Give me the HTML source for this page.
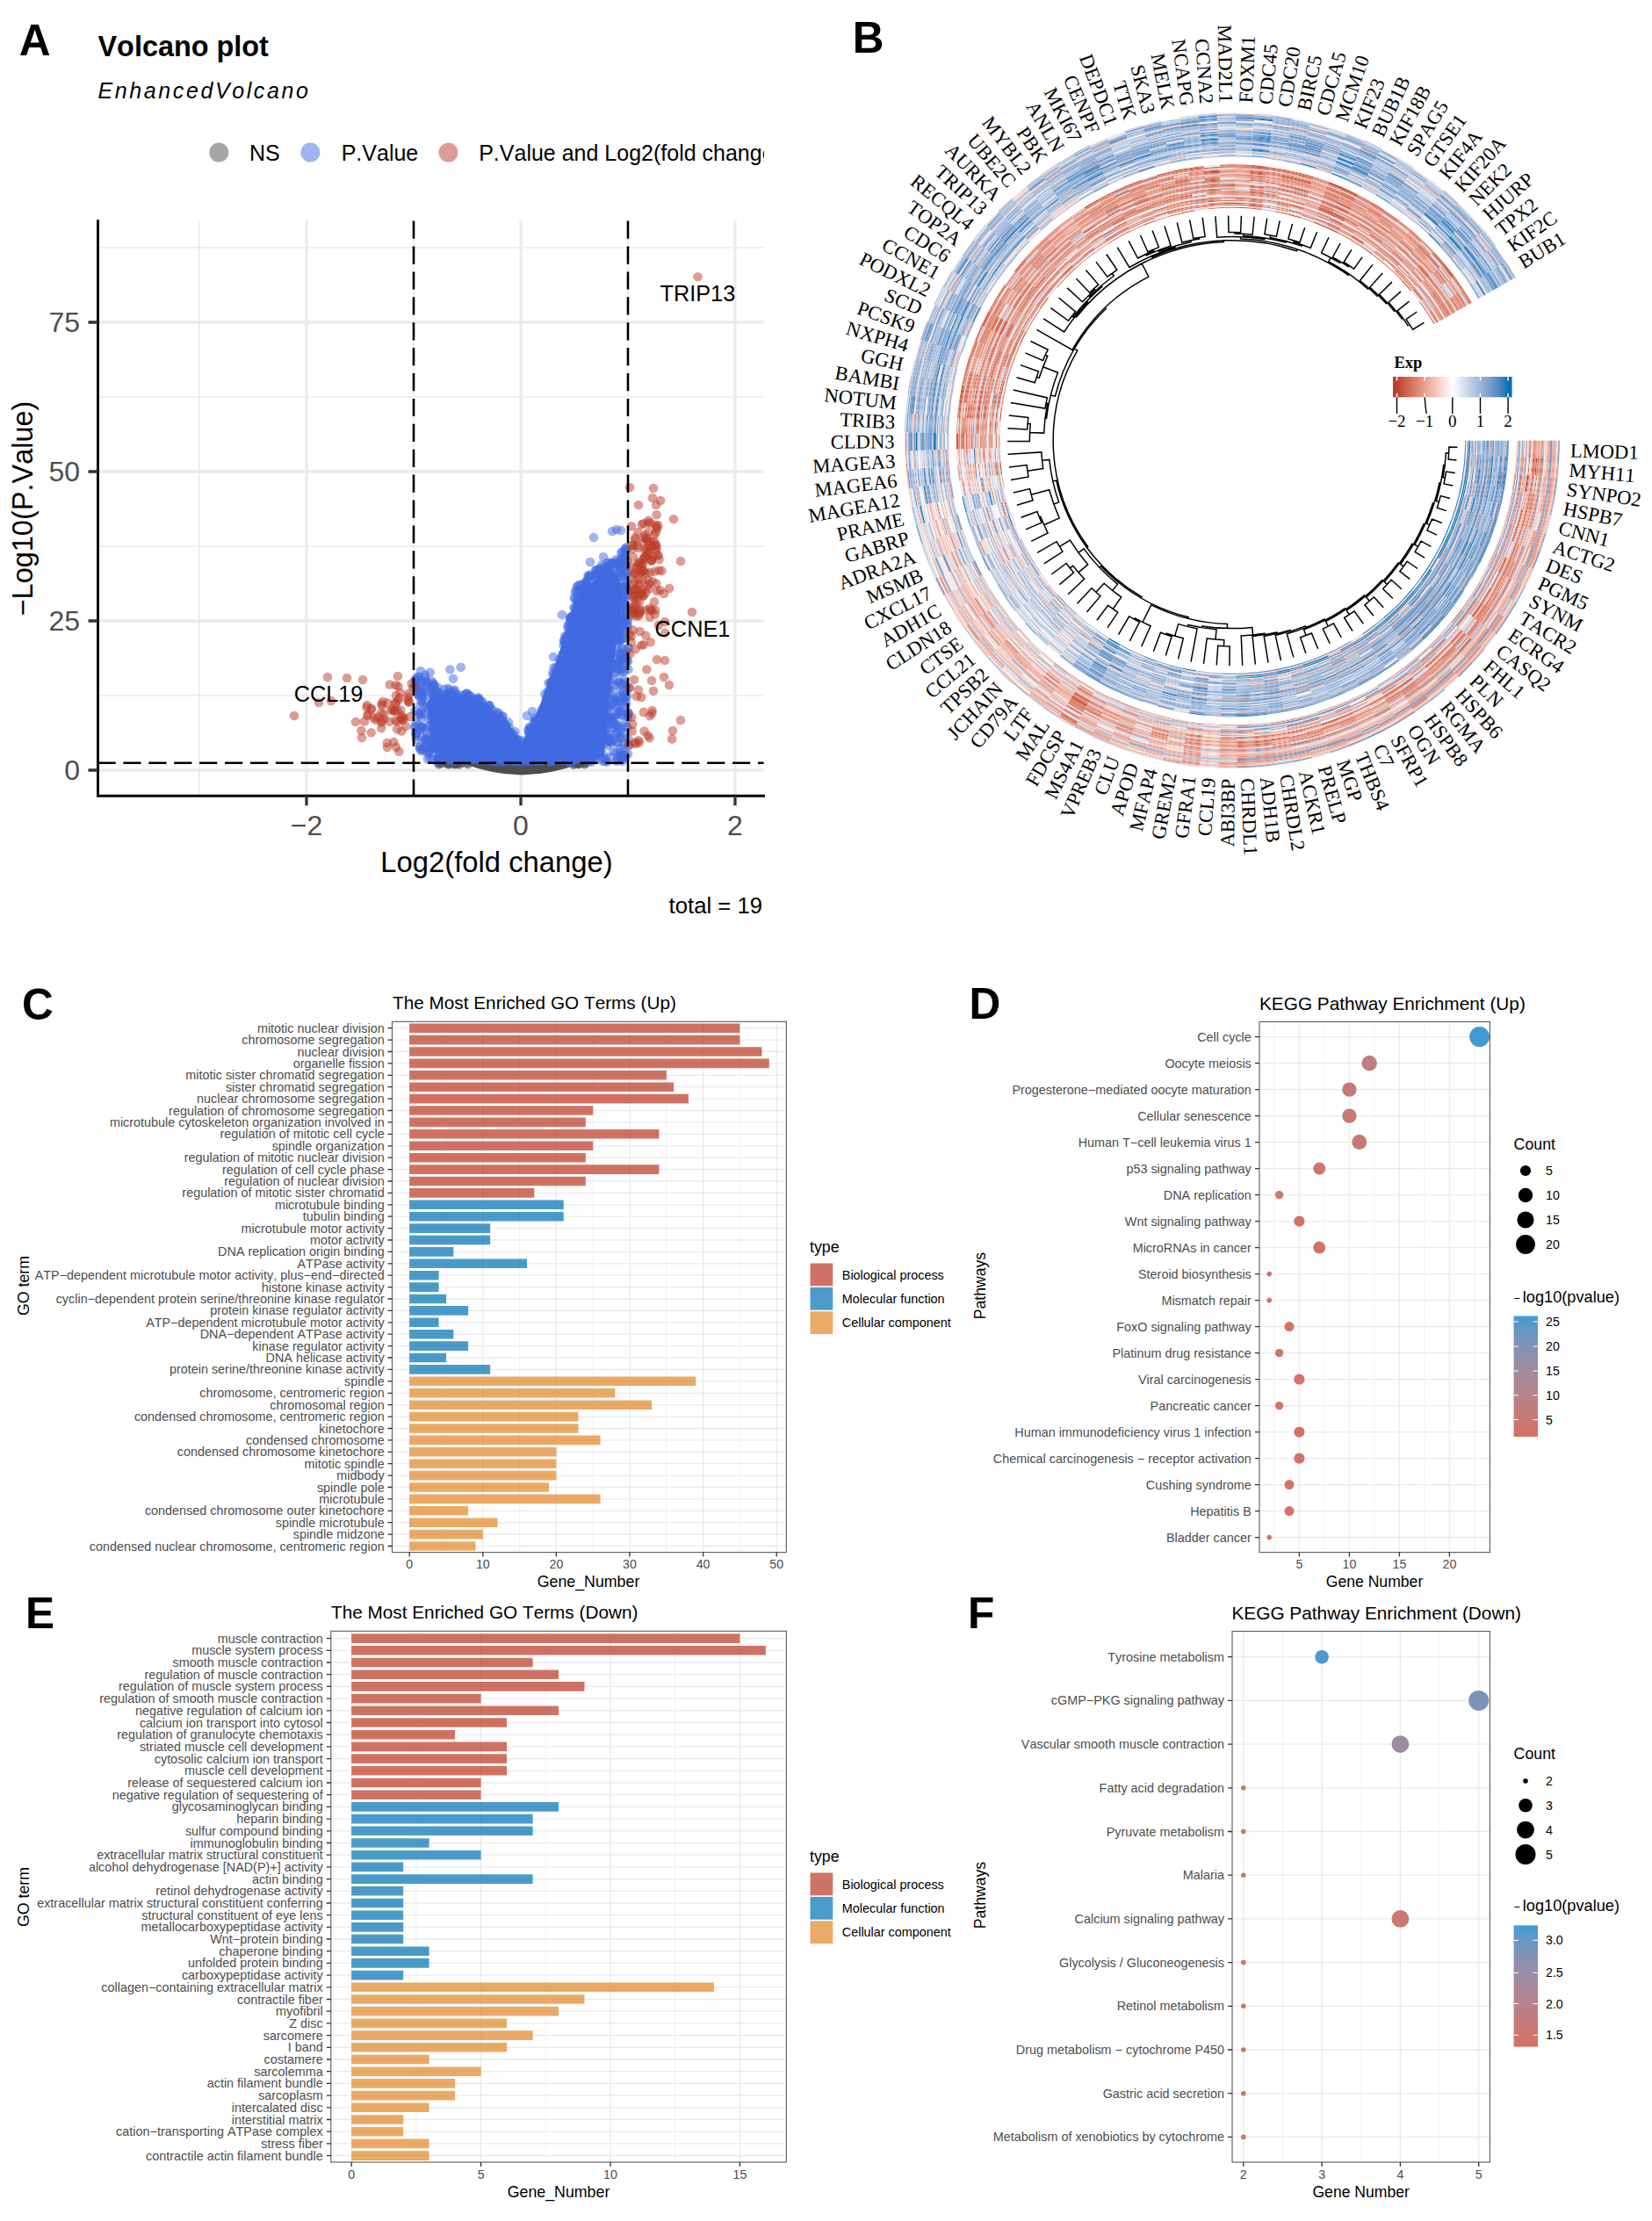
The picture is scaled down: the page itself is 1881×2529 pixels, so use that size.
<!DOCTYPE html>
<html><head><meta charset="utf-8"><title>Figure</title>
<style>html,body{margin:0;padding:0;background:#fff}svg{display:block;font-family:"Liberation Sans",Arial,Helvetica,sans-serif;font-kerning:none}</style>
</head><body>
<svg width="1881" height="2529" viewBox="0 0 1881 2529">
<rect width="1881" height="2529" fill="#fff"/>
<g id="panelA">
<text x="21.8" y="63" font-size="49.6" font-weight="bold">A</text>
<text x="111.5" y="63.5" font-size="32.4" font-weight="bold">Volcano plot</text>
<text x="111.5" y="112" font-size="25" font-style="italic" letter-spacing="2.6">EnhancedVolcano</text>
<clipPath id="clipA"><rect x="0" y="0" width="870" height="1100"/></clipPath>
<circle cx="249.3" cy="173.6" r="11" fill="#4D4D4D" fill-opacity=".5"/>
<circle cx="353.4" cy="173.6" r="11" fill="#4169E1" fill-opacity=".5"/>
<circle cx="510.5" cy="173.6" r="11" fill="#BC3C29" fill-opacity=".5"/>
<text x="284" y="183" font-size="25">NS</text>
<text x="388.7" y="183" font-size="25">P.Value</text>
<g clip-path="url(#clipA)">
<text x="545.2" y="183" font-size="25">P.Value and Log2(fold change)</text>
</g>
<path d="M227 251.6V906.3M471 251.6V906.3M715 251.6V906.3M111.5 792H869.5M111.5 622H869.5M111.5 452H869.5M111.5 282H869.5" stroke="#EBEBEB" stroke-width="1.7" fill="none"/>
<path d="M349 251.6V906.3M593 251.6V906.3M837 251.6V906.3M111.5 877H869.5M111.5 707H869.5M111.5 537H869.5M111.5 367H869.5" stroke="#EBEBEB" stroke-width="3.3" fill="none"/>
<path d="M531 866L657 866L657 869Q628 880 594 881Q560 880 531 869Z" fill="#4D4D4D" stroke="#4D4D4D" stroke-width="3" stroke-linejoin="round"/>
<g fill="#4D4D4D" fill-opacity=".5"><circle cx="508.6" cy="868.2" r="5"/><circle cx="516.9" cy="870.7" r="5"/><circle cx="651.5" cy="868.2" r="5"/><circle cx="499.5" cy="870.8" r="5"/><circle cx="520.6" cy="869.7" r="5"/><circle cx="511.5" cy="869.7" r="5"/><circle cx="501.2" cy="869.7" r="5"/><circle cx="517.9" cy="869.7" r="5"/><circle cx="520.9" cy="869.7" r="5"/><circle cx="658.9" cy="870.3" r="5"/><circle cx="666.6" cy="868.9" r="5"/><circle cx="527" cy="868.2" r="5"/><circle cx="658.9" cy="870.2" r="5"/><circle cx="507.2" cy="869.5" r="5"/><circle cx="656.2" cy="869.3" r="5"/><circle cx="651.4" cy="869" r="5"/><circle cx="658.9" cy="868.2" r="5"/><circle cx="499.7" cy="868.2" r="5"/><circle cx="661.6" cy="868.9" r="5"/><circle cx="511" cy="870.8" r="5"/><circle cx="661" cy="868.2" r="5"/><circle cx="526" cy="869.2" r="5"/><circle cx="531.8" cy="869.3" r="5"/><circle cx="665.9" cy="870.6" r="5"/><circle cx="657.5" cy="870" r="5"/><circle cx="510.8" cy="868.5" r="5"/><circle cx="654.2" cy="870.5" r="5"/><circle cx="503.1" cy="869.3" r="5"/><circle cx="510.4" cy="870.1" r="5"/><circle cx="516.1" cy="869.4" r="5"/><circle cx="667.1" cy="869.2" r="5"/><circle cx="658.7" cy="868.2" r="5"/><circle cx="498.6" cy="868.3" r="5"/><circle cx="519.4" cy="869.6" r="5"/><circle cx="533" cy="870.6" r="5"/><circle cx="652.7" cy="870.9" r="5"/><circle cx="519.5" cy="870.5" r="5"/><circle cx="658.4" cy="868.9" r="5"/><circle cx="663.5" cy="869.4" r="5"/><circle cx="523" cy="870.9" r="5"/></g>
<path d="M490 800L500 792L525 795L553 806L574 823L588 842L594.5 852L602 837L616 808L630 771L641 740L652 705L657 684L667 671L680 663L690 656L700 658L705 675L703 700L699 730L694 770L690 800L688 830L685 858L672 866L520 866L495 850Z" fill="#4169E1" stroke="#4169E1" stroke-width="6" stroke-linejoin="round"/>
<g fill="#4169E1" fill-opacity=".5"><circle cx="601" cy="864.5" r="5.3"/><circle cx="671.3" cy="866.2" r="5.3"/><circle cx="534.3" cy="791.6" r="5.3"/><circle cx="707.2" cy="729" r="5.3"/><circle cx="715" cy="858.5" r="5.3"/><circle cx="491" cy="783.4" r="5.3"/><circle cx="668.6" cy="862.8" r="5.3"/><circle cx="675" cy="865" r="5.3"/><circle cx="701.5" cy="725.6" r="5.3"/><circle cx="674.9" cy="668.8" r="5.3"/><circle cx="696.3" cy="728" r="5.3"/><circle cx="641.8" cy="730.3" r="5.3"/><circle cx="703.5" cy="793.3" r="5.3"/><circle cx="703.7" cy="681.2" r="5.3"/><circle cx="488.1" cy="785.7" r="5.3"/><circle cx="692.5" cy="654.4" r="5.3"/><circle cx="710" cy="671" r="5.3"/><circle cx="706.2" cy="716.6" r="5.3"/><circle cx="549" cy="799.1" r="5.3"/><circle cx="714.3" cy="816" r="5.3"/><circle cx="488" cy="854.3" r="5.3"/><circle cx="658.4" cy="688.9" r="5.3"/><circle cx="701.8" cy="642.1" r="5.3"/><circle cx="640.6" cy="865.5" r="5.3"/><circle cx="708.5" cy="863" r="5.3"/><circle cx="530.6" cy="861.2" r="5.3"/><circle cx="714.2" cy="653.1" r="5.3"/><circle cx="480.9" cy="828" r="5.3"/><circle cx="691.4" cy="789.1" r="5.3"/><circle cx="496" cy="828.1" r="5.3"/><circle cx="625.3" cy="788.6" r="5.3"/><circle cx="653.5" cy="863.8" r="5.3"/><circle cx="654.3" cy="692.6" r="5.3"/><circle cx="706.3" cy="648.8" r="5.3"/><circle cx="689.9" cy="794.4" r="5.3"/><circle cx="699.7" cy="796.8" r="5.3"/><circle cx="702" cy="678.6" r="5.3"/><circle cx="707.1" cy="840.5" r="5.3"/><circle cx="703.3" cy="755.1" r="5.3"/><circle cx="482.3" cy="801.7" r="5.3"/><circle cx="699.8" cy="647.5" r="5.3"/><circle cx="543.8" cy="803.5" r="5.3"/><circle cx="712.1" cy="681.3" r="5.3"/><circle cx="710" cy="647.1" r="5.3"/><circle cx="706.6" cy="831.4" r="5.3"/><circle cx="699.9" cy="825.5" r="5.3"/><circle cx="711.1" cy="678.4" r="5.3"/><circle cx="703.5" cy="799" r="5.3"/><circle cx="664" cy="674.3" r="5.3"/><circle cx="707.8" cy="779.4" r="5.3"/><circle cx="699.4" cy="672.8" r="5.3"/><circle cx="520.9" cy="862.3" r="5.3"/><circle cx="658.6" cy="690.2" r="5.3"/><circle cx="522.8" cy="863.4" r="5.3"/><circle cx="692.7" cy="840.3" r="5.3"/><circle cx="707" cy="646.5" r="5.3"/><circle cx="709.1" cy="667.9" r="5.3"/><circle cx="571.9" cy="822" r="5.3"/><circle cx="700.2" cy="661.6" r="5.3"/><circle cx="550.8" cy="865" r="5.3"/><circle cx="689.1" cy="866.9" r="5.3"/><circle cx="646" cy="729" r="5.3"/><circle cx="623.8" cy="786.9" r="5.3"/><circle cx="711.3" cy="763.7" r="5.3"/><circle cx="706.4" cy="694.7" r="5.3"/><circle cx="575.1" cy="824.2" r="5.3"/><circle cx="599.2" cy="851" r="5.3"/><circle cx="669.6" cy="861.6" r="5.3"/><circle cx="703.9" cy="863.8" r="5.3"/><circle cx="483.2" cy="851.2" r="5.3"/><circle cx="694.2" cy="773.2" r="5.3"/><circle cx="531.3" cy="799.8" r="5.3"/><circle cx="475.8" cy="772.8" r="5.3"/><circle cx="705.8" cy="649.7" r="5.3"/><circle cx="518" cy="865.3" r="5.3"/><circle cx="697.2" cy="657.1" r="5.3"/><circle cx="594.6" cy="849.6" r="5.3"/><circle cx="510" cy="853.8" r="5.3"/><circle cx="715.6" cy="762.2" r="5.3"/><circle cx="628.5" cy="865.9" r="5.3"/><circle cx="597.1" cy="843.4" r="5.3"/><circle cx="503.4" cy="853.8" r="5.3"/><circle cx="493.8" cy="777.7" r="5.3"/><circle cx="686.1" cy="814.4" r="5.3"/><circle cx="472.9" cy="779.5" r="5.3"/><circle cx="690.6" cy="814.7" r="5.3"/><circle cx="553.2" cy="806.2" r="5.3"/><circle cx="709.4" cy="670.3" r="5.3"/><circle cx="655" cy="698.4" r="5.3"/><circle cx="626.4" cy="791.7" r="5.3"/><circle cx="635" cy="864.6" r="5.3"/><circle cx="486.4" cy="836.3" r="5.3"/><circle cx="704.2" cy="642.3" r="5.3"/><circle cx="478.5" cy="831.2" r="5.3"/><circle cx="657.8" cy="667.3" r="5.3"/><circle cx="540.1" cy="797.5" r="5.3"/><circle cx="709.1" cy="743.5" r="5.3"/><circle cx="492.5" cy="824.1" r="5.3"/><circle cx="667.6" cy="662.1" r="5.3"/><circle cx="643.5" cy="742.1" r="5.3"/><circle cx="490.1" cy="815.9" r="5.3"/><circle cx="693.5" cy="742.8" r="5.3"/><circle cx="584.6" cy="840.7" r="5.3"/><circle cx="544.8" cy="794.3" r="5.3"/><circle cx="679.2" cy="654.4" r="5.3"/><circle cx="516.9" cy="863.7" r="5.3"/><circle cx="708.7" cy="640.9" r="5.3"/><circle cx="565.3" cy="865.9" r="5.3"/><circle cx="526.7" cy="799.2" r="5.3"/><circle cx="688.3" cy="812.4" r="5.3"/><circle cx="700.7" cy="661.7" r="5.3"/><circle cx="711.7" cy="624.7" r="5.3"/><circle cx="705.1" cy="668.6" r="5.3"/><circle cx="709" cy="705" r="5.3"/><circle cx="691" cy="770.1" r="5.3"/><circle cx="518.9" cy="791.7" r="5.3"/><circle cx="603.8" cy="835" r="5.3"/><circle cx="708.2" cy="634.2" r="5.3"/><circle cx="628" cy="777.2" r="5.3"/><circle cx="477.1" cy="770.5" r="5.3"/><circle cx="701" cy="699.3" r="5.3"/><circle cx="595.6" cy="863.6" r="5.3"/><circle cx="479.9" cy="799.3" r="5.3"/><circle cx="625.4" cy="792.6" r="5.3"/><circle cx="479.2" cy="812.5" r="5.3"/><circle cx="702.6" cy="865.1" r="5.3"/><circle cx="500.2" cy="861.4" r="5.3"/><circle cx="482.4" cy="812.4" r="5.3"/><circle cx="490.9" cy="775.3" r="5.3"/><circle cx="473.7" cy="780.9" r="5.3"/><circle cx="629.9" cy="775.6" r="5.3"/><circle cx="711.5" cy="794.3" r="5.3"/><circle cx="712.4" cy="827" r="5.3"/><circle cx="480.5" cy="827.5" r="5.3"/><circle cx="667.8" cy="666.1" r="5.3"/><circle cx="692.4" cy="840.7" r="5.3"/><circle cx="514.8" cy="793.8" r="5.3"/><circle cx="704.7" cy="810.6" r="5.3"/><circle cx="708.9" cy="679.8" r="5.3"/><circle cx="499.7" cy="859.6" r="5.3"/><circle cx="630.4" cy="866.3" r="5.3"/><circle cx="616.7" cy="808.3" r="5.3"/><circle cx="701.6" cy="836" r="5.3"/><circle cx="494.1" cy="851.8" r="5.3"/><circle cx="498.3" cy="864.5" r="5.3"/><circle cx="484.1" cy="843.2" r="5.3"/><circle cx="699.4" cy="639.9" r="5.3"/><circle cx="621.9" cy="795.5" r="5.3"/><circle cx="651.7" cy="719.1" r="5.3"/><circle cx="695.7" cy="736.5" r="5.3"/><circle cx="646.4" cy="712.3" r="5.3"/><circle cx="686.5" cy="858.3" r="5.3"/><circle cx="493.9" cy="793.2" r="5.3"/><circle cx="495.5" cy="836.7" r="5.3"/><circle cx="683.6" cy="652.5" r="5.3"/><circle cx="702.5" cy="714.1" r="5.3"/><circle cx="578" cy="865.2" r="5.3"/><circle cx="504.6" cy="862.3" r="5.3"/><circle cx="689.3" cy="840.6" r="5.3"/><circle cx="605.5" cy="829.1" r="5.3"/><circle cx="646.2" cy="732.5" r="5.3"/><circle cx="714.9" cy="690.4" r="5.3"/><circle cx="708.8" cy="760.8" r="5.3"/><circle cx="698.2" cy="697.6" r="5.3"/><circle cx="677.9" cy="859.5" r="5.3"/><circle cx="593.3" cy="849.7" r="5.3"/><circle cx="705.1" cy="787.5" r="5.3"/><circle cx="709.2" cy="739.1" r="5.3"/><circle cx="672.3" cy="658.5" r="5.3"/><circle cx="548.9" cy="864.5" r="5.3"/><circle cx="497.4" cy="843.1" r="5.3"/><circle cx="715.6" cy="841.5" r="5.3"/><circle cx="572" cy="815.8" r="5.3"/><circle cx="494.7" cy="845.5" r="5.3"/><circle cx="483.6" cy="842.1" r="5.3"/><circle cx="708" cy="727.1" r="5.3"/><circle cx="710.9" cy="689.1" r="5.3"/><circle cx="478.7" cy="784.4" r="5.3"/><circle cx="508.7" cy="795" r="5.3"/><circle cx="579.9" cy="828.3" r="5.3"/><circle cx="669.6" cy="655.6" r="5.3"/><circle cx="693.1" cy="764.8" r="5.3"/><circle cx="633.1" cy="759.8" r="5.3"/><circle cx="683.6" cy="648.7" r="5.3"/><circle cx="696.3" cy="802.2" r="5.3"/><circle cx="704.7" cy="723.1" r="5.3"/><circle cx="643.2" cy="724.2" r="5.3"/><circle cx="596.9" cy="851.7" r="5.3"/><circle cx="480.8" cy="794.2" r="5.3"/><circle cx="710.4" cy="777.6" r="5.3"/><circle cx="503.9" cy="795.3" r="5.3"/><circle cx="689.4" cy="651.2" r="5.3"/><circle cx="635.3" cy="767.7" r="5.3"/><circle cx="644" cy="729.2" r="5.3"/><circle cx="647.9" cy="865" r="5.3"/><circle cx="629.8" cy="775.1" r="5.3"/><circle cx="476.9" cy="812.5" r="5.3"/><circle cx="699.8" cy="658" r="5.3"/><circle cx="654.1" cy="698.3" r="5.3"/><circle cx="704.3" cy="741.1" r="5.3"/><circle cx="579.9" cy="862.3" r="5.3"/><circle cx="694.2" cy="656.9" r="5.3"/><circle cx="710.9" cy="846.7" r="5.3"/><circle cx="711.6" cy="860.3" r="5.3"/><circle cx="706.3" cy="737.6" r="5.3"/><circle cx="516.8" cy="788.1" r="5.3"/><circle cx="498.4" cy="867.6" r="5.3"/><circle cx="512.5" cy="859.8" r="5.3"/><circle cx="544.4" cy="795.4" r="5.3"/><circle cx="686" cy="657.8" r="5.3"/><circle cx="654.9" cy="702.1" r="5.3"/><circle cx="498" cy="851" r="5.3"/><circle cx="583.9" cy="866.5" r="5.3"/><circle cx="686.4" cy="812.4" r="5.3"/><circle cx="627" cy="776.8" r="5.3"/><circle cx="715.1" cy="737.8" r="5.3"/><circle cx="702.5" cy="701.8" r="5.3"/><circle cx="714.9" cy="706" r="5.3"/><circle cx="698.9" cy="669.1" r="5.3"/><circle cx="551" cy="806.1" r="5.3"/><circle cx="481.3" cy="774.7" r="5.3"/><circle cx="609.9" cy="866.8" r="5.3"/><circle cx="483.9" cy="771.6" r="5.3"/><circle cx="653.8" cy="680.7" r="5.3"/><circle cx="661.6" cy="864.2" r="5.3"/><circle cx="715.4" cy="673.2" r="5.3"/><circle cx="698.5" cy="656.3" r="5.3"/><circle cx="713.6" cy="742.2" r="5.3"/><circle cx="694.1" cy="642.5" r="5.3"/><circle cx="697.9" cy="856" r="5.3"/><circle cx="590.4" cy="842.2" r="5.3"/><circle cx="510.1" cy="789.1" r="5.3"/><circle cx="559.4" cy="813.9" r="5.3"/><circle cx="684.1" cy="661.5" r="5.3"/><circle cx="497.7" cy="863.5" r="5.3"/><circle cx="713" cy="623.4" r="5.3"/><circle cx="514.4" cy="789.8" r="5.3"/><circle cx="709.9" cy="840.2" r="5.3"/><circle cx="641.2" cy="865.5" r="5.3"/><circle cx="686.8" cy="798" r="5.3"/><circle cx="573.9" cy="863.1" r="5.3"/><circle cx="548.3" cy="862.8" r="5.3"/><circle cx="654.3" cy="711.6" r="5.3"/><circle cx="646.6" cy="715.3" r="5.3"/><circle cx="700" cy="749.8" r="5.3"/><circle cx="642.4" cy="729.6" r="5.3"/><circle cx="699.4" cy="663.9" r="5.3"/><circle cx="710.9" cy="796.5" r="5.3"/><circle cx="487.6" cy="807.8" r="5.3"/><circle cx="480.1" cy="788.4" r="5.3"/><circle cx="491.9" cy="807.1" r="5.3"/><circle cx="483.6" cy="788.7" r="5.3"/><circle cx="685" cy="819.5" r="5.3"/><circle cx="668.8" cy="666.1" r="5.3"/><circle cx="701.8" cy="728.4" r="5.3"/><circle cx="698.8" cy="758.1" r="5.3"/><circle cx="493.6" cy="815" r="5.3"/><circle cx="705.8" cy="720.7" r="5.3"/><circle cx="650.6" cy="724.6" r="5.3"/><circle cx="556.3" cy="806.3" r="5.3"/><circle cx="593.1" cy="852.1" r="5.3"/><circle cx="618.5" cy="861.7" r="5.3"/><circle cx="494.1" cy="779.9" r="5.3"/><circle cx="512.1" cy="855.1" r="5.3"/><circle cx="688" cy="644.9" r="5.3"/><circle cx="617.6" cy="814.9" r="5.3"/><circle cx="713.8" cy="625.5" r="5.3"/><circle cx="623.3" cy="791.4" r="5.3"/><circle cx="703.2" cy="720.1" r="5.3"/><circle cx="695.2" cy="806.6" r="5.3"/><circle cx="492.9" cy="797.9" r="5.3"/><circle cx="709.5" cy="786.5" r="5.3"/><circle cx="702.4" cy="845.7" r="5.3"/><circle cx="708.3" cy="750.6" r="5.3"/><circle cx="498.7" cy="862" r="5.3"/><circle cx="665.3" cy="679.3" r="5.3"/><circle cx="695.2" cy="789.8" r="5.3"/><circle cx="567.2" cy="814.9" r="5.3"/><circle cx="703.5" cy="825.6" r="5.3"/><circle cx="491.6" cy="781.4" r="5.3"/><circle cx="643.9" cy="727.7" r="5.3"/><circle cx="499.9" cy="789.2" r="5.3"/><circle cx="690.7" cy="770.6" r="5.3"/><circle cx="707" cy="744.2" r="5.3"/><circle cx="704.4" cy="730.9" r="5.3"/><circle cx="707.5" cy="707.3" r="5.3"/><circle cx="695" cy="742" r="5.3"/><circle cx="712.1" cy="629.5" r="5.3"/><circle cx="504" cy="858" r="5.3"/><circle cx="691.1" cy="651.9" r="5.3"/><circle cx="574.3" cy="864.4" r="5.3"/><circle cx="708.8" cy="796" r="5.3"/><circle cx="612.6" cy="825.6" r="5.3"/><circle cx="687.6" cy="656.3" r="5.3"/><circle cx="695.4" cy="729.8" r="5.3"/><circle cx="656.7" cy="685.2" r="5.3"/><circle cx="572.4" cy="821" r="5.3"/><circle cx="629.9" cy="861.7" r="5.3"/><circle cx="627.2" cy="791.5" r="5.3"/><circle cx="567.4" cy="820.5" r="5.3"/><circle cx="693.6" cy="649.1" r="5.3"/><circle cx="677.9" cy="653.5" r="5.3"/><circle cx="692.9" cy="804.5" r="5.3"/><circle cx="502.6" cy="794.5" r="5.3"/><circle cx="637.7" cy="863.6" r="5.3"/><circle cx="607.6" cy="820.9" r="5.3"/><circle cx="666.8" cy="668.3" r="5.3"/><circle cx="485.6" cy="775.7" r="5.3"/><circle cx="708.4" cy="699" r="5.3"/><circle cx="643.9" cy="863.1" r="5.3"/><circle cx="698.1" cy="799.2" r="5.3"/><circle cx="473.2" cy="835.2" r="5.3"/><circle cx="626.8" cy="867.8" r="5.3"/><circle cx="692.9" cy="820.1" r="5.3"/><circle cx="586.9" cy="867.6" r="5.3"/><circle cx="696.1" cy="817.7" r="5.3"/><circle cx="695.4" cy="796.1" r="5.3"/><circle cx="713.2" cy="726.4" r="5.3"/><circle cx="565.3" cy="822" r="5.3"/><circle cx="678.7" cy="649.1" r="5.3"/><circle cx="472.3" cy="826.7" r="5.3"/><circle cx="641.6" cy="735.3" r="5.3"/><circle cx="529.2" cy="866.6" r="5.3"/><circle cx="700.8" cy="671" r="5.3"/><circle cx="670.2" cy="656.5" r="5.3"/><circle cx="476" cy="826.6" r="5.3"/><circle cx="712.2" cy="754.3" r="5.3"/><circle cx="493.3" cy="801.2" r="5.3"/><circle cx="696.4" cy="828.5" r="5.3"/><circle cx="477.6" cy="788.6" r="5.3"/><circle cx="713.3" cy="781.8" r="5.3"/><circle cx="698.4" cy="698.8" r="5.3"/><circle cx="496" cy="825.5" r="5.3"/><circle cx="709.5" cy="656.1" r="5.3"/><circle cx="641.1" cy="861.7" r="5.3"/><circle cx="647.5" cy="867.4" r="5.3"/><circle cx="629.5" cy="765.7" r="5.3"/><circle cx="632.7" cy="767.5" r="5.3"/><circle cx="592.4" cy="862.2" r="5.3"/><circle cx="493.5" cy="852.7" r="5.3"/><circle cx="694.4" cy="655.3" r="5.3"/><circle cx="633.5" cy="764.7" r="5.3"/><circle cx="713.7" cy="712.7" r="5.3"/><circle cx="681.4" cy="648.2" r="5.3"/><circle cx="708.8" cy="707.7" r="5.3"/><circle cx="659.7" cy="672.1" r="5.3"/><circle cx="499.7" cy="866" r="5.3"/><circle cx="472.7" cy="781.5" r="5.3"/><circle cx="704.5" cy="803.8" r="5.3"/><circle cx="703" cy="717.5" r="5.3"/><circle cx="592" cy="867.9" r="5.3"/><circle cx="676.8" cy="666.5" r="5.3"/><circle cx="499.9" cy="859.9" r="5.3"/><circle cx="707.3" cy="683.6" r="5.3"/><circle cx="696.9" cy="641.5" r="5.3"/><circle cx="541.7" cy="861.6" r="5.3"/><circle cx="601.3" cy="831.4" r="5.3"/><circle cx="615.4" cy="819.3" r="5.3"/><circle cx="488.9" cy="843.9" r="5.3"/><circle cx="515" cy="791.5" r="5.3"/><circle cx="514.7" cy="859.4" r="5.3"/><circle cx="664.9" cy="674.4" r="5.3"/><circle cx="652.3" cy="706.7" r="5.3"/><circle cx="703.7" cy="762.1" r="5.3"/><circle cx="644.7" cy="726.5" r="5.3"/><circle cx="629.2" cy="776.8" r="5.3"/><circle cx="644.8" cy="861.4" r="5.3"/><circle cx="513" cy="792.5" r="5.3"/><circle cx="535.8" cy="796.3" r="5.3"/><circle cx="498.3" cy="853.3" r="5.3"/><circle cx="710.6" cy="652.9" r="5.3"/><circle cx="624.8" cy="792.6" r="5.3"/><circle cx="650.7" cy="702.1" r="5.3"/><circle cx="508.2" cy="791.6" r="5.3"/><circle cx="666.2" cy="674" r="5.3"/><circle cx="493.1" cy="784.2" r="5.3"/><circle cx="548.2" cy="798.9" r="5.3"/><circle cx="507.5" cy="852.6" r="5.3"/><circle cx="709" cy="628.1" r="5.3"/><circle cx="530.2" cy="862.8" r="5.3"/><circle cx="694.3" cy="735.6" r="5.3"/><circle cx="518" cy="859.4" r="5.3"/><circle cx="496.5" cy="822.4" r="5.3"/><circle cx="573.8" cy="824.5" r="5.3"/><circle cx="472.6" cy="809.7" r="5.3"/><circle cx="698.1" cy="820.1" r="5.3"/><circle cx="678.2" cy="649.1" r="5.3"/><circle cx="688" cy="650.5" r="5.3"/><circle cx="702.7" cy="804.8" r="5.3"/><circle cx="688.4" cy="784.7" r="5.3"/><circle cx="647.9" cy="724.5" r="5.3"/><circle cx="700.6" cy="666.4" r="5.3"/><circle cx="609.2" cy="817.8" r="5.3"/><circle cx="699.1" cy="667.9" r="5.3"/><circle cx="692.9" cy="844.6" r="5.3"/><circle cx="596.7" cy="852.8" r="5.3"/><circle cx="487.3" cy="818.2" r="5.3"/><circle cx="553.3" cy="810.5" r="5.3"/><circle cx="579.1" cy="863.1" r="5.3"/><circle cx="643.9" cy="861.6" r="5.3"/><circle cx="698.2" cy="717.4" r="5.3"/><circle cx="705.4" cy="652.1" r="5.3"/><circle cx="704.3" cy="755.1" r="5.3"/><circle cx="509.7" cy="790.9" r="5.3"/><circle cx="535.4" cy="802" r="5.3"/><circle cx="704.8" cy="755.5" r="5.3"/><circle cx="492.2" cy="850.9" r="5.3"/><circle cx="686.5" cy="807.2" r="5.3"/><circle cx="618.1" cy="864.1" r="5.3"/><circle cx="636.8" cy="862.2" r="5.3"/><circle cx="559.4" cy="864.6" r="5.3"/><circle cx="557.1" cy="803" r="5.3"/><circle cx="704" cy="834.2" r="5.3"/><circle cx="636" cy="760.3" r="5.3"/><circle cx="650.6" cy="719.2" r="5.3"/><circle cx="708.1" cy="858.7" r="5.3"/><circle cx="694.1" cy="817" r="5.3"/><circle cx="673.7" cy="867.6" r="5.3"/><circle cx="657.9" cy="681.9" r="5.3"/><circle cx="490.6" cy="852.2" r="5.3"/><circle cx="701.5" cy="637.3" r="5.3"/><circle cx="583.1" cy="835.2" r="5.3"/><circle cx="715.1" cy="752.9" r="5.3"/><circle cx="650.8" cy="702.5" r="5.3"/><circle cx="701.3" cy="662.3" r="5.3"/><circle cx="622" cy="862.6" r="5.3"/><circle cx="602.2" cy="833" r="5.3"/><circle cx="696.6" cy="820.4" r="5.3"/><circle cx="654.7" cy="674.2" r="5.3"/><circle cx="639.6" cy="756.3" r="5.3"/><circle cx="713.5" cy="650.8" r="5.3"/><circle cx="614.4" cy="861.5" r="5.3"/><circle cx="705.5" cy="776.7" r="5.3"/><circle cx="544.5" cy="862.2" r="5.3"/><circle cx="530.6" cy="863.1" r="5.3"/><circle cx="710.3" cy="694.8" r="5.3"/><circle cx="693.8" cy="765.3" r="5.3"/><circle cx="495.2" cy="852.7" r="5.3"/><circle cx="709.7" cy="718.3" r="5.3"/><circle cx="486.7" cy="826.8" r="5.3"/><circle cx="616" cy="819.2" r="5.3"/><circle cx="657.7" cy="676.7" r="5.3"/><circle cx="659.7" cy="671.7" r="5.3"/><circle cx="702.3" cy="677.3" r="5.3"/><circle cx="645.1" cy="724.4" r="5.3"/><circle cx="495.4" cy="804.3" r="5.3"/><circle cx="511.7" cy="785.7" r="5.3"/><circle cx="492.7" cy="845.2" r="5.3"/><circle cx="491.8" cy="790.3" r="5.3"/><circle cx="518.1" cy="785.8" r="5.3"/><circle cx="501.5" cy="789.9" r="5.3"/><circle cx="712.1" cy="626.5" r="5.3"/><circle cx="649.3" cy="703.7" r="5.3"/><circle cx="492.7" cy="800.2" r="5.3"/><circle cx="695.4" cy="815.4" r="5.3"/><circle cx="615.9" cy="862.2" r="5.3"/><circle cx="699.6" cy="745.3" r="5.3"/><circle cx="559.1" cy="807.5" r="5.3"/><circle cx="708.6" cy="748.8" r="5.3"/><circle cx="547.9" cy="863.4" r="5.3"/><circle cx="562.2" cy="809.1" r="5.3"/><circle cx="475.1" cy="787" r="5.3"/><circle cx="682.1" cy="846.9" r="5.3"/><circle cx="629.8" cy="768.5" r="5.3"/><circle cx="693.8" cy="644.6" r="5.3"/><circle cx="714.6" cy="676.3" r="5.3"/><circle cx="479.4" cy="818.1" r="5.3"/><circle cx="588.8" cy="866.7" r="5.3"/><circle cx="713.5" cy="658.2" r="5.3"/><circle cx="510.2" cy="783.9" r="5.3"/><circle cx="581.2" cy="862.3" r="5.3"/><circle cx="478.2" cy="853.1" r="5.3"/><circle cx="679.8" cy="660.2" r="5.3"/><circle cx="473.9" cy="842" r="5.3"/><circle cx="602.1" cy="834.9" r="5.3"/><circle cx="694.5" cy="836.9" r="5.3"/><circle cx="699.4" cy="755.8" r="5.3"/><circle cx="683.8" cy="651.6" r="5.3"/><circle cx="643.4" cy="733.3" r="5.3"/><circle cx="539.7" cy="804.9" r="5.3"/><circle cx="706.6" cy="708.9" r="5.3"/><circle cx="665.2" cy="665.5" r="5.3"/><circle cx="649.2" cy="705.1" r="5.3"/><circle cx="700.6" cy="665.8" r="5.3"/><circle cx="479.5" cy="810.7" r="5.3"/><circle cx="486.2" cy="779.1" r="5.3"/><circle cx="496.8" cy="792.8" r="5.3"/><circle cx="488" cy="856.7" r="5.3"/><circle cx="608.2" cy="835.5" r="5.3"/><circle cx="688.4" cy="864.5" r="5.3"/><circle cx="473.3" cy="774.9" r="5.3"/><circle cx="649.6" cy="709" r="5.3"/><circle cx="544.4" cy="861.6" r="5.3"/><circle cx="526.6" cy="862" r="5.3"/><circle cx="657.3" cy="686.1" r="5.3"/><circle cx="581.3" cy="837.9" r="5.3"/><circle cx="659.2" cy="685.4" r="5.3"/><circle cx="544.8" cy="797.5" r="5.3"/><circle cx="704.2" cy="719.1" r="5.3"/><circle cx="485.9" cy="791.9" r="5.3"/><circle cx="491.2" cy="819.3" r="5.3"/><circle cx="648.4" cy="710.3" r="5.3"/><circle cx="537.9" cy="865.2" r="5.3"/><circle cx="691.4" cy="867.5" r="5.3"/><circle cx="517.4" cy="859.8" r="5.3"/><circle cx="705.5" cy="861" r="5.3"/><circle cx="702.8" cy="827.5" r="5.3"/><circle cx="561.4" cy="818.7" r="5.3"/><circle cx="541.1" cy="862.4" r="5.3"/><circle cx="562.3" cy="867.3" r="5.3"/><circle cx="689.9" cy="646.8" r="5.3"/><circle cx="671.6" cy="654.4" r="5.3"/><circle cx="701" cy="779.7" r="5.3"/><circle cx="702.5" cy="813.4" r="5.3"/><circle cx="531.6" cy="789.3" r="5.3"/><circle cx="691.4" cy="647.6" r="5.3"/><circle cx="513" cy="862.8" r="5.3"/><circle cx="706.7" cy="720.5" r="5.3"/><circle cx="574.9" cy="828.3" r="5.3"/><circle cx="643" cy="861.4" r="5.3"/><circle cx="495.3" cy="801.5" r="5.3"/><circle cx="686" cy="866.6" r="5.3"/><circle cx="687.9" cy="784.6" r="5.3"/><circle cx="700.2" cy="759.5" r="5.3"/><circle cx="710.2" cy="773.9" r="5.3"/><circle cx="526.2" cy="794.7" r="5.3"/><circle cx="706.7" cy="813.7" r="5.3"/><circle cx="669.2" cy="659.6" r="5.3"/><circle cx="702.2" cy="656.6" r="5.3"/><circle cx="673.6" cy="670.3" r="5.3"/><circle cx="714.2" cy="698.6" r="5.3"/><circle cx="698.4" cy="695" r="5.3"/><circle cx="672.2" cy="655.7" r="5.3"/><circle cx="688.2" cy="656.3" r="5.3"/><circle cx="540" cy="803.5" r="5.3"/><circle cx="703" cy="729.7" r="5.3"/><circle cx="715.7" cy="737.7" r="5.3"/><circle cx="696.2" cy="846" r="5.3"/><circle cx="572.5" cy="867.7" r="5.3"/><circle cx="476.2" cy="831.2" r="5.3"/><circle cx="712.5" cy="671.4" r="5.3"/><circle cx="704.4" cy="776.5" r="5.3"/><circle cx="580.9" cy="865.5" r="5.3"/><circle cx="702.9" cy="765.7" r="5.3"/><circle cx="580.7" cy="864.7" r="5.3"/><circle cx="555.8" cy="814.5" r="5.3"/><circle cx="478.5" cy="802.9" r="5.3"/><circle cx="517.3" cy="863.3" r="5.3"/><circle cx="636.7" cy="750.8" r="5.3"/><circle cx="580.3" cy="836.5" r="5.3"/><circle cx="649.3" cy="704.2" r="5.3"/><circle cx="672.2" cy="866.3" r="5.3"/><circle cx="563.9" cy="866.6" r="5.3"/><circle cx="566.3" cy="811.3" r="5.3"/><circle cx="702.7" cy="687.3" r="5.3"/><circle cx="649.6" cy="702.6" r="5.3"/><circle cx="697.7" cy="816.8" r="5.3"/><circle cx="602.8" cy="827.7" r="5.3"/><circle cx="713.7" cy="662.9" r="5.3"/><circle cx="683.5" cy="647.3" r="5.3"/><circle cx="707.5" cy="702.7" r="5.3"/><circle cx="707.7" cy="641.1" r="5.3"/><circle cx="480.8" cy="853" r="5.3"/><circle cx="575.4" cy="863.4" r="5.3"/><circle cx="699.1" cy="726.8" r="5.3"/><circle cx="692.6" cy="784.5" r="5.3"/><circle cx="706.5" cy="829.5" r="5.3"/><circle cx="480.5" cy="792.3" r="5.3"/><circle cx="630.6" cy="760.3" r="5.3"/><circle cx="597.1" cy="867.2" r="5.3"/><circle cx="478.6" cy="849.8" r="5.3"/><circle cx="687.9" cy="792.9" r="5.3"/><circle cx="544.8" cy="800.9" r="5.3"/><circle cx="617.6" cy="812.8" r="5.3"/><circle cx="712.5" cy="645.2" r="5.3"/><circle cx="698.4" cy="780.3" r="5.3"/><circle cx="562.1" cy="862.8" r="5.3"/><circle cx="648.9" cy="715.8" r="5.3"/><circle cx="473.8" cy="837.8" r="5.3"/><circle cx="533.2" cy="793" r="5.3"/><circle cx="617.2" cy="866.2" r="5.3"/><circle cx="647.4" cy="732.1" r="5.3"/><circle cx="587.4" cy="842.4" r="5.3"/><circle cx="579" cy="822.4" r="5.3"/><circle cx="515.1" cy="798.6" r="5.3"/><circle cx="706" cy="698.5" r="5.3"/><circle cx="624.6" cy="777.7" r="5.3"/><circle cx="695.2" cy="657.2" r="5.3"/><circle cx="568.3" cy="812.4" r="5.3"/><circle cx="712.5" cy="749" r="5.3"/><circle cx="646.3" cy="725.4" r="5.3"/><circle cx="669.8" cy="864.5" r="5.3"/><circle cx="700.8" cy="678.2" r="5.3"/><circle cx="496.9" cy="790" r="5.3"/><circle cx="570.1" cy="819" r="5.3"/><circle cx="701.5" cy="835.4" r="5.3"/><circle cx="494.2" cy="838.2" r="5.3"/><circle cx="492.3" cy="849.6" r="5.3"/><circle cx="693.4" cy="805.6" r="5.3"/><circle cx="708.2" cy="814.6" r="5.3"/><circle cx="545.4" cy="801.6" r="5.3"/><circle cx="609.6" cy="820.2" r="5.3"/><circle cx="680.8" cy="652.9" r="5.3"/><circle cx="695.4" cy="828.7" r="5.3"/><circle cx="711.9" cy="858.8" r="5.3"/><circle cx="714.5" cy="827.8" r="5.3"/><circle cx="544.4" cy="802.4" r="5.3"/><circle cx="688" cy="832.7" r="5.3"/><circle cx="652.9" cy="866.1" r="5.3"/><circle cx="709.5" cy="765.3" r="5.3"/><circle cx="651.8" cy="865.9" r="5.3"/><circle cx="702.3" cy="641.5" r="5.3"/><circle cx="704.7" cy="682.3" r="5.3"/><circle cx="701.6" cy="856.5" r="5.3"/><circle cx="704.1" cy="679.9" r="5.3"/><circle cx="528.7" cy="795.6" r="5.3"/><circle cx="710.5" cy="851.2" r="5.3"/><circle cx="713.4" cy="801.2" r="5.3"/><circle cx="608.6" cy="831.4" r="5.3"/><circle cx="492.9" cy="796.9" r="5.3"/><circle cx="688.6" cy="659.5" r="5.3"/><circle cx="713.2" cy="668.4" r="5.3"/><circle cx="697.7" cy="641.8" r="5.3"/><circle cx="555.7" cy="865.9" r="5.3"/><circle cx="715.6" cy="849.4" r="5.3"/><circle cx="486.8" cy="864.4" r="5.3"/><circle cx="493" cy="829.8" r="5.3"/><circle cx="714.8" cy="812.5" r="5.3"/><circle cx="708.9" cy="635.9" r="5.3"/><circle cx="656.1" cy="672.7" r="5.3"/><circle cx="482.1" cy="797.8" r="5.3"/><circle cx="701.3" cy="658.9" r="5.3"/><circle cx="695.6" cy="762.2" r="5.3"/><circle cx="615.1" cy="815.3" r="5.3"/><circle cx="702.1" cy="681.3" r="5.3"/><circle cx="667.6" cy="662" r="5.3"/><circle cx="628.8" cy="777.5" r="5.3"/><circle cx="656.6" cy="668.5" r="5.3"/><circle cx="689.8" cy="782.3" r="5.3"/><circle cx="604" cy="829.1" r="5.3"/><circle cx="714.9" cy="811.2" r="5.3"/><circle cx="707.9" cy="862.5" r="5.3"/><circle cx="663.8" cy="671.4" r="5.3"/><circle cx="646" cy="739.8" r="5.3"/><circle cx="649.8" cy="867.4" r="5.3"/><circle cx="592.9" cy="854.8" r="5.3"/><circle cx="710.6" cy="686.7" r="5.3"/><circle cx="549.2" cy="804.3" r="5.3"/><circle cx="709.5" cy="727" r="5.3"/><circle cx="708.9" cy="778.7" r="5.3"/><circle cx="486.5" cy="805" r="5.3"/><circle cx="713.2" cy="644.5" r="5.3"/><circle cx="686.2" cy="657" r="5.3"/><circle cx="694.4" cy="650.3" r="5.3"/><circle cx="595.5" cy="861.7" r="5.3"/><circle cx="699.5" cy="672" r="5.3"/><circle cx="711" cy="705.5" r="5.3"/><circle cx="710.2" cy="862" r="5.3"/><circle cx="684.9" cy="643.4" r="5.3"/><circle cx="613.2" cy="866.7" r="5.3"/><circle cx="702.7" cy="678.2" r="5.3"/><circle cx="560.5" cy="815.6" r="5.3"/><circle cx="699.2" cy="756.4" r="5.3"/><circle cx="477.6" cy="793.7" r="5.3"/><circle cx="481.5" cy="782.4" r="5.3"/><circle cx="714" cy="752.5" r="5.3"/><circle cx="711" cy="683.1" r="5.3"/><circle cx="620" cy="804.1" r="5.3"/><circle cx="489.1" cy="838.3" r="5.3"/><circle cx="702.5" cy="845" r="5.3"/><circle cx="707.3" cy="809.4" r="5.3"/><circle cx="483.1" cy="830.5" r="5.3"/><circle cx="487.1" cy="857.5" r="5.3"/><circle cx="685.2" cy="843.3" r="5.3"/><circle cx="488.8" cy="844.1" r="5.3"/><circle cx="587.2" cy="863.2" r="5.3"/><circle cx="658.4" cy="862" r="5.3"/><circle cx="704.9" cy="797.8" r="5.3"/><circle cx="626" cy="785.6" r="5.3"/><circle cx="489.2" cy="857.2" r="5.3"/><circle cx="707.4" cy="685.7" r="5.3"/><circle cx="706.4" cy="663.5" r="5.3"/><circle cx="479.8" cy="787.5" r="5.3"/><circle cx="700" cy="691.5" r="5.3"/><circle cx="491.9" cy="812.4" r="5.3"/><circle cx="640.4" cy="744.9" r="5.3"/><circle cx="707.1" cy="860.4" r="5.3"/><circle cx="502.1" cy="863.9" r="5.3"/><circle cx="645.7" cy="741.7" r="5.3"/><circle cx="703.2" cy="714.7" r="5.3"/><circle cx="480.7" cy="840.1" r="5.3"/><circle cx="632.1" cy="771.3" r="5.3"/><circle cx="715.8" cy="783.3" r="5.3"/><circle cx="480.4" cy="828" r="5.3"/><circle cx="524.3" cy="793.9" r="5.3"/><circle cx="513.1" cy="790.9" r="5.3"/><circle cx="623.1" cy="796.5" r="5.3"/><circle cx="705.7" cy="690.3" r="5.3"/><circle cx="695.2" cy="862" r="5.3"/><circle cx="568" cy="817.9" r="5.3"/><circle cx="494.1" cy="829.8" r="5.3"/><circle cx="705.2" cy="744.4" r="5.3"/><circle cx="688.3" cy="835.9" r="5.3"/><circle cx="682.9" cy="662.6" r="5.3"/><circle cx="707.8" cy="667.7" r="5.3"/><circle cx="546.7" cy="804.9" r="5.3"/><circle cx="516" cy="794.5" r="5.3"/><circle cx="585.9" cy="837.5" r="5.3"/><circle cx="659.7" cy="685.8" r="5.3"/><circle cx="677.9" cy="656.1" r="5.3"/><circle cx="714.3" cy="708.5" r="5.3"/><circle cx="555.8" cy="803.3" r="5.3"/><circle cx="592.2" cy="861.1" r="5.3"/><circle cx="679.2" cy="658.6" r="5.3"/><circle cx="697.5" cy="843.2" r="5.3"/><circle cx="612.2" cy="825.9" r="5.3"/><circle cx="491.7" cy="831" r="5.3"/><circle cx="688.3" cy="802.5" r="5.3"/><circle cx="545.5" cy="796.4" r="5.3"/><circle cx="683.3" cy="839.9" r="5.3"/><circle cx="585.5" cy="845" r="5.3"/><circle cx="707.8" cy="761.2" r="5.3"/><circle cx="580" cy="862.3" r="5.3"/><circle cx="701" cy="709.8" r="5.3"/><circle cx="705.8" cy="753.9" r="5.3"/><circle cx="550.6" cy="803.7" r="5.3"/><circle cx="690.4" cy="647.8" r="5.3"/><circle cx="566" cy="863.9" r="5.3"/><circle cx="688.8" cy="790.7" r="5.3"/><circle cx="515.1" cy="867.5" r="5.3"/><circle cx="497.9" cy="831.6" r="5.3"/><circle cx="698" cy="647.1" r="5.3"/><circle cx="684.3" cy="864.5" r="5.3"/><circle cx="495.6" cy="818.9" r="5.3"/><circle cx="493.4" cy="779.8" r="5.3"/><circle cx="506.2" cy="784.8" r="5.3"/><circle cx="485.1" cy="841" r="5.3"/><circle cx="685.9" cy="798.4" r="5.3"/><circle cx="652.1" cy="709.7" r="5.3"/><circle cx="707.8" cy="710.7" r="5.3"/><circle cx="691.8" cy="848.7" r="5.3"/><circle cx="531.2" cy="789.9" r="5.3"/><circle cx="535.5" cy="792.6" r="5.3"/><circle cx="506.3" cy="861.5" r="5.3"/><circle cx="575" cy="865.1" r="5.3"/><circle cx="489.3" cy="862.7" r="5.3"/><circle cx="710.8" cy="655.7" r="5.3"/><circle cx="659.4" cy="665.7" r="5.3"/><circle cx="472.3" cy="828.8" r="5.3"/><circle cx="547.4" cy="805.5" r="5.3"/><circle cx="511.7" cy="860" r="5.3"/><circle cx="690.7" cy="784.1" r="5.3"/><circle cx="492.1" cy="812.6" r="5.3"/><circle cx="473.3" cy="774.4" r="5.3"/><circle cx="497.4" cy="787.5" r="5.3"/><circle cx="712.4" cy="795.3" r="5.3"/><circle cx="574.3" cy="866.7" r="5.3"/><circle cx="652.6" cy="712.2" r="5.3"/><circle cx="557.3" cy="803.2" r="5.3"/><circle cx="705.7" cy="857" r="5.3"/><circle cx="581.1" cy="833.2" r="5.3"/><circle cx="478.6" cy="814.1" r="5.3"/><circle cx="620.4" cy="790.3" r="5.3"/><circle cx="710.3" cy="679.5" r="5.3"/><circle cx="673.3" cy="860" r="5.3"/><circle cx="692.7" cy="843.6" r="5.3"/><circle cx="707" cy="749.2" r="5.3"/><circle cx="698.6" cy="774" r="5.3"/><circle cx="514.8" cy="865" r="5.3"/><circle cx="700.8" cy="718.5" r="5.3"/><circle cx="495.3" cy="786.8" r="5.3"/><circle cx="689.9" cy="863.4" r="5.3"/><circle cx="486.4" cy="851.2" r="5.3"/><circle cx="712.6" cy="667.7" r="5.3"/><circle cx="577" cy="828.9" r="5.3"/><circle cx="495.7" cy="850" r="5.3"/><circle cx="485.8" cy="850.4" r="5.3"/><circle cx="620.6" cy="805.2" r="5.3"/><circle cx="489.5" cy="804.5" r="5.3"/><circle cx="543.9" cy="796.4" r="5.3"/><circle cx="484.9" cy="775.9" r="5.3"/><circle cx="603.5" cy="829.3" r="5.3"/><circle cx="666.3" cy="861.4" r="5.3"/><circle cx="652.5" cy="712.3" r="5.3"/><circle cx="508.3" cy="864.5" r="5.3"/><circle cx="492.4" cy="864.9" r="5.3"/><circle cx="640.6" cy="747.1" r="5.3"/><circle cx="490.7" cy="782.5" r="5.3"/><circle cx="527" cy="791.5" r="5.3"/><circle cx="709.8" cy="864.3" r="5.3"/><circle cx="689.5" cy="650.7" r="5.3"/><circle cx="649.8" cy="865.5" r="5.3"/><circle cx="586.4" cy="833" r="5.3"/><circle cx="668.9" cy="862.6" r="5.3"/><circle cx="706.4" cy="750.6" r="5.3"/><circle cx="559.2" cy="814.8" r="5.3"/><circle cx="703.2" cy="813.3" r="5.3"/><circle cx="485.9" cy="842.3" r="5.3"/><circle cx="583.5" cy="865" r="5.3"/><circle cx="625.5" cy="864" r="5.3"/><circle cx="695.3" cy="660.2" r="5.3"/><circle cx="653.5" cy="691.7" r="5.3"/><circle cx="692.1" cy="748.8" r="5.3"/><circle cx="565.7" cy="866.8" r="5.3"/><circle cx="715.3" cy="816.6" r="5.3"/><circle cx="653.5" cy="707" r="5.3"/><circle cx="695" cy="843.3" r="5.3"/><circle cx="472.4" cy="774" r="5.3"/><circle cx="612.3" cy="826.7" r="5.3"/><circle cx="703.1" cy="658.8" r="5.3"/><circle cx="687.6" cy="847" r="5.3"/><circle cx="558" cy="816.3" r="5.3"/><circle cx="691.4" cy="837.9" r="5.3"/><circle cx="705.8" cy="638.3" r="5.3"/><circle cx="641.3" cy="746.1" r="5.3"/><circle cx="654.6" cy="682" r="5.3"/><circle cx="482.2" cy="853.9" r="5.3"/><circle cx="494.6" cy="789.8" r="5.3"/><circle cx="572" cy="865.5" r="5.3"/><circle cx="474" cy="822.1" r="5.3"/><circle cx="709.4" cy="636.4" r="5.3"/><circle cx="589.8" cy="842.2" r="5.3"/><circle cx="695" cy="843.8" r="5.3"/><circle cx="700.5" cy="693.8" r="5.3"/><circle cx="711.7" cy="791.2" r="5.3"/><circle cx="574.3" cy="863.1" r="5.3"/><circle cx="576.4" cy="865.8" r="5.3"/><circle cx="700.8" cy="710.9" r="5.3"/><circle cx="475.8" cy="790.5" r="5.3"/><circle cx="496.3" cy="831.2" r="5.3"/><circle cx="475.8" cy="784.5" r="5.3"/><circle cx="594.9" cy="854.7" r="5.3"/><circle cx="704.6" cy="840.3" r="5.3"/><circle cx="602.9" cy="866.3" r="5.3"/><circle cx="499.1" cy="783" r="5.3"/><circle cx="632.9" cy="865.4" r="5.3"/><circle cx="702.1" cy="642.3" r="5.3"/><circle cx="626.6" cy="779.1" r="5.3"/><circle cx="496.4" cy="829.7" r="5.3"/><circle cx="490.2" cy="826.3" r="5.3"/><circle cx="476.3" cy="791.2" r="5.3"/><circle cx="548.6" cy="807.6" r="5.3"/><circle cx="647.2" cy="721" r="5.3"/><circle cx="530.6" cy="790.8" r="5.3"/><circle cx="707.1" cy="763.5" r="5.3"/><circle cx="689.3" cy="814.4" r="5.3"/><circle cx="568.1" cy="818.4" r="5.3"/><circle cx="680.8" cy="649.6" r="5.3"/><circle cx="675.7" cy="861" r="5.3"/><circle cx="709.5" cy="716.6" r="5.3"/><circle cx="659.1" cy="685.9" r="5.3"/><circle cx="691" cy="786" r="5.3"/><circle cx="688.5" cy="806.3" r="5.3"/><circle cx="536.7" cy="799.5" r="5.3"/><circle cx="584" cy="839.8" r="5.3"/><circle cx="694" cy="640.8" r="5.3"/><circle cx="480" cy="780.3" r="5.3"/><circle cx="628.8" cy="780.3" r="5.3"/><circle cx="716" cy="812" r="5.3"/><circle cx="694.6" cy="786.2" r="5.3"/><circle cx="690.5" cy="826.9" r="5.3"/><circle cx="630.1" cy="778" r="5.3"/><circle cx="714.2" cy="638.9" r="5.3"/><circle cx="575.5" cy="824.8" r="5.3"/><circle cx="516.4" cy="786.5" r="5.3"/><circle cx="711.5" cy="805.7" r="5.3"/><circle cx="515.8" cy="798.7" r="5.3"/><circle cx="705" cy="726.7" r="5.3"/><circle cx="690.1" cy="652" r="5.3"/><circle cx="701.2" cy="823.6" r="5.3"/><circle cx="705.9" cy="809.2" r="5.3"/><circle cx="566.1" cy="815.5" r="5.3"/><circle cx="532" cy="862.4" r="5.3"/><circle cx="708.3" cy="866.8" r="5.3"/><circle cx="656.3" cy="695.6" r="5.3"/><circle cx="580" cy="838.8" r="5.3"/><circle cx="713.1" cy="693.2" r="5.3"/><circle cx="709.8" cy="834.1" r="5.3"/><circle cx="648.6" cy="867.7" r="5.3"/><circle cx="702" cy="866.7" r="5.3"/><circle cx="533.2" cy="797" r="5.3"/><circle cx="650.3" cy="708.8" r="5.3"/><circle cx="504.4" cy="862.8" r="5.3"/><circle cx="524.1" cy="861.2" r="5.3"/><circle cx="695.6" cy="725.7" r="5.3"/><circle cx="528.8" cy="801.7" r="5.3"/><circle cx="474.6" cy="771.1" r="5.3"/><circle cx="473.9" cy="835.4" r="5.3"/><circle cx="687.1" cy="825.2" r="5.3"/><circle cx="504.6" cy="792.6" r="5.3"/><circle cx="686.6" cy="654.3" r="5.3"/><circle cx="477.7" cy="850.8" r="5.3"/><circle cx="496" cy="795.9" r="5.3"/><circle cx="531.3" cy="799.6" r="5.3"/><circle cx="697.4" cy="704.7" r="5.3"/><circle cx="498.6" cy="837.6" r="5.3"/><circle cx="700.6" cy="765.8" r="5.3"/><circle cx="661.7" cy="674.5" r="5.3"/><circle cx="661.5" cy="672" r="5.3"/><circle cx="707" cy="629.4" r="5.3"/><circle cx="699" cy="666.3" r="5.3"/><circle cx="575.7" cy="827.4" r="5.3"/><circle cx="492.5" cy="845.9" r="5.3"/><circle cx="484.1" cy="768.5" r="5.3"/><circle cx="697.6" cy="725.5" r="5.3"/><circle cx="692.3" cy="819.7" r="5.3"/><circle cx="702.3" cy="727.3" r="5.3"/><circle cx="695.4" cy="824" r="5.3"/><circle cx="678" cy="863" r="5.3"/><circle cx="711" cy="708.8" r="5.3"/><circle cx="572.6" cy="815.6" r="5.3"/><circle cx="706.2" cy="863" r="5.3"/><circle cx="711.7" cy="749.2" r="5.3"/><circle cx="691.8" cy="640.3" r="5.3"/><circle cx="621.2" cy="802.6" r="5.3"/><circle cx="711.7" cy="822.7" r="5.3"/><circle cx="495.3" cy="783" r="5.3"/><circle cx="699.3" cy="795" r="5.3"/><circle cx="538.7" cy="795.3" r="5.3"/><circle cx="701.3" cy="798.3" r="5.3"/><circle cx="686.4" cy="651.7" r="5.3"/><circle cx="694.4" cy="819.1" r="5.3"/><circle cx="706.5" cy="862.3" r="5.3"/><circle cx="695.2" cy="739.8" r="5.3"/><circle cx="695.2" cy="724.9" r="5.3"/><circle cx="663.2" cy="664.7" r="5.3"/><circle cx="670" cy="673.2" r="5.3"/><circle cx="491.1" cy="804.2" r="5.3"/><circle cx="670.4" cy="861.4" r="5.3"/><circle cx="479.9" cy="855.2" r="5.3"/><circle cx="492.1" cy="801.6" r="5.3"/><circle cx="714.4" cy="792.3" r="5.3"/><circle cx="709.4" cy="790" r="5.3"/><circle cx="592.8" cy="844.1" r="5.3"/><circle cx="538.8" cy="804.6" r="5.3"/><circle cx="637.3" cy="764.1" r="5.3"/><circle cx="709.8" cy="746.4" r="5.3"/><circle cx="522.2" cy="791.1" r="5.3"/><circle cx="715.1" cy="713.3" r="5.3"/><circle cx="711.1" cy="798.9" r="5.3"/><circle cx="504.4" cy="863.9" r="5.3"/><circle cx="713.5" cy="669.6" r="5.3"/><circle cx="601.9" cy="867.6" r="5.3"/><circle cx="496.9" cy="790.3" r="5.3"/><circle cx="513.5" cy="794.8" r="5.3"/><circle cx="581.7" cy="862.9" r="5.3"/><circle cx="664.5" cy="672.5" r="5.3"/><circle cx="609" cy="821.9" r="5.3"/><circle cx="706.3" cy="852.6" r="5.3"/><circle cx="713.1" cy="702.5" r="5.3"/><circle cx="512.4" cy="762.3" r="5.3"/><circle cx="524.7" cy="759.8" r="5.3"/><circle cx="516" cy="772.8" r="5.3"/><circle cx="489.6" cy="765.8" r="5.3"/><circle cx="479" cy="764" r="5.3"/><circle cx="676" cy="612" r="5.3"/><circle cx="697" cy="605" r="5.3"/><circle cx="702" cy="603" r="5.3"/><circle cx="707" cy="604" r="5.3"/><circle cx="687" cy="634" r="5.3"/><circle cx="672" cy="640" r="5.3"/><circle cx="630" cy="748" r="5.3"/><circle cx="640" cy="700" r="5.3"/><circle cx="600" cy="815" r="5.3"/><circle cx="606" cy="810" r="5.3"/></g>
<g fill="#BC3C29" fill-opacity=".5"><circle cx="745.2" cy="650.8" r="5.3"/><circle cx="733.7" cy="650.1" r="5.3"/><circle cx="735.8" cy="612.7" r="5.3"/><circle cx="720" cy="698" r="5.3"/><circle cx="735.3" cy="652.8" r="5.3"/><circle cx="720.9" cy="672.8" r="5.3"/><circle cx="740.3" cy="616.6" r="5.3"/><circle cx="718.3" cy="644.3" r="5.3"/><circle cx="732.6" cy="678.6" r="5.3"/><circle cx="747.3" cy="664.6" r="5.3"/><circle cx="722.9" cy="654" r="5.3"/><circle cx="724.6" cy="685.9" r="5.3"/><circle cx="722.3" cy="682.8" r="5.3"/><circle cx="726.5" cy="643.5" r="5.3"/><circle cx="753.5" cy="650.1" r="5.3"/><circle cx="728.4" cy="643.9" r="5.3"/><circle cx="722.8" cy="689.9" r="5.3"/><circle cx="731.9" cy="642" r="5.3"/><circle cx="719.8" cy="625.3" r="5.3"/><circle cx="721.5" cy="694.4" r="5.3"/><circle cx="722.5" cy="678.4" r="5.3"/><circle cx="745" cy="685.3" r="5.3"/><circle cx="735.3" cy="675" r="5.3"/><circle cx="731.7" cy="642" r="5.3"/><circle cx="739.1" cy="665.1" r="5.3"/><circle cx="736.6" cy="667.6" r="5.3"/><circle cx="726.5" cy="605.8" r="5.3"/><circle cx="730.4" cy="670.7" r="5.3"/><circle cx="743" cy="662" r="5.3"/><circle cx="728.6" cy="641.3" r="5.3"/><circle cx="741.7" cy="638.6" r="5.3"/><circle cx="737.4" cy="627.6" r="5.3"/><circle cx="731.7" cy="660.6" r="5.3"/><circle cx="734.7" cy="634" r="5.3"/><circle cx="722.8" cy="672" r="5.3"/><circle cx="721.3" cy="620.8" r="5.3"/><circle cx="721.2" cy="634.2" r="5.3"/><circle cx="720.7" cy="700.2" r="5.3"/><circle cx="743.5" cy="621.4" r="5.3"/><circle cx="740" cy="702.4" r="5.3"/><circle cx="727" cy="698.6" r="5.3"/><circle cx="719" cy="692.7" r="5.3"/><circle cx="739.9" cy="692.5" r="5.3"/><circle cx="720.8" cy="679.5" r="5.3"/><circle cx="727.7" cy="665.6" r="5.3"/><circle cx="724.3" cy="646.2" r="5.3"/><circle cx="739.7" cy="652.1" r="5.3"/><circle cx="721.3" cy="664.6" r="5.3"/><circle cx="736.1" cy="624.5" r="5.3"/><circle cx="732.3" cy="636.9" r="5.3"/><circle cx="742.2" cy="694.4" r="5.3"/><circle cx="729.1" cy="648.3" r="5.3"/><circle cx="723.1" cy="614.4" r="5.3"/><circle cx="750.6" cy="637" r="5.3"/><circle cx="723.1" cy="612.2" r="5.3"/><circle cx="730.1" cy="676.8" r="5.3"/><circle cx="721.6" cy="677" r="5.3"/><circle cx="727.1" cy="623.9" r="5.3"/><circle cx="718.9" cy="621.1" r="5.3"/><circle cx="727.6" cy="660" r="5.3"/><circle cx="730.9" cy="674.9" r="5.3"/><circle cx="731.5" cy="650.2" r="5.3"/><circle cx="725.8" cy="669.7" r="5.3"/><circle cx="747.9" cy="673.1" r="5.3"/><circle cx="722.6" cy="661.5" r="5.3"/><circle cx="727.7" cy="676.8" r="5.3"/><circle cx="728.2" cy="676.2" r="5.3"/><circle cx="750.2" cy="649.5" r="5.3"/><circle cx="732.1" cy="678.7" r="5.3"/><circle cx="720.6" cy="653" r="5.3"/><circle cx="722.4" cy="670.3" r="5.3"/><circle cx="727.1" cy="640.4" r="5.3"/><circle cx="725.5" cy="621.3" r="5.3"/><circle cx="734.9" cy="694.8" r="5.3"/><circle cx="738.9" cy="670.5" r="5.3"/><circle cx="729" cy="652.1" r="5.3"/><circle cx="732.6" cy="612.3" r="5.3"/><circle cx="738" cy="660.3" r="5.3"/><circle cx="741.7" cy="637.5" r="5.3"/><circle cx="747" cy="597.9" r="5.3"/><circle cx="718.9" cy="599.3" r="5.3"/><circle cx="721.8" cy="693.9" r="5.3"/><circle cx="735.9" cy="613.2" r="5.3"/><circle cx="727.8" cy="686.1" r="5.3"/><circle cx="731.3" cy="650.7" r="5.3"/><circle cx="732.6" cy="617.3" r="5.3"/><circle cx="751.7" cy="672" r="5.3"/><circle cx="738.3" cy="628.7" r="5.3"/><circle cx="740" cy="620.1" r="5.3"/><circle cx="723.7" cy="651.5" r="5.3"/><circle cx="746.9" cy="606.3" r="5.3"/><circle cx="734.2" cy="609.3" r="5.3"/><circle cx="746.8" cy="626.6" r="5.3"/><circle cx="732.6" cy="596.1" r="5.3"/><circle cx="734.2" cy="626" r="5.3"/><circle cx="735" cy="633.9" r="5.3"/><circle cx="738.2" cy="595.6" r="5.3"/><circle cx="738.3" cy="592.7" r="5.3"/><circle cx="747.6" cy="586.3" r="5.3"/><circle cx="738.3" cy="605.8" r="5.3"/><circle cx="730.8" cy="597.2" r="5.3"/><circle cx="749.8" cy="632.2" r="5.3"/><circle cx="738.4" cy="633" r="5.3"/><circle cx="748.2" cy="632.2" r="5.3"/><circle cx="744.5" cy="616.2" r="5.3"/><circle cx="740.2" cy="624.4" r="5.3"/><circle cx="742" cy="638.5" r="5.3"/><circle cx="733.6" cy="634.4" r="5.3"/><circle cx="745.1" cy="609.3" r="5.3"/><circle cx="747" cy="600.7" r="5.3"/><circle cx="737.8" cy="616.7" r="5.3"/><circle cx="749.4" cy="598.3" r="5.3"/><circle cx="746.9" cy="621.2" r="5.3"/><circle cx="748.4" cy="601.5" r="5.3"/><circle cx="743.3" cy="633.9" r="5.3"/><circle cx="747.7" cy="623.4" r="5.3"/><circle cx="746.8" cy="619.9" r="5.3"/><circle cx="741.1" cy="595.6" r="5.3"/><circle cx="765.1" cy="841.4" r="5.3"/><circle cx="721.7" cy="696.7" r="5.3"/><circle cx="720.4" cy="824.7" r="5.3"/><circle cx="728.6" cy="719.1" r="5.3"/><circle cx="717.2" cy="744.4" r="5.3"/><circle cx="727.8" cy="845.6" r="5.3"/><circle cx="732.8" cy="734" r="5.3"/><circle cx="732.8" cy="810.9" r="5.3"/><circle cx="740.7" cy="731.2" r="5.3"/><circle cx="727.1" cy="843.2" r="5.3"/><circle cx="728.7" cy="694.6" r="5.3"/><circle cx="739.6" cy="840.3" r="5.3"/><circle cx="742.6" cy="809" r="5.3"/><circle cx="745.7" cy="699.6" r="5.3"/><circle cx="716.7" cy="722.1" r="5.3"/><circle cx="733.6" cy="832.5" r="5.3"/><circle cx="724.6" cy="701.5" r="5.3"/><circle cx="730.3" cy="793.9" r="5.3"/><circle cx="728.4" cy="697.7" r="5.3"/><circle cx="720.9" cy="717.6" r="5.3"/><circle cx="716.2" cy="847.8" r="5.3"/><circle cx="730.2" cy="734.7" r="5.3"/><circle cx="724.9" cy="793" r="5.3"/><circle cx="744" cy="786.8" r="5.3"/><circle cx="737.6" cy="837.6" r="5.3"/><circle cx="742" cy="775" r="5.3"/><circle cx="718.9" cy="731" r="5.3"/><circle cx="723" cy="845.5" r="5.3"/><circle cx="722" cy="774.1" r="5.3"/><circle cx="729.3" cy="695.5" r="5.3"/><circle cx="723.7" cy="739.2" r="5.3"/><circle cx="746.3" cy="694.8" r="5.3"/><circle cx="742.5" cy="812.2" r="5.3"/><circle cx="735.3" cy="723.7" r="5.3"/><circle cx="740.7" cy="695.1" r="5.3"/><circle cx="723.3" cy="847" r="5.3"/><circle cx="719.7" cy="832.5" r="5.3"/><circle cx="726.9" cy="785.5" r="5.3"/><circle cx="718.8" cy="724.2" r="5.3"/><circle cx="719.2" cy="816.8" r="5.3"/><circle cx="727.8" cy="701.1" r="5.3"/><circle cx="717" cy="783.2" r="5.3"/><circle cx="736.4" cy="762.3" r="5.3"/><circle cx="740" cy="815.2" r="5.3"/><circle cx="757.1" cy="720.7" r="5.3"/><circle cx="717" cy="555" r="5.3"/><circle cx="744" cy="556" r="5.3"/><circle cx="743" cy="567" r="5.3"/><circle cx="727" cy="575" r="5.3"/><circle cx="752" cy="570" r="5.3"/><circle cx="747" cy="575" r="5.3"/><circle cx="767" cy="591" r="5.3"/><circle cx="775" cy="639" r="5.3"/><circle cx="788" cy="697" r="5.3"/><circle cx="794.5" cy="315.3" r="5.3"/><circle cx="775" cy="820" r="5.3"/><circle cx="766" cy="832" r="5.3"/><circle cx="762" cy="780" r="5.3"/><circle cx="756" cy="771" r="5.3"/><circle cx="757" cy="752" r="5.3"/><circle cx="748" cy="751" r="5.3"/><circle cx="757" cy="708" r="5.3"/><circle cx="750" cy="712" r="5.3"/><circle cx="762" cy="670" r="5.3"/><circle cx="756" cy="676" r="5.3"/><circle cx="428" cy="819.9" r="5.3"/><circle cx="441.3" cy="800.5" r="5.3"/><circle cx="433.9" cy="812.2" r="5.3"/><circle cx="445.2" cy="808.7" r="5.3"/><circle cx="414.9" cy="821.4" r="5.3"/><circle cx="449.6" cy="800.4" r="5.3"/><circle cx="425.4" cy="817.4" r="5.3"/><circle cx="436" cy="798.8" r="5.3"/><circle cx="437.4" cy="818.8" r="5.3"/><circle cx="449.3" cy="809.3" r="5.3"/><circle cx="448.9" cy="809.9" r="5.3"/><circle cx="465" cy="793.6" r="5.3"/><circle cx="422.7" cy="834.3" r="5.3"/><circle cx="434.2" cy="829.1" r="5.3"/><circle cx="434.5" cy="822.8" r="5.3"/><circle cx="452" cy="830.3" r="5.3"/><circle cx="450.6" cy="780.3" r="5.3"/><circle cx="448.3" cy="844.9" r="5.3"/><circle cx="435.2" cy="803.8" r="5.3"/><circle cx="460.1" cy="817.5" r="5.3"/><circle cx="451" cy="850.8" r="5.3"/><circle cx="458.8" cy="820.1" r="5.3"/><circle cx="462" cy="827.1" r="5.3"/><circle cx="446.9" cy="807.5" r="5.3"/><circle cx="434.5" cy="820.8" r="5.3"/><circle cx="456.2" cy="819.6" r="5.3"/><circle cx="465.4" cy="799.4" r="5.3"/><circle cx="465.4" cy="799.3" r="5.3"/><circle cx="470.3" cy="783.1" r="5.3"/><circle cx="443.8" cy="779.5" r="5.3"/><circle cx="455.8" cy="788.7" r="5.3"/><circle cx="411.4" cy="831.9" r="5.3"/><circle cx="468.6" cy="778.5" r="5.3"/><circle cx="450.9" cy="792.1" r="5.3"/><circle cx="456.2" cy="808.6" r="5.3"/><circle cx="457.6" cy="815.4" r="5.3"/><circle cx="453.6" cy="781.4" r="5.3"/><circle cx="451" cy="800.8" r="5.3"/><circle cx="464.6" cy="797.1" r="5.3"/><circle cx="443.5" cy="821.7" r="5.3"/><circle cx="437.1" cy="813.4" r="5.3"/><circle cx="418" cy="803" r="5.3"/><circle cx="452.5" cy="821.7" r="5.3"/><circle cx="417.4" cy="805.5" r="5.3"/><circle cx="457.2" cy="832.5" r="5.3"/><circle cx="423.1" cy="806.7" r="5.3"/><circle cx="457.3" cy="817.2" r="5.3"/><circle cx="465.2" cy="789.9" r="5.3"/><circle cx="440.8" cy="845.9" r="5.3"/><circle cx="418.5" cy="815.1" r="5.3"/><circle cx="454.4" cy="855.7" r="5.3"/><circle cx="422.7" cy="808.1" r="5.3"/><circle cx="466.8" cy="816.1" r="5.3"/><circle cx="418.8" cy="813.6" r="5.3"/><circle cx="452.7" cy="809.4" r="5.3"/><circle cx="430" cy="816.6" r="5.3"/><circle cx="453.2" cy="797.4" r="5.3"/><circle cx="450.3" cy="820.2" r="5.3"/><circle cx="454.9" cy="794.7" r="5.3"/><circle cx="434.3" cy="801.8" r="5.3"/><circle cx="335" cy="815" r="5.3"/><circle cx="373" cy="771" r="5.3"/><circle cx="395" cy="772" r="5.3"/><circle cx="413" cy="774" r="5.3"/><circle cx="453" cy="770" r="5.3"/><circle cx="363" cy="800" r="5.3"/><circle cx="377" cy="798" r="5.3"/><circle cx="405" cy="822" r="5.3"/><circle cx="412" cy="840" r="5.3"/><circle cx="441" cy="851" r="5.3"/></g>
<path d="M471 251.6V906.3M715 251.6V906.3" stroke="#000" stroke-width="2.6" stroke-dasharray="20.2 8.7" fill="none"/>
<path d="M111.5 868.8H869.5" stroke="#000" stroke-width="2.6" stroke-dasharray="20.2 8.7" fill="none"/>
<path d="M111.5 251.6V906.3H869.5" stroke="#000" stroke-width="2.9" fill="none" stroke-linejoin="miter" stroke-linecap="square"/>
<path d="M100.5 877H111.5M100.5 707H111.5M100.5 537H111.5M100.5 367H111.5M349 906.3V917.3M593 906.3V917.3M837 906.3V917.3" stroke="#333" stroke-width="3.3" fill="none"/>
<text x="91" y="887.8" font-size="32" text-anchor="end" fill="#4D4D4D">0</text>
<text x="91" y="717.8" font-size="32" text-anchor="end" fill="#4D4D4D">25</text>
<text x="91" y="547.8" font-size="32" text-anchor="end" fill="#4D4D4D">50</text>
<text x="91" y="377.8" font-size="32" text-anchor="end" fill="#4D4D4D">75</text>
<text x="349" y="951" font-size="32" text-anchor="middle" fill="#4D4D4D">−2</text>
<text x="593" y="951" font-size="32" text-anchor="middle" fill="#4D4D4D">0</text>
<text x="837" y="951" font-size="32" text-anchor="middle" fill="#4D4D4D">2</text>
<text x="565.5" y="993" font-size="32.8" text-anchor="middle">Log2(fold change)</text>
<text x="37" y="579" font-size="32.5" text-anchor="middle" transform="rotate(-90 37 579)">−Log10(P.Value)</text>
<text x="868" y="1039.6" font-size="25.7" text-anchor="end">total = 19</text>
<text x="751.5" y="343.2" font-size="25.3">TRIP13</text>
<text x="745.6" y="724.7" font-size="25.3">CCNE1</text>
<text x="334.7" y="798.7" font-size="25.3">CCL19</text>
</g>
<g id="panelB">
<text x="970.8" y="59.8" font-size="49.6" font-weight="bold">B</text>
<filter id="hb" filterUnits="userSpaceOnUse" x="-400" y="-400" width="800" height="800"><feGaussianBlur stdDeviation="0.75"/></filter>
<g transform="translate(1403.3 501.8)" fill="none" stroke-width="1.12" filter="url(#hb)">
<g stroke="#BC3C29"><circle r="324.9" pathLength="109.0909" stroke-dasharray="0 46 1 400"/><circle r="334.9" pathLength="109.0909" stroke-dasharray="0 52 1 400"/><circle r="338.9" pathLength="109.0909" stroke-dasharray="0 2 1 4 1 2 1 5 1 3 2 14 1 11 1 400"/><circle r="343.9" pathLength="109.0909" stroke-dasharray="0 1 1 2 4 4 2 2 2 6 2 10 1 7 1 2 1 400"/><circle r="344.9" pathLength="109.0909" stroke-dasharray="0 36 1 400"/><circle r="346.9" pathLength="109.0909" stroke-dasharray="0 1 1 400"/><circle r="348.9" pathLength="109.0909" stroke-dasharray="0 36 1 400"/><circle r="352.9" pathLength="109.0909" stroke-dasharray="0 12 1 400"/><circle r="366.9" pathLength="109.0909" stroke-dasharray="0 36 1 400"/></g>
<g stroke="#C95741"><circle r="324.9" pathLength="109.0909" stroke-dasharray="0 49 1 400"/><circle r="326.9" pathLength="109.0909" stroke-dasharray="0 52 1 400"/><circle r="331.9" pathLength="109.0909" stroke-dasharray="0 9 1 3 1 2 1 9 1 9 1 400"/><circle r="338.9" pathLength="109.0909" stroke-dasharray="2 2 2 2 2 2 1 1 1 3 2 3 4 400"/><circle r="343.9" pathLength="109.0909" stroke-dasharray="1 1 2 4 3 3 2 3 3 1 1 2 1 8 1 2 1 11 1 400"/><circle r="346.9" pathLength="109.0909" stroke-dasharray="0 8 1 7 1 3 1 4 1 5 1 400"/><circle r="348.9" pathLength="109.0909" stroke-dasharray="0 1 1 1 2 2 2 2 2 1 1 1 1 5 2 1 1 9 1 400"/><circle r="352.9" pathLength="109.0909" stroke-dasharray="0 9 1 3 1 9 1 400"/><circle r="361.9" pathLength="109.0909" stroke-dasharray="0 36 1 400"/></g>
<g stroke="#D46F5A"><circle r="324.9" pathLength="109.0909" stroke-dasharray="0 11 1 5 1 11 1 5 1 400"/><circle r="328.9" pathLength="109.0909" stroke-dasharray="0 36 1 400"/><circle r="330.9" pathLength="109.0909" stroke-dasharray="0 2 1 7 2 24 1 400"/><circle r="331.9" pathLength="109.0909" stroke-dasharray="9 1 2 2 1 2 4 1 3 6 1 3 1 400"/><circle r="337.9" pathLength="109.0909" stroke-dasharray="0 2 1 14 1 8 1 2 1 5 2 400"/><circle r="338.9" pathLength="109.0909" stroke-dasharray="0 13 1 1 1 1 1 4 1 6 1 1 1 3 1 2 1 7 1 400"/><circle r="339.9" pathLength="109.0909" stroke-dasharray="0 2 3 4 2 1 1 1 1 1 2 3 1 14 1 1 1 400"/><circle r="341.9" pathLength="109.0909" stroke-dasharray="0 36 1 400"/><circle r="342.9" pathLength="109.0909" stroke-dasharray="0 36 1 400"/><circle r="343.9" pathLength="109.0909" stroke-dasharray="0 18 1 3 1 6 3 5 1 400"/><circle r="344.9" pathLength="109.0909" stroke-dasharray="0 25 1 17 1 400"/><circle r="346.9" pathLength="109.0909" stroke-dasharray="0 3 1 2 1 2 3 1 3 1 1 8 1 2 1 5 2 400"/><circle r="348.9" pathLength="109.0909" stroke-dasharray="1 1 1 2 2 2 2 2 1 1 1 1 5 2 1 1 1 4 3 4 1 400"/><circle r="351.9" pathLength="109.0909" stroke-dasharray="0 7 1 4 1 23 1 400"/><circle r="352.9" pathLength="109.0909" stroke-dasharray="0 1 1 1 1 4 1 1 1 4 2 3 2 4 2 400"/><circle r="354.9" pathLength="109.0909" stroke-dasharray="0 36 1 400"/><circle r="355.9" pathLength="109.0909" stroke-dasharray="0 36 1 400"/><circle r="359.9" pathLength="109.0909" stroke-dasharray="0 11 1 2 1 1 1 12 1 400"/><circle r="361.9" pathLength="109.0909" stroke-dasharray="0 10 1 1 1 9 1 1 1 400"/><circle r="362.9" pathLength="109.0909" stroke-dasharray="0 52 1 400"/><circle r="365.9" pathLength="109.0909" stroke-dasharray="0 36 1 400"/><circle r="366.9" pathLength="109.0909" stroke-dasharray="0 12 1 3 1 7 1 1 1 16 1 400"/><circle r="367.9" pathLength="109.0909" stroke-dasharray="0 46 1 400"/><circle r="368.9" pathLength="109.0909" stroke-dasharray="0 29 1 6 1 400"/><circle r="370.9" pathLength="109.0909" stroke-dasharray="0 11 1 400"/><circle r="371.9" pathLength="109.0909" stroke-dasharray="0 53 1 400"/></g>
<g stroke="#DF8774"><circle r="324.9" pathLength="109.0909" stroke-dasharray="0 1 4 1 2 1 2 2 3 4 1 1 3 1 1 3 1 2 1 2 3 400"/><circle r="326.9" pathLength="109.0909" stroke-dasharray="0 53 1 14 1 18 1 400"/><circle r="328.9" pathLength="109.0909" stroke-dasharray="0 12 1 400"/><circle r="329.9" pathLength="109.0909" stroke-dasharray="0 61 1 25 1 400"/><circle r="330.9" pathLength="109.0909" stroke-dasharray="0 3 1 1 1 1 1 5 2 1 2 4 2 3 1 1 1 3 1 14 1 400"/><circle r="331.9" pathLength="109.0909" stroke-dasharray="0 15 1 5 1 5 3 3 2 2 2 3 1 400"/><circle r="333.9" pathLength="109.0909" stroke-dasharray="0 6 1 7 1 21 1 400"/><circle r="334.9" pathLength="109.0909" stroke-dasharray="0 53 1 400"/><circle r="335.9" pathLength="109.0909" stroke-dasharray="0 2 1 4 1 19 1 9 1 400"/><circle r="337.9" pathLength="109.0909" stroke-dasharray="0 3 1 1 3 1 2 1 3 1 1 1 6 1 1 1 1 6 1 400"/><circle r="338.9" pathLength="109.0909" stroke-dasharray="0 32 1 1 1 6 1 1 1 400"/><circle r="339.9" pathLength="109.0909" stroke-dasharray="1 4 1 1 2 4 1 4 1 4 1 1 1 1 1 1 1 1 1 1 2 12 1 400"/><circle r="342.9" pathLength="109.0909" stroke-dasharray="0 1 1 6 1 1 1 1 1 11 1 1 1 1 2 1 1 2 1 6 1 400"/><circle r="343.9" pathLength="109.0909" stroke-dasharray="0 27 1 6 1 5 4 400"/><circle r="344.9" pathLength="109.0909" stroke-dasharray="5 2 1 1 2 1 3 1 1 1 1 1 4 2 1 4 1 400"/><circle r="345.9" pathLength="109.0909" stroke-dasharray="0 1 2 7 4 2 2 4 1 13 1 400"/><circle r="346.9" pathLength="109.0909" stroke-dasharray="0 4 1 2 1 10 2 1 4 2 2 4 2 5 1 2 1 1 1 400"/><circle r="347.9" pathLength="109.0909" stroke-dasharray="0 11 1 13 2 2 1 3 1 1 2 400"/><circle r="348.9" pathLength="109.0909" stroke-dasharray="0 29 2 3 1 2 1 2 1 3 1 400"/><circle r="349.9" pathLength="109.0909" stroke-dasharray="0 36 1 12 1 400"/><circle r="350.9" pathLength="109.0909" stroke-dasharray="0 16 1 19 1 400"/><circle r="351.9" pathLength="109.0909" stroke-dasharray="3 1 1 1 1 3 2 4 1 1 8 3 1 3 1 1 1 8 1 400"/><circle r="352.9" pathLength="109.0909" stroke-dasharray="1 1 1 1 1 1 2 6 1 3 2 2 1 1 2 3 1 1 6 1 3 1 1 3 1 400"/><circle r="353.9" pathLength="109.0909" stroke-dasharray="0 51 1 2 1 400"/><circle r="354.9" pathLength="109.0909" stroke-dasharray="0 12 2 1 1 13 1 7 2 8 2 400"/><circle r="356.9" pathLength="109.0909" stroke-dasharray="0 29 1 400"/><circle r="359.9" pathLength="109.0909" stroke-dasharray="1 1 2 3 2 3 1 2 1 2 2 2 1 1 3 4 1 2 3 7 1 400"/><circle r="360.9" pathLength="109.0909" stroke-dasharray="0 36 2 400"/><circle r="361.9" pathLength="109.0909" stroke-dasharray="0 1 3 2 1 4 1 1 2 1 1 1 1 1 2 3 2 2 1 5 1 3 1 400"/><circle r="362.9" pathLength="109.0909" stroke-dasharray="0 81 1 400"/><circle r="364.9" pathLength="109.0909" stroke-dasharray="0 5 2 7 1 1 1 3 1 2 2 1 1 3 1 400"/><circle r="365.9" pathLength="109.0909" stroke-dasharray="0 2 2 1 1 4 1 2 1 2 5 16 1 400"/><circle r="366.9" pathLength="109.0909" stroke-dasharray="1 2 6 1 2 1 3 3 4 2 1 2 2 1 1 6 1 7 1 3 1 400"/><circle r="367.9" pathLength="109.0909" stroke-dasharray="0 36 1 400"/><circle r="368.9" pathLength="109.0909" stroke-dasharray="0 35 1 400"/><circle r="370.9" pathLength="109.0909" stroke-dasharray="0 1 1 3 1 1 1 5 1 2 1 3 1 1 1 3 1 2 2 4 2 9 1 400"/></g>
<g stroke="#E89F8E"><circle r="323.9" pathLength="109.0909" stroke-dasharray="0 2 1 8 2 14 1 5 2 3 1 400"/><circle r="324.9" pathLength="109.0909" stroke-dasharray="0 5 1 10 1 2 1 1 1 3 1 5 1 2 1 5 5 400"/><circle r="325.9" pathLength="109.0909" stroke-dasharray="0 53 1 400"/><circle r="326.9" pathLength="109.0909" stroke-dasharray="0 51 1 7 1 9 1 8 1 5 1 5 1 1 1 3 1 400"/><circle r="327.9" pathLength="109.0909" stroke-dasharray="0 33 1 400"/><circle r="328.9" pathLength="109.0909" stroke-dasharray="0 27 1 15 1 400"/><circle r="329.9" pathLength="109.0909" stroke-dasharray="0 93 1 400"/><circle r="330.9" pathLength="109.0909" stroke-dasharray="0 1 1 4 1 1 2 8 3 4 2 4 1 3 1 8 1 400"/><circle r="331.9" pathLength="109.0909" stroke-dasharray="0 39 2 2 1 1 1 400"/><circle r="332.9" pathLength="109.0909" stroke-dasharray="0 32 2 1 2 400"/><circle r="333.9" pathLength="109.0909" stroke-dasharray="0 1 5 1 1 2 3 2 1 1 1 2 4 1 2 1 1 1 2 9 1 400"/><circle r="334.9" pathLength="109.0909" stroke-dasharray="0 63 1 17 1 400"/><circle r="335.9" pathLength="109.0909" stroke-dasharray="0 10 1 5 2 4 3 1 1 2 2 3 3 1 1 11 1 400"/><circle r="337.9" pathLength="109.0909" stroke-dasharray="1 3 1 10 1 8 1 5 4 3 1 4 1 1 1 400"/><circle r="338.9" pathLength="109.0909" stroke-dasharray="0 27 2 1 1 2 1 5 2 4 1 1 1 2 1 400"/><circle r="339.9" pathLength="109.0909" stroke-dasharray="0 20 1 1 1 1 1 10 1 1 1 5 1 5 1 400"/><circle r="340.9" pathLength="109.0909" stroke-dasharray="0 11 1 15 1 3 1 1 1 2 1 400"/><circle r="341.9" pathLength="109.0909" stroke-dasharray="0 2 2 6 1 10 1 7 1 2 1 400"/><circle r="342.9" pathLength="109.0909" stroke-dasharray="1 5 2 3 1 1 2 2 1 2 3 2 1 1 1 7 1 2 1 5 1 400"/><circle r="343.9" pathLength="109.0909" stroke-dasharray="0 28 1 10 1 5 1 2 2 400"/><circle r="344.9" pathLength="109.0909" stroke-dasharray="0 5 2 1 1 6 1 1 1 1 1 9 1 3 1 1 1 2 1 2 1 4 1 400"/><circle r="345.9" pathLength="109.0909" stroke-dasharray="1 2 1 2 3 6 1 4 1 2 1 1 2 2 1 1 1 3 1 5 1 400"/><circle r="346.9" pathLength="109.0909" stroke-dasharray="1 31 1 4 3 1 1 2 1 1 1 400"/><circle r="347.9" pathLength="109.0909" stroke-dasharray="0 1 3 1 1 1 1 1 2 2 4 6 1 3 1 6 1 400"/><circle r="348.9" pathLength="109.0909" stroke-dasharray="0 27 1 11 1 1 3 1 2 1 1 400"/><circle r="349.9" pathLength="109.0909" stroke-dasharray="0 1 1 5 1 2 1 1 1 9 1 17 1 1 1 400"/><circle r="350.9" pathLength="109.0909" stroke-dasharray="0 1 1 1 1 2 1 4 1 3 1 8 1 2 1 1 2 2 1 7 1 400"/><circle r="351.9" pathLength="109.0909" stroke-dasharray="0 5 1 2 2 3 3 1 1 8 2 4 1 5 1 3 2 6 1 400"/><circle r="352.9" pathLength="109.0909" stroke-dasharray="0 17 1 10 1 1 1 6 1 5 2 3 1 400"/><circle r="354.9" pathLength="109.0909" stroke-dasharray="3 1 6 1 1 2 1 1 12 6 2 5 1 1 1 400"/><circle r="356.9" pathLength="109.0909" stroke-dasharray="0 7 1 18 1 8 2 400"/><circle r="357.9" pathLength="109.0909" stroke-dasharray="0 2 1 3 1 5 1 400"/><circle r="358.9" pathLength="109.0909" stroke-dasharray="0 5 2 20 1 1 1 1 1 1 1 1 1 400"/><circle r="359.9" pathLength="109.0909" stroke-dasharray="0 1 1 3 1 3 1 7 1 2 2 1 1 6 1 1 2 4 1 2 2 400"/><circle r="360.9" pathLength="109.0909" stroke-dasharray="1 4 1 1 1 1 5 11 1 7 1 4 1 4 1 400"/><circle r="361.9" pathLength="109.0909" stroke-dasharray="1 3 2 1 1 1 1 5 1 3 1 3 1 6 1 6 2 1 3 1 1 400"/><circle r="362.9" pathLength="109.0909" stroke-dasharray="0 53 1 1 1 3 1 3 1 1 1 3 1 8 1 6 1 3 1 3 1 400"/><circle r="363.9" pathLength="109.0909" stroke-dasharray="0 51 1 11 1 400"/><circle r="364.9" pathLength="109.0909" stroke-dasharray="0 2 1 4 2 1 1 1 1 2 1 2 1 2 1 3 1 2 2 1 1 4 2 3 2 400"/><circle r="365.9" pathLength="109.0909" stroke-dasharray="2 2 1 1 4 1 2 1 2 5 1 1 1 1 2 6 3 5 3 400"/><circle r="366.9" pathLength="109.0909" stroke-dasharray="0 1 2 14 2 4 1 3 1 5 2 9 1 2 1 400"/><circle r="367.9" pathLength="109.0909" stroke-dasharray="0 2 1 3 1 5 2 2 1 10 1 6 2 7 1 400"/><circle r="368.9" pathLength="109.0909" stroke-dasharray="0 4 1 1 2 2 1 2 1 2 1 4 3 2 2 6 1 2 1 400"/><circle r="369.9" pathLength="109.0909" stroke-dasharray="0 29 1 6 1 400"/><circle r="370.9" pathLength="109.0909" stroke-dasharray="1 1 1 1 1 1 1 2 2 1 1 1 2 1 3 1 1 3 1 1 1 3 2 1 1 2 1 6 1 2 1 400"/><circle r="371.9" pathLength="109.0909" stroke-dasharray="0 54 1 10 1 4 1 3 1 19 1 400"/></g>
<g stroke="#F0B7A9"><circle r="323.9" pathLength="109.0909" stroke-dasharray="0 7 1 2 1 2 4 4 1 4 1 4 2 3 2 1 1 1 1 1 3 2 1 21 1 400"/><circle r="324.9" pathLength="109.0909" stroke-dasharray="1 7 1 9 1 9 1 3 1 38 1 400"/><circle r="325.9" pathLength="109.0909" stroke-dasharray="0 51 1 400"/><circle r="326.9" pathLength="109.0909" stroke-dasharray="0 55 1 5 3 1 1 1 1 2 2 1 1 1 1 9 2 6 1 3 1 400"/><circle r="327.9" pathLength="109.0909" stroke-dasharray="0 31 1 4 1 400"/><circle r="328.9" pathLength="109.0909" stroke-dasharray="0 1 1 2 2 1 1 2 1 7 1 1 1 3 1 5 1 9 3 1 2 400"/><circle r="329.9" pathLength="109.0909" stroke-dasharray="0 51 1 1 1 5 1 6 1 2 2 10 1 2 1 1 1 1 1 1 1 5 1 400"/><circle r="330.9" pathLength="109.0909" stroke-dasharray="1 3 1 10 1 5 1 6 1 1 1 1 1 1 1 2 2 7 2 400"/><circle r="331.9" pathLength="109.0909" stroke-dasharray="0 32 1 8 1 2 1 5 1 400"/><circle r="332.9" pathLength="109.0909" stroke-dasharray="0 3 1 1 1 4 1 2 5 8 2 1 1 14 2 2 1 400"/><circle r="333.9" pathLength="109.0909" stroke-dasharray="1 7 2 3 1 4 2 7 1 1 1 2 1 1 2 4 1 3 1 400"/><circle r="334.9" pathLength="109.0909" stroke-dasharray="0 65 1 4 1 25 1 400"/><circle r="335.9" pathLength="109.0909" stroke-dasharray="0 3 4 5 1 1 2 2 1 1 1 4 1 2 1 2 1 9 2 1 1 41 1 400"/><circle r="336.9" pathLength="109.0909" stroke-dasharray="0 33 1 2 1 1 1 9 1 49 1 400"/><circle r="337.9" pathLength="109.0909" stroke-dasharray="0 8 1 29 4 4 1 2 1 400"/><circle r="338.9" pathLength="109.0909" stroke-dasharray="0 49 1 16 1 400"/><circle r="339.9" pathLength="109.0909" stroke-dasharray="0 28 1 1 1 1 1 7 1 1 1 400"/><circle r="340.9" pathLength="109.0909" stroke-dasharray="0 2 1 4 1 2 1 1 1 4 1 5 4 3 1 3 2 1 1 10 1 400"/><circle r="341.9" pathLength="109.0909" stroke-dasharray="2 2 6 1 2 2 6 2 1 1 3 5 3 1 2 3 3 1 1 400"/><circle r="342.9" pathLength="109.0909" stroke-dasharray="0 3 3 3 1 9 1 10 1 2 1 3 1 2 1 2 1 400"/><circle r="343.9" pathLength="109.0909" stroke-dasharray="0 46 1 400"/><circle r="344.9" pathLength="109.0909" stroke-dasharray="0 24 1 2 1 2 1 1 1 4 1 1 2 1 1 4 1 400"/><circle r="345.9" pathLength="109.0909" stroke-dasharray="0 4 2 3 1 4 1 3 2 1 1 2 1 2 1 4 3 2 1 1 2 1 3 5 1 400"/><circle r="346.9" pathLength="109.0909" stroke-dasharray="0 48 1 400"/><circle r="347.9" pathLength="109.0909" stroke-dasharray="1 3 1 1 1 12 4 1 1 3 1 2 1 6 4 400"/><circle r="348.9" pathLength="109.0909" stroke-dasharray="0 28 1 18 1 1 1 400"/><circle r="349.9" pathLength="109.0909" stroke-dasharray="1 2 2 4 1 1 1 1 2 1 1 1 1 1 1 3 1 1 1 3 2 1 2 3 1 6 1 4 1 7 1 400"/><circle r="350.9" pathLength="109.0909" stroke-dasharray="1 1 1 1 2 1 4 2 2 3 2 6 1 11 1 400"/><circle r="351.9" pathLength="109.0909" stroke-dasharray="0 3 1 24 1 1 1 8 1 1 1 3 1 400"/><circle r="352.9" pathLength="109.0909" stroke-dasharray="0 41 1 3 1 1 1 2 1 400"/><circle r="353.9" pathLength="109.0909" stroke-dasharray="0 53 1 11 1 5 1 1 1 8 1 2 1 400"/><circle r="354.9" pathLength="109.0909" stroke-dasharray="0 3 1 6 1 17 1 2 1 1 1 5 1 5 1 400"/><circle r="355.9" pathLength="109.0909" stroke-dasharray="0 31 1 400"/><circle r="356.9" pathLength="109.0909" stroke-dasharray="0 2 2 1 2 3 5 1 1 7 2 1 2 4 1 3 2 1 3 400"/><circle r="357.9" pathLength="109.0909" stroke-dasharray="0 5 1 1 4 5 3 6 3 1 1 3 1 1 1 1 1 2 1 2 1 400"/><circle r="358.9" pathLength="109.0909" stroke-dasharray="3 6 3 1 2 1 1 3 2 1 4 5 1 5 1 5 1 400"/><circle r="359.9" pathLength="109.0909" stroke-dasharray="0 27 1 12 1 400"/><circle r="360.9" pathLength="109.0909" stroke-dasharray="0 1 1 1 1 2 1 1 1 5 3 1 1 1 2 1 2 1 7 2 1 12 1 400"/><circle r="361.9" pathLength="109.0909" stroke-dasharray="0 8 1 8 1 9 1 4 3 8 1 5 1 47 1 400"/><circle r="362.9" pathLength="109.0909" stroke-dasharray="0 51 1 2 1 15 2 7 1 3 1 8 1 2 1 2 1 400"/><circle r="363.9" pathLength="109.0909" stroke-dasharray="0 67 2 1 3 16 1 3 1 2 3 400"/><circle r="364.9" pathLength="109.0909" stroke-dasharray="2 1 2 4 1 1 1 5 1 4 1 9 1 1 2 2 1 5 3 400"/><circle r="365.9" pathLength="109.0909" stroke-dasharray="0 22 1 1 1 2 1 1 4 5 1 5 2 1 2 400"/><circle r="366.9" pathLength="109.0909" stroke-dasharray="0 32 1 4 1 1 1 1 2 400"/><circle r="367.9" pathLength="109.0909" stroke-dasharray="2 1 3 2 3 3 1 3 1 2 6 5 2 3 2 2 2 400"/><circle r="368.9" pathLength="109.0909" stroke-dasharray="4 1 1 2 2 1 2 2 1 1 1 1 2 4 1 4 2 6 1 2 1 1 1 400"/><circle r="369.9" pathLength="109.0909" stroke-dasharray="0 6 1 7 1 13 1 1 1 2 3 2 1 400"/><circle r="370.9" pathLength="109.0909" stroke-dasharray="0 3 1 19 1 4 1 4 1 4 3 1 1 2 1 25 1 400"/><circle r="371.9" pathLength="109.0909" stroke-dasharray="0 51 2 6 2 7 1 12 2 4 1 400"/><circle r="372.9" pathLength="109.0909" stroke-dasharray="0 40 1 400"/></g>
<g stroke="#F7CFC5"><circle r="323.9" pathLength="109.0909" stroke-dasharray="2 1 4 1 2 9 2 2 3 2 1 1 1 4 1 6 1 10 1 400"/><circle r="324.9" pathLength="109.0909" stroke-dasharray="0 39 1 5 1 34 1 400"/><circle r="325.9" pathLength="109.0909" stroke-dasharray="0 52 1 2 1 1 1 1 1 1 1 7 1 17 1 400"/><circle r="326.9" pathLength="109.0909" stroke-dasharray="0 56 1 1 1 1 1 5 1 7 1 1 2 2 1 8 1 1 1 3 1 2 2 400"/><circle r="327.9" pathLength="109.0909" stroke-dasharray="0 7 1 1 1 1 1 17 1 2 1 5 1 5 1 26 1 14 1 400"/><circle r="328.9" pathLength="109.0909" stroke-dasharray="0 2 2 2 1 1 2 1 1 1 3 1 1 3 2 2 1 5 2 1 2 1 1 21 1 400"/><circle r="329.9" pathLength="109.0909" stroke-dasharray="0 54 2 2 1 3 1 5 1 2 1 4 1 1 1 15 2 2 1 400"/><circle r="330.9" pathLength="109.0909" stroke-dasharray="0 39 4 2 1 4 1 19 1 18 1 400"/><circle r="331.9" pathLength="109.0909" stroke-dasharray="0 69 1 15 1 6 1 400"/><circle r="332.9" pathLength="109.0909" stroke-dasharray="0 1 2 1 1 2 3 1 2 7 2 1 2 3 1 1 1 3 1 2 2 2 3 45 1 400"/><circle r="333.9" pathLength="109.0909" stroke-dasharray="0 33 1 3 2 3 1 51 1 400"/><circle r="334.9" pathLength="109.0909" stroke-dasharray="0 51 1 4 3 2 1 2 1 4 1 1 3 5 1 9 2 4 1 400"/><circle r="335.9" pathLength="109.0909" stroke-dasharray="2 17 1 19 1 8 1 400"/><circle r="336.9" pathLength="109.0909" stroke-dasharray="0 30 3 20 1 6 1 14 1 17 1 400"/><circle r="337.9" pathLength="109.0909" stroke-dasharray="0 28 1 14 1 1 1 2 1 2 1 400"/><circle r="339.9" pathLength="109.0909" stroke-dasharray="0 39 1 5 1 5 1 15 1 3 1 11 1 2 1 3 1 400"/><circle r="340.9" pathLength="109.0909" stroke-dasharray="0 1 1 1 2 1 1 2 1 3 2 1 1 1 5 5 1 10 1 2 1 22 1 9 1 400"/><circle r="341.9" pathLength="109.0909" stroke-dasharray="0 13 2 7 1 1 1 3 1 2 1 7 2 4 1 1 1 400"/><circle r="342.9" pathLength="109.0909" stroke-dasharray="0 32 1 9 1 15 1 400"/><circle r="343.9" pathLength="109.0909" stroke-dasharray="0 70 1 400"/><circle r="344.9" pathLength="109.0909" stroke-dasharray="0 28 1 15 2 14 1 3 1 9 1 6 1 5 1 400"/><circle r="345.9" pathLength="109.0909" stroke-dasharray="0 28 1 1 1 14 1 1 3 3 1 7 1 1 1 400"/><circle r="346.9" pathLength="109.0909" stroke-dasharray="0 42 1 4 1 16 1 31 1 400"/><circle r="347.9" pathLength="109.0909" stroke-dasharray="0 8 1 23 1 4 1 4 1 1 2 400"/><circle r="348.9" pathLength="109.0909" stroke-dasharray="0 90 1 400"/><circle r="349.9" pathLength="109.0909" stroke-dasharray="0 5 1 2 1 6 1 1 1 5 1 1 1 3 1 5 1 1 1 3 1 2 1 3 1 8 1 400"/><circle r="350.9" pathLength="109.0909" stroke-dasharray="0 12 1 4 1 3 2 8 2 1 1 4 2 1 4 2 2 29 1 400"/><circle r="351.9" pathLength="109.0909" stroke-dasharray="0 31 1 5 1 11 1 31 1 400"/><circle r="352.9" pathLength="109.0909" stroke-dasharray="0 65 1 400"/><circle r="353.9" pathLength="109.0909" stroke-dasharray="0 55 3 1 2 5 4 2 1 1 1 4 2 6 1 3 1 2 1 400"/><circle r="354.9" pathLength="109.0909" stroke-dasharray="0 30 1 11 1 1 1 1 1 2 1 32 1 9 1 400"/><circle r="355.9" pathLength="109.0909" stroke-dasharray="0 4 1 5 3 2 2 5 1 1 1 2 1 1 2 4 1 41 1 9 1 3 1 2 1 400"/><circle r="356.9" pathLength="109.0909" stroke-dasharray="2 6 2 5 1 2 6 6 2 11 1 1 1 2 1 37 1 400"/><circle r="357.9" pathLength="109.0909" stroke-dasharray="2 1 2 6 1 1 1 1 1 3 4 1 1 6 1 9 1 2 2 26 1 4 1 400"/><circle r="358.9" pathLength="109.0909" stroke-dasharray="0 3 2 3 1 3 1 2 1 1 3 8 1 1 1 3 1 4 3 1 1 1 1 4 1 29 1 400"/><circle r="359.9" pathLength="109.0909" stroke-dasharray="0 37 1 5 1 1 1 2 1 36 1 5 1 400"/><circle r="360.9" pathLength="109.0909" stroke-dasharray="0 4 1 12 1 1 1 14 1 5 1 1 1 2 1 17 1 22 1 5 1 400"/><circle r="361.9" pathLength="109.0909" stroke-dasharray="0 31 1 13 1 47 1 400"/><circle r="362.9" pathLength="109.0909" stroke-dasharray="0 56 2 3 2 1 1 1 1 6 3 8 1 9 1 2 1 400"/><circle r="363.9" pathLength="109.0909" stroke-dasharray="0 53 3 1 2 2 2 6 1 4 2 2 2 1 1 3 3 3 1 2 2 400"/><circle r="364.9" pathLength="109.0909" stroke-dasharray="0 33 1 5 1 3 1 11 1 32 1 400"/><circle r="365.9" pathLength="109.0909" stroke-dasharray="0 28 1 10 2 5 1 2 2 18 1 4 1 11 1 400"/><circle r="366.9" pathLength="109.0909" stroke-dasharray="0 30 1 9 1 4 1 3 1 21 1 400"/><circle r="367.9" pathLength="109.0909" stroke-dasharray="0 11 1 3 1 1 1 1 2 8 3 12 2 13 1 400"/><circle r="368.9" pathLength="109.0909" stroke-dasharray="0 14 1 3 1 9 1 4 1 8 1 1 2 50 1 400"/><circle r="369.9" pathLength="109.0909" stroke-dasharray="0 2 2 1 1 3 5 3 1 6 4 4 1 7 1 1 1 5 1 400"/><circle r="370.9" pathLength="109.0909" stroke-dasharray="0 43 1 9 1 15 1 5 1 400"/><circle r="371.9" pathLength="109.0909" stroke-dasharray="0 57 2 2 1 1 1 5 1 1 2 3 2 6 3 1 1 1 1 1 1 3 2 400"/><circle r="372.9" pathLength="109.0909" stroke-dasharray="0 29 1 14 1 7 1 1 1 12 1 400"/></g>
<g stroke="#FCE7E2"><circle r="323.9" pathLength="109.0909" stroke-dasharray="0 18 1 3 1 17 1 6 1 35 1 400"/><circle r="324.9" pathLength="109.0909" stroke-dasharray="0 68 1 400"/><circle r="325.9" pathLength="109.0909" stroke-dasharray="0 27 1 1 1 1 1 4 2 2 1 27 1 1 2 5 2 5 1 8 1 400"/><circle r="326.9" pathLength="109.0909" stroke-dasharray="0 54 1 2 1 14 1 6 1 1 3 10 1 400"/><circle r="327.9" pathLength="109.0909" stroke-dasharray="4 1 2 1 1 1 1 1 2 4 1 1 9 5 2 1 1 2 3 5 1 1 1 33 1 400"/><circle r="328.9" pathLength="109.0909" stroke-dasharray="0 19 1 8 1 4 1 5 1 6 1 3 1 6 1 15 1 21 1 400"/><circle r="329.9" pathLength="109.0909" stroke-dasharray="0 52 1 4 1 2 1 2 1 1 1 1 1 4 1 1 2 1 1 4 2 13 1 400"/><circle r="330.9" pathLength="109.0909" stroke-dasharray="0 43 1 5 1 6 1 33 1 7 1 400"/><circle r="331.9" pathLength="109.0909" stroke-dasharray="0 46 1 1 2 400"/><circle r="332.9" pathLength="109.0909" stroke-dasharray="1 17 2 2 1 2 1 14 1 8 1 400"/><circle r="333.9" pathLength="109.0909" stroke-dasharray="0 45 1 3 2 48 1 400"/><circle r="334.9" pathLength="109.0909" stroke-dasharray="0 55 1 4 1 1 1 5 1 8 2 1 1 1 1 1 1 1 2 3 2 1 1 3 2 400"/><circle r="335.9" pathLength="109.0909" stroke-dasharray="0 40 1 4 1 3 1 6 1 37 1 400"/><circle r="336.9" pathLength="109.0909" stroke-dasharray="0 12 2 2 1 1 1 4 1 4 2 4 1 2 1 2 1 9 1 4 1 8 2 5 1 10 1 400"/><circle r="337.9" pathLength="109.0909" stroke-dasharray="0 52 1 400"/><circle r="339.9" pathLength="109.0909" stroke-dasharray="0 46 1 35 1 16 1 400"/><circle r="340.9" pathLength="109.0909" stroke-dasharray="1 31 1 5 1 2 1 2 2 3 1 7 1 5 1 23 1 400"/><circle r="341.9" pathLength="109.0909" stroke-dasharray="0 48 1 1 1 7 1 4 1 400"/><circle r="342.9" pathLength="109.0909" stroke-dasharray="0 39 1 5 1 1 3 1 1 400"/><circle r="343.9" pathLength="109.0909" stroke-dasharray="0 77 1 400"/><circle r="344.9" pathLength="109.0909" stroke-dasharray="0 34 1 13 1 12 1 22 1 400"/><circle r="345.9" pathLength="109.0909" stroke-dasharray="0 80 1 6 2 400"/><circle r="346.9" pathLength="109.0909" stroke-dasharray="0 49 1 5 1 22 1 6 1 11 1 400"/><circle r="347.9" pathLength="109.0909" stroke-dasharray="0 30 1 17 1 1 1 2 1 400"/><circle r="348.9" pathLength="109.0909" stroke-dasharray="0 50 3 40 1 400"/><circle r="349.9" pathLength="109.0909" stroke-dasharray="0 19 1 1 1 6 1 14 1 12 1 26 1 400"/><circle r="350.9" pathLength="109.0909" stroke-dasharray="0 28 1 8 1 8 1 5 1 15 1 15 1 400"/><circle r="351.9" pathLength="109.0909" stroke-dasharray="0 56 1 36 1 4 1 400"/><circle r="352.9" pathLength="109.0909" stroke-dasharray="0 49 1 18 1 6 1 4 1 400"/><circle r="353.9" pathLength="109.0909" stroke-dasharray="0 52 1 5 1 2 4 5 1 4 1 1 1 3 1 1 2 1 1 3 1 1 2 2 1 2 1 400"/><circle r="355.9" pathLength="109.0909" stroke-dasharray="2 1 1 1 4 4 1 3 5 1 1 2 1 1 1 5 1 3 1 1 4 7 1 3 1 13 1 27 1 400"/><circle r="356.9" pathLength="109.0909" stroke-dasharray="0 32 1 1 1 4 1 4 1 1 1 7 1 33 1 400"/><circle r="357.9" pathLength="109.0909" stroke-dasharray="0 28 1 1 1 3 1 4 1 6 2 35 1 400"/><circle r="358.9" pathLength="109.0909" stroke-dasharray="0 37 1 8 1 2 1 400"/><circle r="359.9" pathLength="109.0909" stroke-dasharray="0 46 2 2 1 400"/><circle r="360.9" pathLength="109.0909" stroke-dasharray="0 39 1 1 1 2 1 2 1 14 1 2 1 400"/><circle r="362.9" pathLength="109.0909" stroke-dasharray="0 58 1 9 1 3 1 4 1 4 1 3 2 2 2 4 1 2 1 400"/><circle r="363.9" pathLength="109.0909" stroke-dasharray="0 56 1 2 2 4 2 6 1 2 2 4 3 5 1 1 1 6 1 400"/><circle r="364.9" pathLength="109.0909" stroke-dasharray="0 48 3 15 1 16 1 400"/><circle r="365.9" pathLength="109.0909" stroke-dasharray="0 73 1 7 3 8 1 400"/><circle r="366.9" pathLength="109.0909" stroke-dasharray="0 48 1 12 2 34 1 400"/><circle r="367.9" pathLength="109.0909" stroke-dasharray="0 39 2 21 1 400"/><circle r="368.9" pathLength="109.0909" stroke-dasharray="0 32 1 6 1 8 1 24 1 12 1 7 1 400"/><circle r="369.9" pathLength="109.0909" stroke-dasharray="2 2 1 2 2 6 1 2 1 1 1 1 2 7 1 5 1 1 1 3 1 2 1 4 1 17 1 2 1 26 1 400"/><circle r="370.9" pathLength="109.0909" stroke-dasharray="0 92 1 400"/><circle r="371.9" pathLength="109.0909" stroke-dasharray="0 55 2 7 1 1 1 8 1 3 2 2 1 5 1 1 1 1 1 1 1 2 2 400"/><circle r="372.9" pathLength="109.0909" stroke-dasharray="0 1 4 2 1 2 1 1 2 3 1 2 2 1 1 2 3 2 3 8 1 8 1 22 1 24 1 400"/></g>
<g stroke="#E6ECF6"><circle r="323.9" pathLength="109.0909" stroke-dasharray="0 50 1 12 1 30 1 400"/><circle r="324.9" pathLength="109.0909" stroke-dasharray="0 50 1 400"/><circle r="325.9" pathLength="109.0909" stroke-dasharray="0 2 1 2 1 1 1 2 1 1 1 3 1 11 1 4 3 3 1 3 1 19 4 5 1 1 3 2 1 1 1 1 1 1 1 4 3 5 2 400"/><circle r="326.9" pathLength="109.0909" stroke-dasharray="0 14 1 24 1 1 1 7 1 38 1 400"/><circle r="327.9" pathLength="109.0909" stroke-dasharray="0 16 1 36 1 1 1 2 1 7 1 5 1 12 1 6 1 400"/><circle r="328.9" pathLength="109.0909" stroke-dasharray="1 15 1 6 1 2 1 2 1 8 1 9 2 16 2 2 1 16 1 400"/><circle r="329.9" pathLength="109.0909" stroke-dasharray="0 19 1 53 1 400"/><circle r="330.9" pathLength="109.0909" stroke-dasharray="0 24 1 28 1 400"/><circle r="331.9" pathLength="109.0909" stroke-dasharray="0 12 1 17 1 400"/><circle r="332.9" pathLength="109.0909" stroke-dasharray="0 31 1 19 1 1 1 33 1 9 1 400"/><circle r="333.9" pathLength="109.0909" stroke-dasharray="0 24 1 21 2 3 1 23 1 400"/><circle r="334.9" pathLength="109.0909" stroke-dasharray="0 11 1 6 1 7 1 2 2 3 1 9 1 5 1 400"/><circle r="335.9" pathLength="109.0909" stroke-dasharray="0 11 1 1 1 7 1 10 1 13 1 400"/><circle r="336.9" pathLength="109.0909" stroke-dasharray="0 19 1 6 1 12 1 3 1 2 2 3 1 6 1 11 1 2 1 7 1 2 1 2 1 3 1 2 1 2 1 400"/><circle r="337.9" pathLength="109.0909" stroke-dasharray="0 50 1 400"/><circle r="338.9" pathLength="109.0909" stroke-dasharray="0 3 1 2 1 37 1 400"/><circle r="339.9" pathLength="109.0909" stroke-dasharray="0 1 1 9 1 29 1 2 1 3 1 1 1 1 1 400"/><circle r="340.9" pathLength="109.0909" stroke-dasharray="0 15 1 30 1 11 1 22 1 13 1 400"/><circle r="342.9" pathLength="109.0909" stroke-dasharray="0 18 1 4 1 22 1 6 1 400"/><circle r="343.9" pathLength="109.0909" stroke-dasharray="0 32 1 400"/><circle r="344.9" pathLength="109.0909" stroke-dasharray="0 50 1 19 1 400"/><circle r="345.9" pathLength="109.0909" stroke-dasharray="0 46 1 400"/><circle r="346.9" pathLength="109.0909" stroke-dasharray="0 2 1 400"/><circle r="347.9" pathLength="109.0909" stroke-dasharray="0 18 1 28 1 400"/><circle r="349.9" pathLength="109.0909" stroke-dasharray="0 2 1 3 1 400"/><circle r="350.9" pathLength="109.0909" stroke-dasharray="0 25 1 21 1 7 2 21 1 400"/><circle r="352.9" pathLength="109.0909" stroke-dasharray="0 11 1 41 1 400"/><circle r="353.9" pathLength="109.0909" stroke-dasharray="0 30 1 3 4 3 1 1 1 53 1 400"/><circle r="354.9" pathLength="109.0909" stroke-dasharray="0 32 1 17 1 400"/><circle r="355.9" pathLength="109.0909" stroke-dasharray="0 33 1 12 1 10 1 3 1 1 3 5 1 1 1 2 1 16 1 1 1 400"/><circle r="356.9" pathLength="109.0909" stroke-dasharray="0 17 1 31 1 16 1 2 1 8 1 400"/><circle r="357.9" pathLength="109.0909" stroke-dasharray="0 32 1 3 1 38 1 400"/><circle r="358.9" pathLength="109.0909" stroke-dasharray="0 36 1 10 1 3 2 39 1 1 1 400"/><circle r="359.9" pathLength="109.0909" stroke-dasharray="0 4 1 1 1 3 1 2 1 39 1 400"/><circle r="360.9" pathLength="109.0909" stroke-dasharray="0 2 1 43 1 4 2 400"/><circle r="361.9" pathLength="109.0909" stroke-dasharray="0 48 1 1 1 400"/><circle r="362.9" pathLength="109.0909" stroke-dasharray="0 9 1 8 1 30 1 38 1 400"/><circle r="363.9" pathLength="109.0909" stroke-dasharray="0 28 1 7 1 4 1 10 1 27 1 400"/><circle r="364.9" pathLength="109.0909" stroke-dasharray="0 40 1 29 1 400"/><circle r="365.9" pathLength="109.0909" stroke-dasharray="0 51 1 11 1 400"/><circle r="366.9" pathLength="109.0909" stroke-dasharray="0 9 1 25 1 17 1 400"/><circle r="367.9" pathLength="109.0909" stroke-dasharray="0 7 1 20 1 18 2 1 1 12 1 8 1 400"/><circle r="368.9" pathLength="109.0909" stroke-dasharray="0 46 1 4 1 400"/><circle r="369.9" pathLength="109.0909" stroke-dasharray="0 16 1 2 1 27 1 2 1 2 2 1 1 5 1 12 1 5 1 7 1 400"/><circle r="370.9" pathLength="109.0909" stroke-dasharray="0 48 1 400"/><circle r="371.9" pathLength="109.0909" stroke-dasharray="0 11 1 2 1 7 1 5 1 7 1 7 1 2 1 400"/><circle r="372.9" pathLength="109.0909" stroke-dasharray="0 8 2 1 1 3 1 2 1 3 1 7 1 3 1 6 1 11 1 5 1 1 1 8 1 4 1 5 1 3 3 2 1 2 1 400"/></g>
<g stroke="#CDDAED"><circle r="323.9" pathLength="109.0909" stroke-dasharray="0 17 1 11 1 22 1 5 1 5 1 3 1 3 1 14 1 2 1 400"/><circle r="324.9" pathLength="109.0909" stroke-dasharray="0 12 1 14 1 20 1 5 1 15 1 3 1 400"/><circle r="325.9" pathLength="109.0909" stroke-dasharray="0 1 1 1 2 1 1 1 2 7 9 12 1 3 1 1 5 9 1 3 1 10 1 12 1 2 1 5 1 400"/><circle r="326.9" pathLength="109.0909" stroke-dasharray="0 27 1 19 1 400"/><circle r="327.9" pathLength="109.0909" stroke-dasharray="0 45 1 10 2 1 1 1 1 5 1 1 2 6 1 4 1 10 1 400"/><circle r="328.9" pathLength="109.0909" stroke-dasharray="0 60 1 8 1 4 1 7 1 7 1 1 2 5 1 400"/><circle r="329.9" pathLength="109.0909" stroke-dasharray="0 28 1 6 1 2 1 5 2 43 1 400"/><circle r="330.9" pathLength="109.0909" stroke-dasharray="0 12 1 38 1 2 1 3 1 12 1 2 1 400"/><circle r="331.9" pathLength="109.0909" stroke-dasharray="0 25 1 21 1 7 1 400"/><circle r="332.9" pathLength="109.0909" stroke-dasharray="0 6 1 40 1 8 1 2 1 1 1 2 1 5 1 6 1 4 1 1 1 1 1 6 2 1 1 1 1 400"/><circle r="333.9" pathLength="109.0909" stroke-dasharray="0 16 1 26 1 10 1 8 1 4 2 9 1 9 1 400"/><circle r="334.9" pathLength="109.0909" stroke-dasharray="0 24 1 2 2 2 1 1 1 1 1 2 1 1 3 3 1 400"/><circle r="335.9" pathLength="109.0909" stroke-dasharray="0 8 2 23 1 13 1 400"/><circle r="336.9" pathLength="109.0909" stroke-dasharray="1 34 1 13 1 6 2 3 2 4 2 5 1 1 1 1 2 3 1 1 2 1 2 5 2 400"/><circle r="337.9" pathLength="109.0909" stroke-dasharray="0 1 1 9 1 35 1 5 1 400"/><circle r="338.9" pathLength="109.0909" stroke-dasharray="0 11 1 25 1 4 1 8 1 400"/><circle r="339.9" pathLength="109.0909" stroke-dasharray="0 6 1 8 1 3 1 6 1 26 1 400"/><circle r="340.9" pathLength="109.0909" stroke-dasharray="0 5 1 2 1 20 1 10 1 2 1 3 1 3 1 4 1 13 1 1 1 6 1 4 1 3 1 1 4 2 1 400"/><circle r="341.9" pathLength="109.0909" stroke-dasharray="0 41 1 10 1 14 1 400"/><circle r="342.9" pathLength="109.0909" stroke-dasharray="0 2 1 12 2 33 1 18 1 17 1 8 1 400"/><circle r="343.9" pathLength="109.0909" stroke-dasharray="0 11 1 400"/><circle r="344.9" pathLength="109.0909" stroke-dasharray="0 11 1 41 1 36 1 400"/><circle r="345.9" pathLength="109.0909" stroke-dasharray="0 38 1 29 1 5 1 400"/><circle r="346.9" pathLength="109.0909" stroke-dasharray="0 30 1 400"/><circle r="347.9" pathLength="109.0909" stroke-dasharray="0 12 1 30 1 2 1 4 1 7 1 10 2 10 1 15 1 400"/><circle r="349.9" pathLength="109.0909" stroke-dasharray="0 27 1 4 1 13 2 11 3 4 1 2 1 9 1 14 1 400"/><circle r="350.9" pathLength="109.0909" stroke-dasharray="0 20 1 2 1 11 1 17 1 7 1 8 1 3 3 17 1 400"/><circle r="351.9" pathLength="109.0909" stroke-dasharray="0 34 1 12 1 7 1 3 1 400"/><circle r="352.9" pathLength="109.0909" stroke-dasharray="0 5 1 400"/><circle r="353.9" pathLength="109.0909" stroke-dasharray="0 5 1 11 1 20 1 9 2 400"/><circle r="354.9" pathLength="109.0909" stroke-dasharray="0 40 1 14 1 5 1 27 1 400"/><circle r="355.9" pathLength="109.0909" stroke-dasharray="0 14 1 10 1 6 1 4 1 7 1 1 2 3 2 4 3 5 1 5 1 1 1 4 2 5 1 3 1 1 1 5 2 400"/><circle r="356.9" pathLength="109.0909" stroke-dasharray="0 4 1 58 1 4 1 1 1 10 1 1 3 7 1 400"/><circle r="357.9" pathLength="109.0909" stroke-dasharray="0 23 1 30 1 8 1 17 2 1 1 4 1 3 2 2 3 400"/><circle r="358.9" pathLength="109.0909" stroke-dasharray="0 7 1 14 1 42 1 27 1 1 1 400"/><circle r="359.9" pathLength="109.0909" stroke-dasharray="0 28 1 10 1 9 1 25 2 16 1 400"/><circle r="360.9" pathLength="109.0909" stroke-dasharray="0 22 1 27 1 2 1 1 1 2 1 10 1 11 1 400"/><circle r="361.9" pathLength="109.0909" stroke-dasharray="0 28 1 18 1 4 1 34 1 400"/><circle r="362.9" pathLength="109.0909" stroke-dasharray="0 20 1 9 1 4 4 400"/><circle r="363.9" pathLength="109.0909" stroke-dasharray="0 27 1 5 1 1 1 1 2 1 1 1 3 3 1 400"/><circle r="364.9" pathLength="109.0909" stroke-dasharray="0 13 1 5 1 7 1 35 1 5 1 26 1 400"/><circle r="365.9" pathLength="109.0909" stroke-dasharray="0 53 1 400"/><circle r="366.9" pathLength="109.0909" stroke-dasharray="0 90 1 400"/><circle r="367.9" pathLength="109.0909" stroke-dasharray="0 51 1 5 1 23 1 8 1 2 1 400"/><circle r="368.9" pathLength="109.0909" stroke-dasharray="0 24 1 24 2 18 1 6 1 13 1 400"/><circle r="369.9" pathLength="109.0909" stroke-dasharray="0 49 1 2 1 2 1 5 1 3 1 2 1 1 1 5 1 1 2 4 5 4 1 1 1 1 1 400"/><circle r="370.9" pathLength="109.0909" stroke-dasharray="0 8 1 15 1 16 1 8 2 14 1 7 1 12 1 400"/><circle r="371.9" pathLength="109.0909" stroke-dasharray="0 4 1 2 1 21 1 1 2 400"/><circle r="372.9" pathLength="109.0909" stroke-dasharray="0 36 1 9 5 5 1 1 1 5 2 11 1 1 1 8 1 2 1 3 2 400"/></g>
<g stroke="#B4C7E3"><circle r="323.9" pathLength="109.0909" stroke-dasharray="0 51 1 13 1 1 1 1 1 1 1 2 2 1 1 2 3 1 1 1 1 1 1 4 1 1 1 2 1 400"/><circle r="324.9" pathLength="109.0909" stroke-dasharray="0 57 1 24 1 9 2 400"/><circle r="325.9" pathLength="109.0909" stroke-dasharray="1 13 2 10 1 3 1 19 1 45 1 400"/><circle r="326.9" pathLength="109.0909" stroke-dasharray="0 17 1 11 1 3 3 1 2 1 1 2 2 400"/><circle r="327.9" pathLength="109.0909" stroke-dasharray="0 47 1 4 1 10 2 8 1 2 1 1 4 7 3 3 3 1 1 400"/><circle r="328.9" pathLength="109.0909" stroke-dasharray="0 51 2 1 1 1 1 1 1 2 1 1 2 6 1 3 1 2 2 3 2 1 1 2 1 1 1 2 1 3 1 400"/><circle r="329.9" pathLength="109.0909" stroke-dasharray="0 21 1 5 1 1 5 3 1 2 3 3 1 400"/><circle r="330.9" pathLength="109.0909" stroke-dasharray="0 65 1 2 1 6 2 4 1 5 1 400"/><circle r="331.9" pathLength="109.0909" stroke-dasharray="0 53 1 400"/><circle r="332.9" pathLength="109.0909" stroke-dasharray="0 46 1 5 1 2 1 1 2 4 1 1 2 1 1 3 1 1 1 3 1 1 2 8 1 400"/><circle r="333.9" pathLength="109.0909" stroke-dasharray="0 52 1 2 1 9 1 15 1 2 2 7 1 2 1 1 1 400"/><circle r="334.9" pathLength="109.0909" stroke-dasharray="0 2 1 4 1 4 1 3 1 15 1 4 1 5 1 4 1 400"/><circle r="335.9" pathLength="109.0909" stroke-dasharray="0 57 1 3 1 7 1 12 3 2 1 4 2 3 1 400"/><circle r="336.9" pathLength="109.0909" stroke-dasharray="0 54 1 11 1 5 1 4 1 21 1 400"/><circle r="337.9" pathLength="109.0909" stroke-dasharray="0 65 1 2 2 25 1 400"/><circle r="338.9" pathLength="109.0909" stroke-dasharray="0 52 2 33 1 400"/><circle r="339.9" pathLength="109.0909" stroke-dasharray="0 61 1 22 2 9 1 400"/><circle r="340.9" pathLength="109.0909" stroke-dasharray="0 54 2 3 3 4 1 1 1 5 1 1 1 1 1 4 1 13 1 400"/><circle r="341.9" pathLength="109.0909" stroke-dasharray="0 30 1 23 1 1 2 6 1 6 1 1 1 7 2 5 1 2 1 2 1 2 2 400"/><circle r="342.9" pathLength="109.0909" stroke-dasharray="0 56 1 4 4 5 1 6 1 3 1 9 1 400"/><circle r="343.9" pathLength="109.0909" stroke-dasharray="0 33 1 58 1 400"/><circle r="344.9" pathLength="109.0909" stroke-dasharray="0 72 1 4 2 14 1 400"/><circle r="345.9" pathLength="109.0909" stroke-dasharray="0 51 1 4 2 11 2 7 1 14 1 2 1 400"/><circle r="346.9" pathLength="109.0909" stroke-dasharray="0 5 1 6 1 38 1 400"/><circle r="347.9" pathLength="109.0909" stroke-dasharray="0 17 1 36 1 1 1 1 1 2 1 1 1 1 1 1 3 8 1 7 2 1 1 1 1 4 2 400"/><circle r="348.9" pathLength="109.0909" stroke-dasharray="0 70 1 21 1 400"/><circle r="349.9" pathLength="109.0909" stroke-dasharray="0 52 1 1 2 9 1 12 1 1 1 1 1 4 1 5 1 1 1 3 1 400"/><circle r="350.9" pathLength="109.0909" stroke-dasharray="0 58 1 3 2 1 2 4 2 4 1 4 1 7 1 1 2 3 1 1 1 400"/><circle r="351.9" pathLength="109.0909" stroke-dasharray="0 40 1 12 1 4 1 11 2 400"/><circle r="352.9" pathLength="109.0909" stroke-dasharray="0 51 1 6 1 11 1 6 1 4 1 400"/><circle r="353.9" pathLength="109.0909" stroke-dasharray="0 19 1 7 3 1 3 8 1 1 1 1 1 400"/><circle r="354.9" pathLength="109.0909" stroke-dasharray="0 63 1 1 1 3 1 5 1 3 1 1 1 2 1 3 1 4 1 4 1 400"/><circle r="355.9" pathLength="109.0909" stroke-dasharray="0 50 1 3 1 1 1 11 1 6 1 7 1 400"/><circle r="356.9" pathLength="109.0909" stroke-dasharray="0 51 2 3 2 3 1 2 1 6 1 2 1 1 1 2 2 1 1 4 1 2 2 4 2 400"/><circle r="357.9" pathLength="109.0909" stroke-dasharray="0 14 1 37 1 8 1 2 1 4 2 3 1 3 1 6 3 2 2 400"/><circle r="358.9" pathLength="109.0909" stroke-dasharray="0 48 1 4 1 3 2 1 2 1 2 2 1 3 1 3 3 3 3 1 1 4 1 7 1 400"/><circle r="359.9" pathLength="109.0909" stroke-dasharray="0 55 1 4 1 9 2 7 1 1 1 1 1 6 1 7 1 400"/><circle r="360.9" pathLength="109.0909" stroke-dasharray="0 54 1 1 2 1 1 7 1 4 1 2 2 20 3 400"/><circle r="361.9" pathLength="109.0909" stroke-dasharray="0 62 1 3 1 2 1 5 1 6 1 400"/><circle r="362.9" pathLength="109.0909" stroke-dasharray="0 27 1 1 1 3 2 4 3 1 3 400"/><circle r="363.9" pathLength="109.0909" stroke-dasharray="0 29 2 8 1 5 1 3 1 400"/><circle r="364.9" pathLength="109.0909" stroke-dasharray="0 51 1 5 2 9 1 7 1 1 1 8 1 3 2 5 2 400"/><circle r="365.9" pathLength="109.0909" stroke-dasharray="0 65 2 24 1 1 1 400"/><circle r="366.9" pathLength="109.0909" stroke-dasharray="0 52 1 6 1 16 1 14 1 6 1 400"/><circle r="367.9" pathLength="109.0909" stroke-dasharray="0 58 1 9 2 1 1 1 2 3 2 6 2 1 1 2 1 1 1 2 1 400"/><circle r="368.9" pathLength="109.0909" stroke-dasharray="0 61 3 1 1 6 1 5 1 2 1 5 1 3 3 400"/><circle r="369.9" pathLength="109.0909" stroke-dasharray="0 58 3 3 1 1 1 4 1 10 1 7 2 2 1 3 1 400"/><circle r="370.9" pathLength="109.0909" stroke-dasharray="0 54 1 7 1 16 1 13 2 400"/><circle r="371.9" pathLength="109.0909" stroke-dasharray="0 27 1 5 3 2 1 1 1 1 1 2 1 2 1 400"/><circle r="372.9" pathLength="109.0909" stroke-dasharray="0 55 1 10 1 1 1 2 2 3 1 3 1 2 2 9 1 2 1 400"/></g>
<g stroke="#9BB6DA"><circle r="323.9" pathLength="109.0909" stroke-dasharray="0 49 1 4 4 2 3 3 1 11 2 9 1 1 2 3 1 400"/><circle r="324.9" pathLength="109.0909" stroke-dasharray="0 47 1 5 1 1 2 2 2 3 4 1 1 7 1 1 1 4 2 1 1 2 1 7 1 400"/><circle r="325.9" pathLength="109.0909" stroke-dasharray="0 49 1 400"/><circle r="326.9" pathLength="109.0909" stroke-dasharray="0 28 1 1 3 9 1 2 1 4 1 400"/><circle r="327.9" pathLength="109.0909" stroke-dasharray="0 49 1 4 1 7 1 5 1 6 1 7 1 3 2 400"/><circle r="328.9" pathLength="109.0909" stroke-dasharray="0 53 1 1 1 16 1 3 2 2 2 3 1 2 1 8 1 400"/><circle r="329.9" pathLength="109.0909" stroke-dasharray="0 1 1 1 1 1 1 1 1 1 1 2 1 3 1 7 1 1 1 7 1 4 1 3 1 3 1 400"/><circle r="330.9" pathLength="109.0909" stroke-dasharray="0 57 1 2 2 1 1 8 1 9 1 8 5 400"/><circle r="331.9" pathLength="109.0909" stroke-dasharray="0 51 2 1 1 2 2 4 1 6 1 7 1 3 1 3 1 1 1 5 1 2 1 400"/><circle r="332.9" pathLength="109.0909" stroke-dasharray="0 54 1 5 1 8 1 1 1 3 2 2 1 3 1 7 2 6 1 400"/><circle r="333.9" pathLength="109.0909" stroke-dasharray="0 56 1 1 2 1 2 1 1 2 1 3 1 1 2 1 3 1 1 1 1 3 3 2 1 3 1 1 1 400"/><circle r="334.9" pathLength="109.0909" stroke-dasharray="1 4 2 2 2 2 2 4 5 1 1 13 1 5 1 400"/><circle r="335.9" pathLength="109.0909" stroke-dasharray="0 51 4 3 2 2 1 1 4 2 1 3 1 2 4 4 1 4 1 7 2 400"/><circle r="336.9" pathLength="109.0909" stroke-dasharray="0 80 1 400"/><circle r="337.9" pathLength="109.0909" stroke-dasharray="0 55 1 2 2 3 1 2 1 3 1 1 1 7 2 5 1 11 1 400"/><circle r="338.9" pathLength="109.0909" stroke-dasharray="0 67 1 3 1 19 2 400"/><circle r="339.9" pathLength="109.0909" stroke-dasharray="0 55 1 4 1 2 1 6 1 4 2 2 1 8 1 400"/><circle r="340.9" pathLength="109.0909" stroke-dasharray="0 52 2 8 1 1 1 4 1 7 1 4 1 2 1 12 2 400"/><circle r="341.9" pathLength="109.0909" stroke-dasharray="0 55 1 4 3 3 1 1 3 1 1 1 1 1 1 2 2 3 1 2 1 2 1 1 2 5 1 400"/><circle r="342.9" pathLength="109.0909" stroke-dasharray="0 57 1 1 2 4 1 2 1 3 2 5 1 2 1 1 1 4 1 3 1 1 1 2 2 400"/><circle r="343.9" pathLength="109.0909" stroke-dasharray="0 51 1 1 1 27 1 400"/><circle r="344.9" pathLength="109.0909" stroke-dasharray="0 51 1 2 1 1 1 1 1 3 2 5 1 5 1 3 1 19 1 400"/><circle r="345.9" pathLength="109.0909" stroke-dasharray="0 59 1 4 4 3 2 3 1 5 1 8 2 1 1 3 1 400"/><circle r="346.9" pathLength="109.0909" stroke-dasharray="0 71 1 7 2 12 1 400"/><circle r="347.9" pathLength="109.0909" stroke-dasharray="0 57 1 2 1 3 1 7 1 2 1 3 1 1 1 2 2 4 1 1 1 2 1 400"/><circle r="348.9" pathLength="109.0909" stroke-dasharray="0 53 1 4 2 4 1 9 1 4 1 2 1 15 1 400"/><circle r="349.9" pathLength="109.0909" stroke-dasharray="0 62 1 1 1 3 1 1 1 5 2 6 2 2 1 1 3 3 1 1 1 400"/><circle r="350.9" pathLength="109.0909" stroke-dasharray="0 54 1 2 1 1 1 7 1 1 1 3 1 7 1 3 4 2 1 3 1 2 1 400"/><circle r="351.9" pathLength="109.0909" stroke-dasharray="0 57 1 2 1 2 2 2 3 5 1 8 1 5 1 4 1 400"/><circle r="352.9" pathLength="109.0909" stroke-dasharray="0 59 1 6 1 9 1 1 1 5 1 3 1 1 1 400"/><circle r="353.9" pathLength="109.0909" stroke-dasharray="1 1 1 1 1 1 2 1 1 3 1 2 1 3 2 2 1 1 1 12 2 4 1 400"/><circle r="354.9" pathLength="109.0909" stroke-dasharray="0 52 1 1 1 1 2 8 2 3 1 4 1 8 1 4 2 2 2 1 1 1 1 400"/><circle r="355.9" pathLength="109.0909" stroke-dasharray="0 62 1 4 1 10 1 10 1 6 1 400"/><circle r="356.9" pathLength="109.0909" stroke-dasharray="0 55 1 2 1 1 1 1 1 4 1 4 1 2 1 1 1 14 1 1 2 2 1 400"/><circle r="357.9" pathLength="109.0909" stroke-dasharray="0 55 4 1 1 1 1 3 2 3 1 1 1 2 1 2 1 8 1 6 2 400"/><circle r="358.9" pathLength="109.0909" stroke-dasharray="0 55 2 2 1 2 1 5 3 2 2 3 2 6 3 2 1 4 1 400"/><circle r="359.9" pathLength="109.0909" stroke-dasharray="0 58 2 1 1 3 1 1 3 8 1 5 1 2 1 4 1 3 1 400"/><circle r="360.9" pathLength="109.0909" stroke-dasharray="0 61 1 2 1 1 1 1 1 1 1 2 2 3 1 4 2 8 1 400"/><circle r="361.9" pathLength="109.0909" stroke-dasharray="0 51 1 1 1 2 2 1 1 3 1 3 1 2 2 2 1 1 1 11 1 3 1 400"/><circle r="362.9" pathLength="109.0909" stroke-dasharray="0 7 1 2 1 1 1 15 1 2 1 10 1 3 1 1 1 400"/><circle r="363.9" pathLength="109.0909" stroke-dasharray="2 1 1 1 1 1 1 3 4 16 2 1 1 400"/><circle r="364.9" pathLength="109.0909" stroke-dasharray="0 52 1 6 1 1 1 3 1 1 1 4 2 1 1 5 1 3 1 9 1 1 1 400"/><circle r="365.9" pathLength="109.0909" stroke-dasharray="0 52 1 2 1 1 1 1 1 8 1 1 2 4 2 7 1 1 3 4 1 1 2 1 1 400"/><circle r="366.9" pathLength="109.0909" stroke-dasharray="0 55 1 2 1 7 4 4 1 3 1 5 1 1 1 2 1 3 1 400"/><circle r="367.9" pathLength="109.0909" stroke-dasharray="0 52 1 2 2 4 1 4 2 2 1 4 1 4 1 3 2 5 1 3 2 1 1 400"/><circle r="368.9" pathLength="109.0909" stroke-dasharray="0 54 2 3 2 3 1 2 2 1 1 6 1 2 1 18 1 400"/><circle r="369.9" pathLength="109.0909" stroke-dasharray="0 57 1 9 1 5 2 2 1 5 1 400"/><circle r="370.9" pathLength="109.0909" stroke-dasharray="0 57 3 3 3 2 1 1 1 1 1 5 1 6 1 3 1 1 1 3 2 400"/><circle r="371.9" pathLength="109.0909" stroke-dasharray="0 1 1 14 1 13 1 6 1 3 1 1 1 6 1 400"/><circle r="372.9" pathLength="109.0909" stroke-dasharray="0 57 1 2 1 1 2 25 1 400"/></g>
<g stroke="#80A4D1"><circle r="323.9" pathLength="109.0909" stroke-dasharray="0 46 1 26 1 11 1 11 1 1 1 400"/><circle r="324.9" pathLength="109.0909" stroke-dasharray="0 51 2 5 1 2 1 1 1 8 2 1 1 2 1 2 1 12 1 1 2 1 1 400"/><circle r="326.9" pathLength="109.0909" stroke-dasharray="0 6 1 3 1 37 1 400"/><circle r="327.9" pathLength="109.0909" stroke-dasharray="0 74 1 400"/><circle r="328.9" pathLength="109.0909" stroke-dasharray="0 62 1 2 1 2 1 27 1 400"/><circle r="329.9" pathLength="109.0909" stroke-dasharray="1 1 1 1 1 1 1 1 1 1 2 1 3 1 1 2 1 2 1 25 2 400"/><circle r="330.9" pathLength="109.0909" stroke-dasharray="0 52 1 2 1 3 1 9 1 8 3 3 3 10 1 400"/><circle r="331.9" pathLength="109.0909" stroke-dasharray="0 59 1 1 2 1 1 7 2 1 2 3 1 3 1 4 2 4 1 2 1 400"/><circle r="332.9" pathLength="109.0909" stroke-dasharray="0 67 1 17 1 2 1 400"/><circle r="333.9" pathLength="109.0909" stroke-dasharray="0 66 1 3 1 1 1 10 1 6 1 400"/><circle r="334.9" pathLength="109.0909" stroke-dasharray="0 1 1 1 2 3 1 6 1 1 1 400"/><circle r="335.9" pathLength="109.0909" stroke-dasharray="0 55 1 4 1 7 1 2 3 2 1 11 2 1 1 3 2 400"/><circle r="337.9" pathLength="109.0909" stroke-dasharray="0 56 2 6 1 2 1 3 1 2 1 1 4 2 1 1 3 1 1 1 1 1 2 2 1 1 1 400"/><circle r="338.9" pathLength="109.0909" stroke-dasharray="0 59 1 1 1 3 1 8 1 2 1 3 1 11 1 5 1 400"/><circle r="339.9" pathLength="109.0909" stroke-dasharray="0 56 4 4 2 3 1 3 2 6 1 5 1 3 1 1 1 3 1 400"/><circle r="340.9" pathLength="109.0909" stroke-dasharray="0 67 1 3 1 8 1 5 1 2 1 4 1 400"/><circle r="341.9" pathLength="109.0909" stroke-dasharray="0 49 1 1 1 7 1 5 1 9 1 1 2 4 1 1 2 2 1 6 1 400"/><circle r="342.9" pathLength="109.0909" stroke-dasharray="0 54 2 11 1 3 1 3 1 2 1 6 2 5 1 4 1 400"/><circle r="343.9" pathLength="109.0909" stroke-dasharray="0 52 1 2 1 13 1 1 1 3 2 2 1 7 1 3 1 2 2 400"/><circle r="344.9" pathLength="109.0909" stroke-dasharray="0 52 1 2 1 3 1 6 3 2 1 1 1 6 1 4 2 1 2 1 2 1 1 1 1 400"/><circle r="345.9" pathLength="109.0909" stroke-dasharray="0 54 2 2 1 1 1 1 1 10 1 1 1 1 1 1 1 1 1 2 3 3 1 8 1 400"/><circle r="346.9" pathLength="109.0909" stroke-dasharray="0 53 2 2 2 1 2 1 1 1 2 2 2 1 1 1 3 5 1 1 1 2 4 1 1 2 1 400"/><circle r="347.9" pathLength="109.0909" stroke-dasharray="0 52 1 2 1 10 1 9 2 2 1 2 1 4 1 5 1 400"/><circle r="348.9" pathLength="109.0909" stroke-dasharray="0 54 3 8 1 3 1 7 1 6 3 10 1 400"/><circle r="349.9" pathLength="109.0909" stroke-dasharray="0 63 1 3 1 3 1 1 3 5 1 7 1 7 1 400"/><circle r="350.9" pathLength="109.0909" stroke-dasharray="0 51 1 8 1 3 1 15 1 8 1 400"/><circle r="351.9" pathLength="109.0909" stroke-dasharray="0 51 1 2 1 6 2 2 1 7 1 2 4 2 1 2 3 6 1 1 1 2 1 400"/><circle r="352.9" pathLength="109.0909" stroke-dasharray="0 57 1 3 1 2 1 4 1 1 1 2 1 4 1 7 1 4 2 1 3 1 1 400"/><circle r="353.9" pathLength="109.0909" stroke-dasharray="0 1 1 1 1 6 3 1 2 6 2 1 1 400"/><circle r="354.9" pathLength="109.0909" stroke-dasharray="0 58 3 1 1 5 1 1 1 1 1 1 1 2 1 5 1 2 2 400"/><circle r="355.9" pathLength="109.0909" stroke-dasharray="0 84 2 2 1 400"/><circle r="356.9" pathLength="109.0909" stroke-dasharray="0 59 1 5 1 23 1 9 1 400"/><circle r="357.9" pathLength="109.0909" stroke-dasharray="0 49 1 9 1 5 1 2 1 11 1 400"/><circle r="358.9" pathLength="109.0909" stroke-dasharray="0 54 1 11 1 5 1 11 1 4 1 7 1 1 1 400"/><circle r="359.9" pathLength="109.0909" stroke-dasharray="0 63 2 1 1 5 2 8 1 5 2 4 1 2 1 400"/><circle r="360.9" pathLength="109.0909" stroke-dasharray="0 60 1 10 1 5 1 1 2 1 1 2 1 1 2 1 2 2 2 400"/><circle r="361.9" pathLength="109.0909" stroke-dasharray="0 55 1 2 1 1 1 4 1 2 1 4 1 3 1 7 2 2 1 4 3 2 1 400"/><circle r="362.9" pathLength="109.0909" stroke-dasharray="0 2 5 1 1 4 1 1 2 2 1 4 2 6 1 400"/><circle r="363.9" pathLength="109.0909" stroke-dasharray="0 2 1 1 1 1 1 1 3 4 3 1 2 1 5 19 2 2 1 400"/><circle r="364.9" pathLength="109.0909" stroke-dasharray="0 54 1 7 1 1 1 6 1 5 1 2 1 3 1 8 2 400"/><circle r="365.9" pathLength="109.0909" stroke-dasharray="0 56 1 1 1 1 3 4 1 4 1 7 1 3 1 5 1 4 1 2 1 400"/><circle r="366.9" pathLength="109.0909" stroke-dasharray="0 54 1 5 1 2 1 1 1 6 1 6 1 1 1 3 1 2 1 400"/><circle r="367.9" pathLength="109.0909" stroke-dasharray="0 53 2 9 2 10 1 5 1 5 1 10 1 400"/><circle r="368.9" pathLength="109.0909" stroke-dasharray="0 52 2 3 2 7 1 4 1 2 2 3 1 3 3 2 1 6 1 1 2 400"/><circle r="369.9" pathLength="109.0909" stroke-dasharray="0 92 1 3 1 400"/><circle r="370.9" pathLength="109.0909" stroke-dasharray="0 56 1 4 1 15 1 2 4 2 1 1 1 8 2 400"/><circle r="371.9" pathLength="109.0909" stroke-dasharray="0 3 1 1 1 2 1 3 1 2 1 5 1 2 3 12 1 400"/><circle r="372.9" pathLength="109.0909" stroke-dasharray="0 73 1 400"/></g>
<g stroke="#6493C8"><circle r="323.9" pathLength="109.0909" stroke-dasharray="0 76 1 400"/><circle r="324.9" pathLength="109.0909" stroke-dasharray="0 83 1 7 1 400"/><circle r="326.9" pathLength="109.0909" stroke-dasharray="6 1 2 2 3 1 2 1 3 1 1 1 3 19 1 400"/><circle r="327.9" pathLength="109.0909" stroke-dasharray="0 94 1 400"/><circle r="329.9" pathLength="109.0909" stroke-dasharray="0 18 1 3 1 2 1 22 1 400"/><circle r="330.9" pathLength="109.0909" stroke-dasharray="0 62 1 1 1 1 2 5 1 3 1 5 1 4 1 7 1 2 1 400"/><circle r="331.9" pathLength="109.0909" stroke-dasharray="0 56 1 3 1 5 1 4 1 2 1 2 1 1 1 1 1 5 1 3 1 4 1 400"/><circle r="332.9" pathLength="109.0909" stroke-dasharray="0 62 1 10 1 400"/><circle r="333.9" pathLength="109.0909" stroke-dasharray="0 53 1 3 1 34 1 400"/><circle r="334.9" pathLength="109.0909" stroke-dasharray="0 47 1 400"/><circle r="335.9" pathLength="109.0909" stroke-dasharray="0 63 1 11 1 5 1 400"/><circle r="337.9" pathLength="109.0909" stroke-dasharray="0 54 1 18 1 15 1 7 1 400"/><circle r="338.9" pathLength="109.0909" stroke-dasharray="0 57 1 2 1 2 1 5 1 2 1 5 1 1 1 1 1 1 2 3 2 6 1 400"/><circle r="339.9" pathLength="109.0909" stroke-dasharray="0 62 1 3 1 10 2 1 1 11 1 1 1 3 1 400"/><circle r="340.9" pathLength="109.0909" stroke-dasharray="0 73 1 400"/><circle r="341.9" pathLength="109.0909" stroke-dasharray="0 53 1 41 1 400"/><circle r="342.9" pathLength="109.0909" stroke-dasharray="0 52 1 21 1 1 1 3 1 2 1 6 1 3 1 400"/><circle r="343.9" pathLength="109.0909" stroke-dasharray="0 54 1 4 1 2 2 2 1 5 1 9 1 7 1 2 1 2 1 400"/><circle r="344.9" pathLength="109.0909" stroke-dasharray="0 57 1 7 1 10 1 5 1 12 1 1 2 400"/><circle r="345.9" pathLength="109.0909" stroke-dasharray="0 89 1 400"/><circle r="346.9" pathLength="109.0909" stroke-dasharray="0 56 1 5 1 4 2 8 1 13 1 6 1 400"/><circle r="347.9" pathLength="109.0909" stroke-dasharray="0 62 1 11 1 18 1 5 1 400"/><circle r="348.9" pathLength="109.0909" stroke-dasharray="0 57 1 2 4 4 1 6 2 4 1 5 1 1 1 1 1 2 1 4 1 400"/><circle r="349.9" pathLength="109.0909" stroke-dasharray="0 51 1 20 1 400"/><circle r="350.9" pathLength="109.0909" stroke-dasharray="0 83 1 400"/><circle r="351.9" pathLength="109.0909" stroke-dasharray="0 52 1 19 1 7 1 2 1 4 2 2 1 4 1 400"/><circle r="352.9" pathLength="109.0909" stroke-dasharray="0 54 3 5 2 3 1 4 2 7 1 1 1 5 1 1 1 2 1 400"/><circle r="353.9" pathLength="109.0909" stroke-dasharray="0 8 1 9 1 400"/><circle r="354.9" pathLength="109.0909" stroke-dasharray="0 64 1 8 1 4 1 1 1 400"/><circle r="356.9" pathLength="109.0909" stroke-dasharray="0 73 1 400"/><circle r="359.9" pathLength="109.0909" stroke-dasharray="0 52 1 3 2 4 1 11 1 2 1 2 1 5 1 8 1 3 1 400"/><circle r="360.9" pathLength="109.0909" stroke-dasharray="0 96 1 400"/><circle r="361.9" pathLength="109.0909" stroke-dasharray="0 54 1 6 1 10 1 5 1 1 1 2 2 5 2 6 1 400"/><circle r="362.9" pathLength="109.0909" stroke-dasharray="0 1 1 9 1 2 1 2 1 3 3 2 1 20 1 400"/><circle r="363.9" pathLength="109.0909" stroke-dasharray="0 18 1 2 1 400"/><circle r="364.9" pathLength="109.0909" stroke-dasharray="0 60 1 13 1 4 1 2 1 3 1 2 1 400"/><circle r="365.9" pathLength="109.0909" stroke-dasharray="0 54 1 24 1 400"/><circle r="366.9" pathLength="109.0909" stroke-dasharray="0 51 1 5 1 6 1 8 1 1 1 11 1 4 1 2 2 2 1 400"/><circle r="367.9" pathLength="109.0909" stroke-dasharray="0 77 1 400"/><circle r="368.9" pathLength="109.0909" stroke-dasharray="0 56 1 25 1 6 1 400"/><circle r="370.9" pathLength="109.0909" stroke-dasharray="0 52 1 2 1 4 1 6 1 5 1 2 1 7 1 5 1 8 1 400"/><circle r="371.9" pathLength="109.0909" stroke-dasharray="1 1 1 3 1 2 2 2 1 3 2 1 1 2 1 22 1 2 1 400"/></g>
<g stroke="#4282BE"><circle r="324.9" pathLength="109.0909" stroke-dasharray="0 76 1 12 1 400"/><circle r="326.9" pathLength="109.0909" stroke-dasharray="0 9 1 11 1 1 1 400"/><circle r="331.9" pathLength="109.0909" stroke-dasharray="0 67 2 24 1 5 1 400"/><circle r="333.9" pathLength="109.0909" stroke-dasharray="0 60 1 400"/><circle r="337.9" pathLength="109.0909" stroke-dasharray="0 60 1 1 1 12 1 7 1 7 1 2 1 400"/><circle r="338.9" pathLength="109.0909" stroke-dasharray="0 55 2 1 1 3 1 5 1 1 1 4 1 3 1 3 1 2 1 11 1 400"/><circle r="339.9" pathLength="109.0909" stroke-dasharray="0 54 1 13 1 3 1 400"/><circle r="342.9" pathLength="109.0909" stroke-dasharray="0 66 1 21 1 400"/><circle r="343.9" pathLength="109.0909" stroke-dasharray="0 56 2 6 2 7 2 3 1 4 4 2 1 9 1 400"/><circle r="344.9" pathLength="109.0909" stroke-dasharray="0 83 1 400"/><circle r="345.9" pathLength="109.0909" stroke-dasharray="0 83 1 13 1 400"/><circle r="346.9" pathLength="109.0909" stroke-dasharray="0 52 1 6 1 13 1 7 1 1 1 2 1 7 1 4 1 400"/><circle r="347.9" pathLength="109.0909" stroke-dasharray="0 73 1 400"/><circle r="348.9" pathLength="109.0909" stroke-dasharray="0 66 2 3 3 4 1 4 1 12 1 400"/><circle r="349.9" pathLength="109.0909" stroke-dasharray="0 86 1 400"/><circle r="350.9" pathLength="109.0909" stroke-dasharray="0 96 1 400"/><circle r="351.9" pathLength="109.0909" stroke-dasharray="0 66 1 7 1 16 1 400"/><circle r="352.9" pathLength="109.0909" stroke-dasharray="0 52 1 7 1 24 2 400"/><circle r="353.9" pathLength="109.0909" stroke-dasharray="0 47 1 400"/><circle r="354.9" pathLength="109.0909" stroke-dasharray="0 96 1 400"/><circle r="360.9" pathLength="109.0909" stroke-dasharray="0 89 1 400"/><circle r="361.9" pathLength="109.0909" stroke-dasharray="0 64 1 14 1 1 1 400"/><circle r="362.9" pathLength="109.0909" stroke-dasharray="1 400"/><circle r="364.9" pathLength="109.0909" stroke-dasharray="0 56 1 33 1 400"/><circle r="365.9" pathLength="109.0909" stroke-dasharray="0 64 1 10 1 2 1 400"/><circle r="366.9" pathLength="109.0909" stroke-dasharray="0 56 1 13 1 6 1 2 1 1 1 11 1 400"/><circle r="367.9" pathLength="109.0909" stroke-dasharray="0 60 1 22 1 400"/><circle r="369.9" pathLength="109.0909" stroke-dasharray="0 80 1 400"/><circle r="371.9" pathLength="109.0909" stroke-dasharray="0 19 1 400"/></g>
<g stroke="#0072B5"><circle r="324.9" pathLength="109.0909" stroke-dasharray="0 62 1 23 1 1 1 6 1 400"/><circle r="331.9" pathLength="109.0909" stroke-dasharray="0 65 1 17 1 400"/><circle r="337.9" pathLength="109.0909" stroke-dasharray="0 61 1 400"/><circle r="338.9" pathLength="109.0909" stroke-dasharray="0 54 1 9 1 8 1 2 1 11 1 5 3 400"/><circle r="339.9" pathLength="109.0909" stroke-dasharray="0 89 1 6 1 400"/><circle r="343.9" pathLength="109.0909" stroke-dasharray="0 58 1 1 2 5 2 11 1 7 1 8 2 400"/><circle r="345.9" pathLength="109.0909" stroke-dasharray="0 95 1 400"/><circle r="348.9" pathLength="109.0909" stroke-dasharray="0 80 1 7 1 6 1 400"/><circle r="352.9" pathLength="109.0909" stroke-dasharray="0 98 1 400"/><circle r="354.9" pathLength="109.0909" stroke-dasharray="0 51 1 400"/><circle r="359.9" pathLength="109.0909" stroke-dasharray="0 54 1 400"/><circle r="362.9" pathLength="109.0909" stroke-dasharray="0 50 1 400"/><circle r="366.9" pathLength="109.0909" stroke-dasharray="0 83 1 400"/></g>
</g>
<g transform="translate(1403.3 501.8)" fill="none" stroke-width="1.11" filter="url(#hb)">
<g stroke="#BC3C29"><circle r="265.5" pathLength="109.0909" stroke-dasharray="0 56 1 18 1 2 1 7 1 1 2 6 1 400"/><circle r="268.5" pathLength="109.0909" stroke-dasharray="0 54 1 3 1 2 1 4 1 1 1 3 1 1 1 2 1 5 1 1 1 3 1 7 1 400"/><circle r="270.4" pathLength="109.0909" stroke-dasharray="0 55 2 1 1 3 1 2 4 3 2 2 2 1 4 3 1 1 1 2 1 2 1 1 2 1 1 400"/><circle r="276.4" pathLength="109.0909" stroke-dasharray="0 76 1 400"/><circle r="283.3" pathLength="109.0909" stroke-dasharray="0 53 1 2 1 9 1 11 1 9 1 400"/><circle r="291.2" pathLength="109.0909" stroke-dasharray="0 61 2 26 1 400"/><circle r="297.1" pathLength="109.0909" stroke-dasharray="0 54 1 2 1 1 1 2 1 10 1 3 1 2 1 2 2 9 1 4 1 400"/><circle r="305" pathLength="109.0909" stroke-dasharray="0 83 1 400"/><circle r="307" pathLength="109.0909" stroke-dasharray="0 80 1 400"/><circle r="312.9" pathLength="109.0909" stroke-dasharray="0 57 1 21 1 8 2 400"/><circle r="313.9" pathLength="109.0909" stroke-dasharray="0 72 1 5 1 7 1 1 1 400"/></g>
<g stroke="#C95741"><circle r="265.5" pathLength="109.0909" stroke-dasharray="0 52 1 1 1 5 1 1 1 2 1 6 1 4 1 4 2 1 1 5 2 5 2 400"/><circle r="268.5" pathLength="109.0909" stroke-dasharray="0 57 1 4 1 1 2 1 1 1 3 1 1 1 1 3 4 8 1 1 1 1 2 2 1 400"/><circle r="270.4" pathLength="109.0909" stroke-dasharray="0 52 1 4 1 2 2 1 2 5 1 3 2 2 1 4 3 3 1 3 1 4 1 400"/><circle r="273.4" pathLength="109.0909" stroke-dasharray="0 57 1 2 1 19 1 2 1 4 1 400"/><circle r="275.4" pathLength="109.0909" stroke-dasharray="0 89 1 400"/><circle r="276.4" pathLength="109.0909" stroke-dasharray="0 57 1 6 1 1 1 5 1 11 1 9 1 2 1 400"/><circle r="279.3" pathLength="109.0909" stroke-dasharray="0 19 1 18 1 400"/><circle r="280.3" pathLength="109.0909" stroke-dasharray="0 89 1 400"/><circle r="281.3" pathLength="109.0909" stroke-dasharray="0 73 1 400"/><circle r="282.3" pathLength="109.0909" stroke-dasharray="0 88 2 400"/><circle r="283.3" pathLength="109.0909" stroke-dasharray="0 57 1 1 2 1 1 5 1 1 2 1 5 11 2 2 1 5 1 400"/><circle r="284.3" pathLength="109.0909" stroke-dasharray="0 83 1 400"/><circle r="287.2" pathLength="109.0909" stroke-dasharray="0 56 1 16 1 3 1 18 1 400"/><circle r="288.2" pathLength="109.0909" stroke-dasharray="0 48 1 400"/><circle r="290.2" pathLength="109.0909" stroke-dasharray="0 56 2 4 1 1 2 5 1 3 1 13 1 7 1 400"/><circle r="291.2" pathLength="109.0909" stroke-dasharray="0 56 2 2 1 5 1 4 1 2 1 5 2 1 1 4 1 2 1 1 1 2 1 400"/><circle r="294.1" pathLength="109.0909" stroke-dasharray="0 18 1 27 2 400"/><circle r="295.1" pathLength="109.0909" stroke-dasharray="0 62 1 400"/><circle r="296.1" pathLength="109.0909" stroke-dasharray="0 86 1 2 1 400"/><circle r="297.1" pathLength="109.0909" stroke-dasharray="0 58 1 1 2 2 1 3 1 3 1 1 2 3 1 5 1 1 3 2 2 2 1 400"/><circle r="300.1" pathLength="109.0909" stroke-dasharray="0 56 1 400"/><circle r="303" pathLength="109.0909" stroke-dasharray="0 56 1 16 1 10 1 3 1 400"/><circle r="306" pathLength="109.0909" stroke-dasharray="0 72 1 7 1 2 1 1 2 2 3 400"/><circle r="307" pathLength="109.0909" stroke-dasharray="0 54 1 3 1 16 1 1 1 5 1 1 2 1 1 7 1 400"/><circle r="308" pathLength="109.0909" stroke-dasharray="0 74 1 400"/><circle r="309" pathLength="109.0909" stroke-dasharray="0 62 1 26 1 400"/><circle r="310" pathLength="109.0909" stroke-dasharray="0 47 1 400"/><circle r="310.9" pathLength="109.0909" stroke-dasharray="0 57 1 25 1 400"/><circle r="311.9" pathLength="109.0909" stroke-dasharray="0 76 1 20 1 400"/><circle r="312.9" pathLength="109.0909" stroke-dasharray="0 54 1 1 1 5 1 3 1 16 1 1 1 10 2 400"/><circle r="313.9" pathLength="109.0909" stroke-dasharray="0 54 1 4 1 1 2 10 3 1 1 3 1 1 1 5 1 1 1 5 2 400"/></g>
<g stroke="#D46F5A"><circle r="265.5" pathLength="109.0909" stroke-dasharray="0 57 3 1 1 1 2 2 2 4 1 6 2 8 1 2 2 400"/><circle r="268.5" pathLength="109.0909" stroke-dasharray="0 51 1 3 1 3 2 2 1 14 1 5 1 2 1 2 1 7 1 400"/><circle r="269.4" pathLength="109.0909" stroke-dasharray="0 91 1 400"/><circle r="270.4" pathLength="109.0909" stroke-dasharray="0 59 1 30 1 4 1 400"/><circle r="271.4" pathLength="109.0909" stroke-dasharray="0 49 1 400"/><circle r="272.4" pathLength="109.0909" stroke-dasharray="0 38 1 6 1 3 1 400"/><circle r="273.4" pathLength="109.0909" stroke-dasharray="0 62 1 6 1 2 1 6 1 1 1 7 1 1 1 3 1 400"/><circle r="274.4" pathLength="109.0909" stroke-dasharray="0 54 1 25 1 400"/><circle r="275.4" pathLength="109.0909" stroke-dasharray="0 56 1 15 1 1 1 8 1 2 1 9 1 400"/><circle r="276.4" pathLength="109.0909" stroke-dasharray="0 54 2 3 1 1 2 2 1 1 1 3 1 1 1 1 1 2 3 1 2 1 2 1 2 2 1 2 1 400"/><circle r="277.4" pathLength="109.0909" stroke-dasharray="0 53 1 11 1 2 1 4 1 4 3 7 2 1 1 7 1 400"/><circle r="279.3" pathLength="109.0909" stroke-dasharray="0 24 1 400"/><circle r="280.3" pathLength="109.0909" stroke-dasharray="0 58 1 7 2 5 4 6 1 2 1 1 1 10 1 400"/><circle r="281.3" pathLength="109.0909" stroke-dasharray="0 60 1 4 1 6 1 6 1 8 2 4 1 1 1 400"/><circle r="282.3" pathLength="109.0909" stroke-dasharray="0 62 1 12 1 16 1 400"/><circle r="283.3" pathLength="109.0909" stroke-dasharray="0 52 1 1 1 8 3 3 1 2 1 7 1 2 2 6 2 1 1 3 1 400"/><circle r="284.3" pathLength="109.0909" stroke-dasharray="0 58 2 2 1 26 1 8 1 400"/><circle r="285.3" pathLength="109.0909" stroke-dasharray="0 56 1 21 1 20 1 400"/><circle r="286.2" pathLength="109.0909" stroke-dasharray="0 72 1 7 1 7 1 2 1 6 1 400"/><circle r="287.2" pathLength="109.0909" stroke-dasharray="0 54 1 2 2 5 2 5 2 2 1 4 1 2 1 4 4 5 1 400"/><circle r="288.2" pathLength="109.0909" stroke-dasharray="0 46 1 400"/><circle r="289.2" pathLength="109.0909" stroke-dasharray="0 83 2 11 1 400"/><circle r="290.2" pathLength="109.0909" stroke-dasharray="0 52 1 2 1 2 3 7 2 8 1 2 1 1 1 2 1 1 1 1 1 3 3 400"/><circle r="291.2" pathLength="109.0909" stroke-dasharray="0 58 1 4 3 2 1 3 2 1 4 5 4 2 1 1 1 1 1 3 2 400"/><circle r="292.2" pathLength="109.0909" stroke-dasharray="0 64 1 8 1 1 2 19 1 400"/><circle r="293.2" pathLength="109.0909" stroke-dasharray="0 73 1 4 1 10 1 400"/><circle r="294.1" pathLength="109.0909" stroke-dasharray="1 4 1 11 1 1 4 3 1 400"/><circle r="295.1" pathLength="109.0909" stroke-dasharray="0 55 1 1 1 2 1 6 1 5 1 5 2 2 1 1 2 2 3 3 1 1 1 400"/><circle r="296.1" pathLength="109.0909" stroke-dasharray="0 62 1 5 1 5 1 5 1 11 1 400"/><circle r="297.1" pathLength="109.0909" stroke-dasharray="0 55 2 6 1 1 1 1 1 1 3 6 1 3 1 3 1 3 2 3 1 1 1 400"/><circle r="298.1" pathLength="109.0909" stroke-dasharray="0 62 1 17 1 400"/><circle r="299.1" pathLength="109.0909" stroke-dasharray="0 80 1 400"/><circle r="300.1" pathLength="109.0909" stroke-dasharray="0 54 1 3 1 3 1 3 2 4 2 3 2 1 1 1 1 2 1 2 2 9 1 400"/><circle r="301.1" pathLength="109.0909" stroke-dasharray="0 62 1 15 1 400"/><circle r="302" pathLength="109.0909" stroke-dasharray="0 52 1 3 1 5 1 4 1 7 1 6 2 1 1 2 2 7 1 1 1 400"/><circle r="303" pathLength="109.0909" stroke-dasharray="0 54 1 2 2 1 1 1 2 1 1 5 2 1 1 2 2 2 3 6 1 1 1 1 1 2 1 1 1 400"/><circle r="305" pathLength="109.0909" stroke-dasharray="0 56 1 7 1 9 2 23 1 400"/><circle r="306" pathLength="109.0909" stroke-dasharray="0 57 2 3 1 2 1 3 1 1 1 4 1 11 1 6 3 1 1 400"/><circle r="307" pathLength="109.0909" stroke-dasharray="0 55 1 1 1 5 1 4 1 1 1 2 2 6 1 2 1 4 1 2 4 400"/><circle r="308" pathLength="109.0909" stroke-dasharray="0 57 1 3 1 1 1 16 1 2 1 1 1 3 1 400"/><circle r="309" pathLength="109.0909" stroke-dasharray="0 54 1 2 1 7 1 2 1 4 2 3 1 5 1 3 1 6 1 400"/><circle r="310" pathLength="109.0909" stroke-dasharray="0 49 1 400"/><circle r="310.9" pathLength="109.0909" stroke-dasharray="0 52 1 25 3 5 1 1 1 2 1 5 1 400"/><circle r="311.9" pathLength="109.0909" stroke-dasharray="0 55 3 2 1 1 1 9 4 4 2 1 2 1 1 2 1 4 1 1 1 1 1 400"/><circle r="312.9" pathLength="109.0909" stroke-dasharray="0 58 4 2 1 7 1 1 5 5 1 2 1 2 3 2 1 3 1 400"/><circle r="313.9" pathLength="109.0909" stroke-dasharray="0 57 2 4 2 1 2 14 1 9 1 1 1 1 1 2 1 400"/></g>
<g stroke="#DF8774"><circle r="265.5" pathLength="109.0909" stroke-dasharray="0 69 3 2 1 1 1 10 1 7 1 400"/><circle r="267.5" pathLength="109.0909" stroke-dasharray="0 21 1 24 1 400"/><circle r="268.5" pathLength="109.0909" stroke-dasharray="0 52 1 39 1 400"/><circle r="269.4" pathLength="109.0909" stroke-dasharray="0 54 1 2 1 2 2 6 1 14 1 4 2 400"/><circle r="270.4" pathLength="109.0909" stroke-dasharray="0 53 1 15 1 17 1 400"/><circle r="272.4" pathLength="109.0909" stroke-dasharray="0 18 2 2 3 1 1 12 1 1 1 400"/><circle r="273.4" pathLength="109.0909" stroke-dasharray="0 54 1 1 1 1 1 5 2 7 6 3 1 2 1 4 1 1 3 1 1 1 2 400"/><circle r="274.4" pathLength="109.0909" stroke-dasharray="0 57 1 2 2 5 1 7 1 2 1 4 1 1 1 4 1 2 1 400"/><circle r="275.4" pathLength="109.0909" stroke-dasharray="0 52 1 2 1 1 1 1 5 3 3 6 2 1 1 5 1 4 1 1 1 1 1 2 3 400"/><circle r="276.4" pathLength="109.0909" stroke-dasharray="0 58 1 1 1 2 1 4 2 7 1 3 1 8 2 1 1 4 2 400"/><circle r="277.4" pathLength="109.0909" stroke-dasharray="0 54 1 1 1 1 3 5 2 3 1 2 1 2 1 3 1 3 2 3 1 2 2 1 1 1 1 400"/><circle r="279.3" pathLength="109.0909" stroke-dasharray="1 4 1 3 1 4 1 1 3 1 2 4 1 18 1 4 1 400"/><circle r="280.3" pathLength="109.0909" stroke-dasharray="0 54 4 4 1 7 1 6 3 5 1 5 1 1 4 1 1 400"/><circle r="281.3" pathLength="109.0909" stroke-dasharray="0 54 2 1 1 1 1 2 1 1 1 2 2 6 4 1 1 1 5 5 2 4 2 400"/><circle r="282.3" pathLength="109.0909" stroke-dasharray="0 56 1 3 1 3 1 6 1 1 2 2 2 1 6 4 1 3 1 400"/><circle r="283.3" pathLength="109.0909" stroke-dasharray="0 55 1 2 1 2 1 5 1 13 2 4 1 7 1 1 1 400"/><circle r="284.3" pathLength="109.0909" stroke-dasharray="0 56 1 3 2 2 3 4 2 1 1 1 2 2 3 1 1 3 1 8 1 1 1 400"/><circle r="285.3" pathLength="109.0909" stroke-dasharray="0 54 2 1 1 2 1 1 1 2 1 2 2 1 1 2 1 4 2 7 1 2 1 3 2 400"/><circle r="286.2" pathLength="109.0909" stroke-dasharray="0 54 1 2 1 1 2 3 2 1 3 4 1 2 1 1 1 3 2 4 1 2 1 1 1 4 1 400"/><circle r="287.2" pathLength="109.0909" stroke-dasharray="0 55 1 5 1 1 1 2 2 1 2 3 1 3 2 1 1 2 4 4 2 4 2 400"/><circle r="288.2" pathLength="109.0909" stroke-dasharray="0 4 1 12 1 4 1 16 1 400"/><circle r="289.2" pathLength="109.0909" stroke-dasharray="0 51 1 3 1 6 1 10 1 1 2 3 1 7 1 3 1 6 1 400"/><circle r="290.2" pathLength="109.0909" stroke-dasharray="0 51 1 2 1 6 1 1 1 3 1 2 1 1 1 1 1 1 1 2 2 4 1 5 2 5 2 400"/><circle r="291.2" pathLength="109.0909" stroke-dasharray="0 55 1 3 1 7 1 1 1 9 1 2 1 12 1 1 1 400"/><circle r="292.2" pathLength="109.0909" stroke-dasharray="0 54 1 1 1 1 1 1 1 4 1 3 1 4 1 4 3 2 3 1 2 4 1 2 1 1 1 400"/><circle r="293.2" pathLength="109.0909" stroke-dasharray="0 54 1 2 1 4 1 4 1 1 1 5 1 1 1 2 1 400"/><circle r="294.1" pathLength="109.0909" stroke-dasharray="0 1 3 4 1 2 1 2 2 7 1 1 1 19 1 2 2 400"/><circle r="295.1" pathLength="109.0909" stroke-dasharray="0 56 1 4 1 1 1 1 2 3 1 1 1 2 2 4 2 4 2 4 2 1 1 1 1 400"/><circle r="296.1" pathLength="109.0909" stroke-dasharray="0 58 1 2 1 2 2 1 1 1 1 3 1 1 1 1 3 1 1 3 1 2 1 2 1 3 1 400"/><circle r="297.1" pathLength="109.0909" stroke-dasharray="0 66 1 9 1 4 1 400"/><circle r="298.1" pathLength="109.0909" stroke-dasharray="0 73 1 1 1 12 1 400"/><circle r="299.1" pathLength="109.0909" stroke-dasharray="0 56 3 8 1 8 1 1 1 4 2 4 1 4 1 2 1 400"/><circle r="300.1" pathLength="109.0909" stroke-dasharray="0 55 1 1 1 2 2 2 2 2 4 3 1 5 1 1 1 2 1 3 4 3 1 400"/><circle r="301.1" pathLength="109.0909" stroke-dasharray="0 76 1 11 1 3 2 400"/><circle r="302" pathLength="109.0909" stroke-dasharray="0 54 1 6 1 1 4 2 1 1 4 1 1 1 1 2 1 4 1 3 1 4 2 1 1 400"/><circle r="303" pathLength="109.0909" stroke-dasharray="0 53 1 1 1 3 1 1 1 5 4 4 2 2 1 5 3 1 1 1 1 1 1 1 1 400"/><circle r="304" pathLength="109.0909" stroke-dasharray="0 61 1 3 1 10 1 15 1 400"/><circle r="305" pathLength="109.0909" stroke-dasharray="0 55 1 4 4 3 1 4 1 4 1 1 2 4 2 4 1 3 3 400"/><circle r="306" pathLength="109.0909" stroke-dasharray="0 54 3 3 2 1 1 2 3 4 1 1 1 1 3 1 2 1 1 2 1 4 3 3 1 400"/><circle r="307" pathLength="109.0909" stroke-dasharray="0 59 4 1 1 1 2 1 1 1 1 4 1 2 1 2 1 8 1 6 2 400"/><circle r="308" pathLength="109.0909" stroke-dasharray="0 54 1 3 1 3 1 1 1 6 2 2 1 1 1 1 1 2 1 1 1 1 1 1 1 6 2 400"/><circle r="309" pathLength="109.0909" stroke-dasharray="0 55 2 1 1 1 2 1 2 1 1 4 1 3 3 1 3 1 1 1 3 2 2 2 1 2 2 400"/><circle r="310" pathLength="109.0909" stroke-dasharray="0 43 1 400"/><circle r="310.9" pathLength="109.0909" stroke-dasharray="0 51 1 2 3 1 1 1 1 1 2 2 1 1 2 1 1 1 1 1 2 4 2 2 1 3 2 1 1 2 2 2 1 400"/><circle r="311.9" pathLength="109.0909" stroke-dasharray="0 53 1 5 1 3 6 2 1 5 3 2 1 2 1 2 1 1 4 5 1 400"/><circle r="312.9" pathLength="109.0909" stroke-dasharray="0 63 1 1 1 2 2 3 1 7 2 3 1 6 2 3 1 400"/><circle r="313.9" pathLength="109.0909" stroke-dasharray="0 55 2 3 1 7 3 8 1 4 2 1 1 2 1 2 1 1 1 400"/></g>
<g stroke="#E89F8E"><circle r="265.5" pathLength="109.0909" stroke-dasharray="0 51 1 1 1 400"/><circle r="266.5" pathLength="109.0909" stroke-dasharray="0 62 1 26 1 400"/><circle r="267.5" pathLength="109.0909" stroke-dasharray="0 14 1 3 3 1 3 400"/><circle r="269.4" pathLength="109.0909" stroke-dasharray="0 52 1 3 1 1 1 3 1 2 3 2 1 1 2 2 1 1 1 1 1 5 2 2 1 3 2 1 1 1 1 400"/><circle r="271.4" pathLength="109.0909" stroke-dasharray="0 52 1 7 1 2 1 19 1 5 1 400"/><circle r="272.4" pathLength="109.0909" stroke-dasharray="1 3 3 1 2 3 5 2 1 8 1 14 1 2 1 400"/><circle r="273.4" pathLength="109.0909" stroke-dasharray="0 55 1 5 1 1 1 2 1 1 1 1 2 15 1 400"/><circle r="274.4" pathLength="109.0909" stroke-dasharray="0 56 1 6 1 5 2 2 1 3 1 1 1 2 1 1 1 3 2 4 1 1 2 1 1 400"/><circle r="275.4" pathLength="109.0909" stroke-dasharray="0 53 2 3 1 5 3 3 1 2 1 1 1 4 1 1 1 1 1 2 1 3 1 1 1 1 1 400"/><circle r="276.4" pathLength="109.0909" stroke-dasharray="0 70 1 16 1 400"/><circle r="277.4" pathLength="109.0909" stroke-dasharray="0 61 1 2 1 4 2 11 1 4 1 4 1 2 1 400"/><circle r="278.3" pathLength="109.0909" stroke-dasharray="0 41 1 400"/><circle r="279.3" pathLength="109.0909" stroke-dasharray="0 1 4 3 1 1 1 1 1 9 1 2 1 3 1 7 1 1 2 5 1 400"/><circle r="280.3" pathLength="109.0909" stroke-dasharray="0 47 1 3 1 8 2 1 3 2 1 3 1 8 2 1 1 2 1 2 1 1 1 4 1 400"/><circle r="281.3" pathLength="109.0909" stroke-dasharray="0 58 1 2 1 1 1 2 1 3 2 2 1 6 1 5 1 2 2 3 1 1 1 400"/><circle r="282.3" pathLength="109.0909" stroke-dasharray="0 54 1 2 2 2 1 1 1 1 3 2 1 1 1 3 1 9 2 7 5 400"/><circle r="283.3" pathLength="109.0909" stroke-dasharray="0 96 1 400"/><circle r="284.3" pathLength="109.0909" stroke-dasharray="0 54 2 1 1 5 1 3 3 3 1 4 1 7 1 3 3 2 1 400"/><circle r="285.3" pathLength="109.0909" stroke-dasharray="0 59 1 1 1 1 2 2 1 4 2 1 3 5 1 1 1 4 1 1 1 1 1 2 2 400"/><circle r="286.2" pathLength="109.0909" stroke-dasharray="0 58 1 2 1 1 1 2 1 3 2 1 1 1 2 1 1 2 1 3 3 2 1 2 1 1 3 400"/><circle r="287.2" pathLength="109.0909" stroke-dasharray="0 59 1 2 1 5 1 7 1 400"/><circle r="288.2" pathLength="109.0909" stroke-dasharray="0 9 1 4 3 1 4 2 1 1 1 5 1 10 1 3 1 400"/><circle r="289.2" pathLength="109.0909" stroke-dasharray="0 46 1 7 1 1 3 1 1 5 1 2 1 7 1 3 2 6 1 3 3 1 2 400"/><circle r="290.2" pathLength="109.0909" stroke-dasharray="0 66 1 10 1 4 1 4 1 5 1 400"/><circle r="292.2" pathLength="109.0909" stroke-dasharray="0 55 1 1 1 1 1 1 2 3 3 1 3 4 2 3 1 7 4 1 1 2 1 400"/><circle r="293.2" pathLength="109.0909" stroke-dasharray="0 56 1 2 2 3 2 2 1 1 1 1 1 6 1 3 1 1 2 1 1 1 3 3 1 2 1 400"/><circle r="294.1" pathLength="109.0909" stroke-dasharray="0 6 1 3 1 1 2 10 1 2 1 2 3 6 2 1 3 400"/><circle r="295.1" pathLength="109.0909" stroke-dasharray="0 54 1 3 2 8 2 1 1 2 1 2 2 13 1 6 1 400"/><circle r="296.1" pathLength="109.0909" stroke-dasharray="0 52 1 1 1 1 2 1 2 5 1 3 3 3 1 5 1 7 1 3 1 1 1 2 1 400"/><circle r="298.1" pathLength="109.0909" stroke-dasharray="0 56 1 8 1 1 1 8 3 4 1 5 1 1 1 1 2 2 1 1 1 400"/><circle r="299.1" pathLength="109.0909" stroke-dasharray="0 52 1 2 1 5 1 2 2 2 1 3 2 1 1 1 1 10 1 1 2 1 1 1 2 2 1 400"/><circle r="300.1" pathLength="109.0909" stroke-dasharray="0 59 1 14 1 4 1 4 1 9 3 400"/><circle r="301.1" pathLength="109.0909" stroke-dasharray="0 56 1 1 1 6 4 1 6 1 1 1 2 2 1 2 2 1 2 4 1 1 1 1 1 400"/><circle r="302" pathLength="109.0909" stroke-dasharray="0 53 1 1 1 1 2 1 1 7 1 8 1 1 2 3 1 2 1 4 1 400"/><circle r="303" pathLength="109.0909" stroke-dasharray="0 66 1 29 1 1 1 400"/><circle r="304" pathLength="109.0909" stroke-dasharray="0 51 1 3 1 6 1 4 1 4 1 1 1 3 1 1 1 4 3 1 1 1 1 3 1 400"/><circle r="305" pathLength="109.0909" stroke-dasharray="0 52 1 1 1 2 3 6 1 1 1 4 1 2 1 1 1 2 1 2 1 3 3 1 3 3 1 400"/><circle r="306" pathLength="109.0909" stroke-dasharray="0 53 1 5 1 4 1 5 1 400"/><circle r="307" pathLength="109.0909" stroke-dasharray="0 65 1 6 1 14 1 2 1 400"/><circle r="308" pathLength="109.0909" stroke-dasharray="0 55 2 2 2 5 1 1 2 3 1 2 1 4 1 5 1 2 3 1 1 2 1 1 1 400"/><circle r="309" pathLength="109.0909" stroke-dasharray="0 67 1 1 2 1 1 9 1 10 1 400"/><circle r="310" pathLength="109.0909" stroke-dasharray="0 15 1 23 2 400"/><circle r="310.9" pathLength="109.0909" stroke-dasharray="0 59 1 1 1 3 1 1 1 4 1 4 1 6 1 2 1 6 1 400"/><circle r="311.9" pathLength="109.0909" stroke-dasharray="0 54 1 3 1 10 2 16 1 400"/><circle r="312.9" pathLength="109.0909" stroke-dasharray="0 52 1 14 1 2 1 400"/><circle r="313.9" pathLength="109.0909" stroke-dasharray="0 52 1 18 1 400"/></g>
<g stroke="#F0B7A9"><circle r="266.5" pathLength="109.0909" stroke-dasharray="0 42 1 6 1 15 1 2 1 14 1 2 1 1 1 6 2 400"/><circle r="267.5" pathLength="109.0909" stroke-dasharray="0 1 1 5 1 2 1 1 2 3 1 7 2 1 1 2 2 8 1 2 1 2 1 2 1 400"/><circle r="269.4" pathLength="109.0909" stroke-dasharray="0 55 1 3 1 4 1 4 1 1 1 3 1 1 1 1 1 1 2 10 1 400"/><circle r="271.4" pathLength="109.0909" stroke-dasharray="0 8 1 30 1 1 1 19 1 3 2 4 1 1 1 1 1 1 1 2 2 3 2 8 1 400"/><circle r="272.4" pathLength="109.0909" stroke-dasharray="0 1 2 7 2 13 1 1 1 6 1 8 1 4 1 400"/><circle r="273.4" pathLength="109.0909" stroke-dasharray="0 52 1 6 1 400"/><circle r="274.4" pathLength="109.0909" stroke-dasharray="0 36 1 22 1 2 1 1 1 1 1 4 1 4 1 4 1 4 2 3 2 400"/><circle r="275.4" pathLength="109.0909" stroke-dasharray="0 71 1 6 1 400"/><circle r="276.4" pathLength="109.0909" stroke-dasharray="0 53 1 400"/><circle r="277.4" pathLength="109.0909" stroke-dasharray="0 45 1 9 1 7 1 19 1 400"/><circle r="278.3" pathLength="109.0909" stroke-dasharray="0 19 1 2 1 23 1 18 1 400"/><circle r="279.3" pathLength="109.0909" stroke-dasharray="0 6 1 4 1 1 1 27 2 1 1 400"/><circle r="280.3" pathLength="109.0909" stroke-dasharray="0 59 1 11 1 400"/><circle r="281.3" pathLength="109.0909" stroke-dasharray="0 53 1 2 1 12 1 400"/><circle r="282.3" pathLength="109.0909" stroke-dasharray="0 29 1 16 1 5 1 2 1 3 1 9 1 23 1 400"/><circle r="283.3" pathLength="109.0909" stroke-dasharray="0 18 1 32 1 400"/><circle r="284.3" pathLength="109.0909" stroke-dasharray="0 53 1 16 1 4 1 3 1 7 1 5 2 400"/><circle r="285.3" pathLength="109.0909" stroke-dasharray="0 41 1 16 1 7 1 3 1 15 2 5 1 400"/><circle r="286.2" pathLength="109.0909" stroke-dasharray="0 52 1 2 1 26 1 400"/><circle r="287.2" pathLength="109.0909" stroke-dasharray="0 51 1 1 1 400"/><circle r="288.2" pathLength="109.0909" stroke-dasharray="1 1 2 1 1 5 3 9 1 3 1 6 1 3 1 1 1 9 1 400"/><circle r="289.2" pathLength="109.0909" stroke-dasharray="0 59 1 1 1 1 3 1 2 9 2 6 1 3 2 400"/><circle r="291.2" pathLength="109.0909" stroke-dasharray="0 15 1 37 1 400"/><circle r="292.2" pathLength="109.0909" stroke-dasharray="0 35 1 27 1 23 1 400"/><circle r="293.2" pathLength="109.0909" stroke-dasharray="0 53 1 1 1 5 1 4 1 4 1 2 1 1 1 4 1 2 1 8 2 3 1 400"/><circle r="294.1" pathLength="109.0909" stroke-dasharray="0 7 1 8 1 11 2 5 1 2 1 400"/><circle r="295.1" pathLength="109.0909" stroke-dasharray="0 64 1 19 1 400"/><circle r="296.1" pathLength="109.0909" stroke-dasharray="0 46 1 37 1 2 1 5 1 4 1 400"/><circle r="297.1" pathLength="109.0909" stroke-dasharray="0 21 1 29 2 400"/><circle r="298.1" pathLength="109.0909" stroke-dasharray="0 38 1 15 1 3 3 7 2 1 2 1 1 10 2 3 1 4 2 1 1 400"/><circle r="299.1" pathLength="109.0909" stroke-dasharray="0 51 1 2 1 5 1 5 1 3 2 2 1 4 1 2 1 2 1 1 1 4 1 400"/><circle r="300.1" pathLength="109.0909" stroke-dasharray="0 52 1 34 1 400"/><circle r="301.1" pathLength="109.0909" stroke-dasharray="0 44 1 9 1 8 2 4 1 11 2 1 2 5 1 4 1 400"/><circle r="302" pathLength="109.0909" stroke-dasharray="0 91 1 1 2 400"/><circle r="304" pathLength="109.0909" stroke-dasharray="0 56 2 5 2 4 2 2 1 1 1 6 2 4 1 4 2 4 1 400"/><circle r="305" pathLength="109.0909" stroke-dasharray="0 51 1 1 1 15 3 10 1 4 1 400"/><circle r="308" pathLength="109.0909" stroke-dasharray="0 70 1 7 1 14 1 400"/><circle r="309" pathLength="109.0909" stroke-dasharray="0 53 1 5 1 400"/><circle r="310" pathLength="109.0909" stroke-dasharray="0 2 1 2 1 1 1 1 1 7 5 1 4 11 1 5 1 400"/><circle r="310.9" pathLength="109.0909" stroke-dasharray="0 53 1 16 1 27 1 400"/><circle r="312.9" pathLength="109.0909" stroke-dasharray="0 11 1 400"/></g>
<g stroke="#F7CFC5"><circle r="265.5" pathLength="109.0909" stroke-dasharray="0 17 1 24 2 4 1 400"/><circle r="266.5" pathLength="109.0909" stroke-dasharray="0 30 1 9 1 4 2 9 2 1 1 1 1 11 1 4 3 4 1 4 2 5 3 400"/><circle r="267.5" pathLength="109.0909" stroke-dasharray="1 1 4 2 2 5 2 12 1 4 1 4 2 1 2 1 1 3 1 45 1 400"/><circle r="268.5" pathLength="109.0909" stroke-dasharray="0 19 1 400"/><circle r="269.4" pathLength="109.0909" stroke-dasharray="0 1 1 16 1 13 1 52 1 6 1 3 1 400"/><circle r="270.4" pathLength="109.0909" stroke-dasharray="0 9 1 19 1 11 1 400"/><circle r="271.4" pathLength="109.0909" stroke-dasharray="0 40 1 14 1 2 2 2 1 1 1 3 1 5 1 1 1 1 1 3 1 4 1 3 2 1 1 1 4 400"/><circle r="272.4" pathLength="109.0909" stroke-dasharray="0 7 1 4 1 18 3 3 1 2 1 1 1 400"/><circle r="273.4" pathLength="109.0909" stroke-dasharray="0 13 1 9 1 29 1 400"/><circle r="274.4" pathLength="109.0909" stroke-dasharray="0 13 1 19 1 15 1 8 1 15 1 400"/><circle r="275.4" pathLength="109.0909" stroke-dasharray="0 2 1 20 1 26 1 400"/><circle r="276.4" pathLength="109.0909" stroke-dasharray="0 13 1 11 1 25 1 400"/><circle r="277.4" pathLength="109.0909" stroke-dasharray="0 11 1 25 1 10 1 400"/><circle r="278.3" pathLength="109.0909" stroke-dasharray="0 1 1 1 1 10 1 2 2 2 1 2 2 11 1 4 1 2 1 2 1 7 1 3 3 14 2 1 1 2 3 2 1 2 2 1 1 1 4 400"/><circle r="279.3" pathLength="109.0909" stroke-dasharray="0 7 1 7 1 7 1 3 1 3 5 7 1 4 1 2 1 400"/><circle r="280.3" pathLength="109.0909" stroke-dasharray="0 52 1 400"/><circle r="281.3" pathLength="109.0909" stroke-dasharray="0 52 1 400"/><circle r="282.3" pathLength="109.0909" stroke-dasharray="0 27 1 14 1 400"/><circle r="283.3" pathLength="109.0909" stroke-dasharray="0 46 1 400"/><circle r="285.3" pathLength="109.0909" stroke-dasharray="0 46 2 1 1 1 1 1 1 27 1 400"/><circle r="286.2" pathLength="109.0909" stroke-dasharray="0 2 1 7 1 9 1 20 1 8 1 400"/><circle r="287.2" pathLength="109.0909" stroke-dasharray="0 23 1 58 1 400"/><circle r="288.2" pathLength="109.0909" stroke-dasharray="0 1 1 4 2 2 1 18 1 1 1 3 1 1 1 6 2 3 1 33 1 400"/><circle r="289.2" pathLength="109.0909" stroke-dasharray="0 42 1 5 2 3 1 16 1 16 1 400"/><circle r="290.2" pathLength="109.0909" stroke-dasharray="0 22 1 9 1 6 1 7 1 400"/><circle r="291.2" pathLength="109.0909" stroke-dasharray="0 36 1 15 1 400"/><circle r="292.2" pathLength="109.0909" stroke-dasharray="0 44 1 4 2 2 1 400"/><circle r="293.2" pathLength="109.0909" stroke-dasharray="0 16 1 46 1 23 1 400"/><circle r="294.1" pathLength="109.0909" stroke-dasharray="0 4 1 4 1 23 1 3 1 400"/><circle r="295.1" pathLength="109.0909" stroke-dasharray="0 13 1 21 1 10 1 5 1 400"/><circle r="296.1" pathLength="109.0909" stroke-dasharray="0 14 1 36 1 1 1 400"/><circle r="297.1" pathLength="109.0909" stroke-dasharray="0 5 1 400"/><circle r="298.1" pathLength="109.0909" stroke-dasharray="0 34 1 9 2 4 1 4 1 1 1 3 1 1 2 5 1 10 2 1 1 2 1 4 1 400"/><circle r="299.1" pathLength="109.0909" stroke-dasharray="0 11 1 2 1 24 1 19 1 3 1 5 1 16 1 400"/><circle r="301.1" pathLength="109.0909" stroke-dasharray="0 27 1 11 1 7 2 3 1 2 1 1 1 1 3 32 1 400"/><circle r="302" pathLength="109.0909" stroke-dasharray="0 2 1 12 1 5 1 29 1 18 1 400"/><circle r="303" pathLength="109.0909" stroke-dasharray="0 1 1 49 2 400"/><circle r="304" pathLength="109.0909" stroke-dasharray="0 32 1 6 1 8 2 2 1 1 1 3 1 1 1 5 1 1 1 2 1 7 1 1 1 2 1 5 1 7 1 400"/><circle r="305" pathLength="109.0909" stroke-dasharray="0 22 1 8 1 400"/><circle r="306" pathLength="109.0909" stroke-dasharray="0 5 1 3 1 36 1 400"/><circle r="307" pathLength="109.0909" stroke-dasharray="0 11 1 13 1 21 1 400"/><circle r="308" pathLength="109.0909" stroke-dasharray="0 18 1 7 1 20 1 3 1 400"/><circle r="309" pathLength="109.0909" stroke-dasharray="0 4 1 8 1 400"/><circle r="310" pathLength="109.0909" stroke-dasharray="1 2 2 1 1 1 1 1 5 13 1 3 1 1 2 5 2 2 2 26 1 12 1 4 1 400"/><circle r="310.9" pathLength="109.0909" stroke-dasharray="0 14 1 32 1 45 1 400"/><circle r="311.9" pathLength="109.0909" stroke-dasharray="0 28 1 1 2 400"/><circle r="312.9" pathLength="109.0909" stroke-dasharray="0 23 1 400"/><circle r="313.9" pathLength="109.0909" stroke-dasharray="0 9 1 43 1 400"/></g>
<g stroke="#FCE7E2"><circle r="266.5" pathLength="109.0909" stroke-dasharray="0 15 1 2 1 1 3 1 2 11 1 3 1 1 1 4 1 5 2 2 1 1 1 2 1 3 1 1 1 1 2 1 4 15 2 400"/><circle r="267.5" pathLength="109.0909" stroke-dasharray="0 6 1 4 1 15 1 2 1 7 1 16 1 1 1 3 1 1 1 1 2 4 1 1 1 2 1 3 2 3 1 2 1 2 1 7 1 400"/><circle r="269.4" pathLength="109.0909" stroke-dasharray="0 11 1 31 1 400"/><circle r="270.4" pathLength="109.0909" stroke-dasharray="0 49 1 400"/><circle r="271.4" pathLength="109.0909" stroke-dasharray="0 19 1 1 2 1 1 17 2 4 1 1 1 3 1 1 1 10 1 1 1 2 1 6 1 4 1 3 1 1 1 2 1 400"/><circle r="272.4" pathLength="109.0909" stroke-dasharray="0 3 1 17 1 6 1 1 1 4 1 10 1 3 1 24 1 4 1 5 1 1 1 10 1 400"/><circle r="273.4" pathLength="109.0909" stroke-dasharray="0 2 1 41 1 6 1 400"/><circle r="274.4" pathLength="109.0909" stroke-dasharray="0 24 1 20 1 4 1 2 1 400"/><circle r="275.4" pathLength="109.0909" stroke-dasharray="1 2 1 10 1 19 1 8 1 2 1 2 1 400"/><circle r="276.4" pathLength="109.0909" stroke-dasharray="0 1 1 3 1 17 1 2 1 400"/><circle r="277.4" pathLength="109.0909" stroke-dasharray="0 2 1 13 1 18 1 14 1 1 1 400"/><circle r="278.3" pathLength="109.0909" stroke-dasharray="1 3 3 2 2 2 1 1 2 3 1 2 1 2 1 1 1 2 1 3 1 2 2 3 2 5 2 1 2 2 1 10 3 2 3 5 1 7 2 2 1 1 1 400"/><circle r="279.3" pathLength="109.0909" stroke-dasharray="0 28 1 7 1 10 1 8 1 23 1 2 1 400"/><circle r="280.3" pathLength="109.0909" stroke-dasharray="0 4 1 5 1 42 1 400"/><circle r="281.3" pathLength="109.0909" stroke-dasharray="0 39 1 400"/><circle r="282.3" pathLength="109.0909" stroke-dasharray="0 3 1 6 1 38 1 400"/><circle r="283.3" pathLength="109.0909" stroke-dasharray="1 5 1 400"/><circle r="284.3" pathLength="109.0909" stroke-dasharray="0 31 1 400"/><circle r="285.3" pathLength="109.0909" stroke-dasharray="0 9 1 38 1 3 1 400"/><circle r="286.2" pathLength="109.0909" stroke-dasharray="0 17 1 35 1 400"/><circle r="287.2" pathLength="109.0909" stroke-dasharray="0 30 2 400"/><circle r="288.2" pathLength="109.0909" stroke-dasharray="0 8 1 16 1 4 1 10 2 17 1 16 1 18 2 400"/><circle r="289.2" pathLength="109.0909" stroke-dasharray="0 2 1 33 1 8 1 400"/><circle r="290.2" pathLength="109.0909" stroke-dasharray="0 33 1 12 1 1 1 400"/><circle r="291.2" pathLength="109.0909" stroke-dasharray="0 32 1 18 1 400"/><circle r="292.2" pathLength="109.0909" stroke-dasharray="0 5 1 400"/><circle r="293.2" pathLength="109.0909" stroke-dasharray="0 37 1 9 1 2 1 1 1 29 1 400"/><circle r="294.1" pathLength="109.0909" stroke-dasharray="0 34 1 6 1 8 1 400"/><circle r="295.1" pathLength="109.0909" stroke-dasharray="0 41 1 5 1 3 1 1 1 400"/><circle r="298.1" pathLength="109.0909" stroke-dasharray="1 6 1 5 1 2 1 11 1 13 1 9 2 400"/><circle r="299.1" pathLength="109.0909" stroke-dasharray="0 22 1 19 1 4 1 400"/><circle r="300.1" pathLength="109.0909" stroke-dasharray="0 22 1 30 1 400"/><circle r="301.1" pathLength="109.0909" stroke-dasharray="0 8 1 400"/><circle r="302" pathLength="109.0909" stroke-dasharray="0 11 1 13 1 2 1 20 1 400"/><circle r="303" pathLength="109.0909" stroke-dasharray="0 48 1 400"/><circle r="304" pathLength="109.0909" stroke-dasharray="0 38 1 5 4 2 1 400"/><circle r="305" pathLength="109.0909" stroke-dasharray="0 40 1 400"/><circle r="306" pathLength="109.0909" stroke-dasharray="0 7 1 13 1 15 1 3 1 10 1 400"/><circle r="307" pathLength="109.0909" stroke-dasharray="0 23 1 4 1 22 1 400"/><circle r="308" pathLength="109.0909" stroke-dasharray="0 52 2 400"/><circle r="309" pathLength="109.0909" stroke-dasharray="0 40 1 8 1 1 1 400"/><circle r="310" pathLength="109.0909" stroke-dasharray="0 1 1 14 1 5 1 4 1 1 2 17 1 1 1 4 2 2 1 2 1 1 1 2 1 4 1 2 4 2 1 1 1 4 2 8 1 400"/><circle r="310.9" pathLength="109.0909" stroke-dasharray="0 16 1 6 1 14 1 400"/><circle r="311.9" pathLength="109.0909" stroke-dasharray="1 15 1 18 1 400"/><circle r="312.9" pathLength="109.0909" stroke-dasharray="0 15 1 35 1 400"/><circle r="313.9" pathLength="109.0909" stroke-dasharray="0 32 1 18 1 400"/></g>
<g stroke="#E6ECF6"><circle r="265.5" pathLength="109.0909" stroke-dasharray="0 47 1 49 1 400"/><circle r="266.5" pathLength="109.0909" stroke-dasharray="0 2 1 1 2 22 2 9 1 7 1 2 2 12 1 1 1 20 1 400"/><circle r="267.5" pathLength="109.0909" stroke-dasharray="0 36 1 11 1 2 2 1 1 1 1 3 1 1 1 4 2 1 1 1 1 13 2 1 2 400"/><circle r="268.5" pathLength="109.0909" stroke-dasharray="0 86 1 7 1 400"/><circle r="269.4" pathLength="109.0909" stroke-dasharray="0 26 1 7 1 4 2 3 1 29 1 9 1 400"/><circle r="270.4" pathLength="109.0909" stroke-dasharray="0 54 1 400"/><circle r="271.4" pathLength="109.0909" stroke-dasharray="4 1 2 2 2 1 1 1 1 8 1 4 2 1 3 3 2 7 1 400"/><circle r="272.4" pathLength="109.0909" stroke-dasharray="0 53 1 7 1 1 1 1 3 1 1 1 3 2 1 1 1 2 2 2 1 3 1 1 1 2 1 2 1 400"/><circle r="273.4" pathLength="109.0909" stroke-dasharray="0 34 1 32 1 400"/><circle r="274.4" pathLength="109.0909" stroke-dasharray="0 15 1 2 1 1 3 5 1 3 1 7 1 6 1 47 1 400"/><circle r="275.4" pathLength="109.0909" stroke-dasharray="0 38 2 1 2 1 1 2 1 33 1 400"/><circle r="277.4" pathLength="109.0909" stroke-dasharray="0 75 2 400"/><circle r="278.3" pathLength="109.0909" stroke-dasharray="0 27 1 4 1 1 1 1 1 10 1 400"/><circle r="279.3" pathLength="109.0909" stroke-dasharray="0 54 2 1 1 3 2 2 4 2 2 3 4 5 1 1 1 4 1 1 1 2 3 400"/><circle r="280.3" pathLength="109.0909" stroke-dasharray="0 38 1 6 1 3 1 19 1 10 1 400"/><circle r="281.3" pathLength="109.0909" stroke-dasharray="0 34 1 9 1 3 1 1 1 400"/><circle r="282.3" pathLength="109.0909" stroke-dasharray="0 30 1 10 1 3 1 22 1 10 1 11 1 400"/><circle r="284.3" pathLength="109.0909" stroke-dasharray="0 37 1 1 1 7 1 1 2 1 1 32 1 10 1 400"/><circle r="285.3" pathLength="109.0909" stroke-dasharray="0 17 1 400"/><circle r="286.2" pathLength="109.0909" stroke-dasharray="0 39 1 6 2 3 1 4 1 400"/><circle r="287.2" pathLength="109.0909" stroke-dasharray="0 94 1 400"/><circle r="288.2" pathLength="109.0909" stroke-dasharray="0 33 1 18 1 1 2 7 3 6 2 1 1 2 1 1 1 1 1 3 2 3 2 1 1 3 1 400"/><circle r="289.2" pathLength="109.0909" stroke-dasharray="0 39 1 1 1 1 1 8 1 18 2 400"/><circle r="290.2" pathLength="109.0909" stroke-dasharray="0 50 1 2 1 19 1 400"/><circle r="292.2" pathLength="109.0909" stroke-dasharray="0 38 2 1 1 3 3 35 1 400"/><circle r="293.2" pathLength="109.0909" stroke-dasharray="0 38 1 3 1 1 1 400"/><circle r="294.1" pathLength="109.0909" stroke-dasharray="0 55 1 1 1 3 2 1 1 1 1 2 1 1 2 3 1 2 1 3 3 1 4 3 1 1 1 400"/><circle r="295.1" pathLength="109.0909" stroke-dasharray="0 32 1 6 2 400"/><circle r="296.1" pathLength="109.0909" stroke-dasharray="0 39 1 43 1 13 1 400"/><circle r="297.1" pathLength="109.0909" stroke-dasharray="0 53 1 400"/><circle r="298.1" pathLength="109.0909" stroke-dasharray="0 1 1 15 1 1 1 2 2 1 2 6 1 3 1 3 1 6 2 29 1 400"/><circle r="299.1" pathLength="109.0909" stroke-dasharray="0 28 1 4 2 27 1 18 1 400"/><circle r="300.1" pathLength="109.0909" stroke-dasharray="0 38 1 24 1 12 1 21 1 400"/><circle r="301.1" pathLength="109.0909" stroke-dasharray="0 3 1 13 2 3 1 9 1 1 1 8 1 1 1 3 1 1 1 400"/><circle r="302" pathLength="109.0909" stroke-dasharray="0 47 1 400"/><circle r="303" pathLength="109.0909" stroke-dasharray="0 47 1 400"/><circle r="304" pathLength="109.0909" stroke-dasharray="0 4 1 12 1 1 5 3 1 2 2 2 2 4 1 2 1 15 1 17 1 400"/><circle r="305" pathLength="109.0909" stroke-dasharray="0 41 6 2 2 400"/><circle r="306" pathLength="109.0909" stroke-dasharray="0 47 1 3 1 22 1 400"/><circle r="307" pathLength="109.0909" stroke-dasharray="0 39 2 8 2 5 1 40 1 400"/><circle r="308" pathLength="109.0909" stroke-dasharray="0 39 1 4 1 5 1 14 1 400"/><circle r="309" pathLength="109.0909" stroke-dasharray="0 41 1 6 1 50 1 400"/><circle r="310" pathLength="109.0909" stroke-dasharray="0 37 1 14 2 3 1 5 1 2 1 13 1 3 1 8 1 2 1 400"/><circle r="310.9" pathLength="109.0909" stroke-dasharray="0 42 1 3 1 2 1 14 1 400"/><circle r="311.9" pathLength="109.0909" stroke-dasharray="0 39 1 12 1 42 1 400"/><circle r="312.9" pathLength="109.0909" stroke-dasharray="0 39 1 10 1 2 1 1 1 24 1 400"/><circle r="313.9" pathLength="109.0909" stroke-dasharray="0 39 1 2 1 2 1 19 1 14 1 400"/></g>
<g stroke="#CDDAED"><circle r="265.5" pathLength="109.0909" stroke-dasharray="0 55 1 10 1 12 1 400"/><circle r="266.5" pathLength="109.0909" stroke-dasharray="0 31 1 1 1 19 1 38 1 400"/><circle r="267.5" pathLength="109.0909" stroke-dasharray="0 33 1 19 1 5 1 9 1 8 1 400"/><circle r="268.5" pathLength="109.0909" stroke-dasharray="0 39 1 10 1 2 1 2 1 19 1 400"/><circle r="269.4" pathLength="109.0909" stroke-dasharray="0 4 1 10 1 1 1 1 4 1 2 4 1 2 1 8 1 3 1 16 1 34 1 400"/><circle r="270.4" pathLength="109.0909" stroke-dasharray="0 51 1 19 1 20 1 400"/><circle r="271.4" pathLength="109.0909" stroke-dasharray="0 7 1 3 1 15 1 6 2 17 1 400"/><circle r="272.4" pathLength="109.0909" stroke-dasharray="0 55 2 1 3 18 1 7 1 5 1 4 1 400"/><circle r="273.4" pathLength="109.0909" stroke-dasharray="0 28 1 9 3 1 2 1 2 2 1 34 1 1 1 10 1 400"/><circle r="274.4" pathLength="109.0909" stroke-dasharray="0 1 1 2 1 12 1 5 1 2 2 2 1 7 1 2 2 8 1 13 1 2 1 29 1 400"/><circle r="275.4" pathLength="109.0909" stroke-dasharray="0 32 1 4 1 2 1 4 1 400"/><circle r="276.4" pathLength="109.0909" stroke-dasharray="0 45 2 5 1 3 1 17 1 21 1 400"/><circle r="277.4" pathLength="109.0909" stroke-dasharray="0 18 1 22 1 1 2 1 1 2 1 1 1 5 1 4 1 9 1 11 1 12 1 400"/><circle r="278.3" pathLength="109.0909" stroke-dasharray="0 76 1 400"/><circle r="279.3" pathLength="109.0909" stroke-dasharray="0 52 2 5 1 4 1 4 2 10 1 2 1 6 1 1 1 400"/><circle r="280.3" pathLength="109.0909" stroke-dasharray="0 28 1 1 1 2 1 3 1 3 2 400"/><circle r="281.3" pathLength="109.0909" stroke-dasharray="0 38 1 4 1 1 2 400"/><circle r="282.3" pathLength="109.0909" stroke-dasharray="0 26 1 1 1 9 2 3 1 400"/><circle r="283.3" pathLength="109.0909" stroke-dasharray="0 38 1 9 1 30 1 5 2 400"/><circle r="284.3" pathLength="109.0909" stroke-dasharray="0 23 1 4 1 4 1 7 2 5 1 2 1 400"/><circle r="285.3" pathLength="109.0909" stroke-dasharray="0 19 2 7 1 10 1 3 1 38 1 1 1 4 1 400"/><circle r="286.2" pathLength="109.0909" stroke-dasharray="0 30 2 6 1 3 2 1 1 2 1 400"/><circle r="287.2" pathLength="109.0909" stroke-dasharray="0 38 2 5 1 14 1 34 1 400"/><circle r="288.2" pathLength="109.0909" stroke-dasharray="0 57 2 2 1 5 2 1 1 8 1 1 1 11 1 400"/><circle r="289.2" pathLength="109.0909" stroke-dasharray="0 18 3 2 1 1 1 1 1 2 2 5 1 2 1 33 1 10 1 400"/><circle r="290.2" pathLength="109.0909" stroke-dasharray="0 40 1 3 1 39 1 400"/><circle r="291.2" pathLength="109.0909" stroke-dasharray="0 28 1 10 1 2 2 2 1 2 1 4 1 15 1 400"/><circle r="292.2" pathLength="109.0909" stroke-dasharray="0 33 2 2 1 400"/><circle r="293.2" pathLength="109.0909" stroke-dasharray="0 6 1 2 1 5 1 1 2 6 1 3 2 4 1 7 1 2 1 4 1 6 1 36 1 1 1 400"/><circle r="294.1" pathLength="109.0909" stroke-dasharray="0 54 1 1 1 1 3 2 1 1 1 1 2 4 1 3 2 2 2 8 1 1 1 1 1 1 2 400"/><circle r="295.1" pathLength="109.0909" stroke-dasharray="0 42 3 5 1 400"/><circle r="296.1" pathLength="109.0909" stroke-dasharray="0 30 1 2 2 5 4 3 1 7 1 7 1 400"/><circle r="297.1" pathLength="109.0909" stroke-dasharray="0 49 1 48 1 400"/><circle r="298.1" pathLength="109.0909" stroke-dasharray="0 3 2 10 1 2 1 1 2 2 1 5 3 10 1 22 1 400"/><circle r="299.1" pathLength="109.0909" stroke-dasharray="0 5 1 3 1 5 1 1 1 1 2 2 5 4 1 2 1 1 1 60 1 400"/><circle r="300.1" pathLength="109.0909" stroke-dasharray="0 41 1 1 1 2 1 4 1 400"/><circle r="301.1" pathLength="109.0909" stroke-dasharray="0 4 1 10 2 2 1 4 3 1 1 1 2 5 1 2 2 8 1 2 1 400"/><circle r="302" pathLength="109.0909" stroke-dasharray="0 39 1 1 1 3 1 13 1 400"/><circle r="303" pathLength="109.0909" stroke-dasharray="0 39 1 24 1 15 1 400"/><circle r="304" pathLength="109.0909" stroke-dasharray="0 1 2 2 2 2 4 1 3 1 1 6 2 14 1 11 1 42 2 400"/><circle r="305" pathLength="109.0909" stroke-dasharray="0 19 1 10 1 3 1 3 1 8 1 17 1 400"/><circle r="306" pathLength="109.0909" stroke-dasharray="0 39 1 2 2 6 1 400"/><circle r="307" pathLength="109.0909" stroke-dasharray="0 45 1 6 1 25 1 400"/><circle r="308" pathLength="109.0909" stroke-dasharray="0 38 1 1 2 56 1 400"/><circle r="309" pathLength="109.0909" stroke-dasharray="0 38 2 2 1 2 1 46 1 3 1 400"/><circle r="310" pathLength="109.0909" stroke-dasharray="0 36 1 21 1 15 1 15 1 4 1 1 1 400"/><circle r="310.9" pathLength="109.0909" stroke-dasharray="0 30 1 1 1 1 1 5 2 1 1 1 1 4 1 400"/><circle r="311.9" pathLength="109.0909" stroke-dasharray="0 41 3 5 1 1 1 9 1 400"/><circle r="312.9" pathLength="109.0909" stroke-dasharray="0 40 2 1 1 5 1 21 1 400"/></g>
<g stroke="#B4C7E3"><circle r="265.5" pathLength="109.0909" stroke-dasharray="0 37 3 6 1 37 1 400"/><circle r="266.5" pathLength="109.0909" stroke-dasharray="0 52 1 400"/><circle r="268.5" pathLength="109.0909" stroke-dasharray="0 40 1 2 1 2 1 41 1 400"/><circle r="269.4" pathLength="109.0909" stroke-dasharray="1 1 2 2 1 1 2 6 1 6 1 4 2 6 2 7 1 400"/><circle r="270.4" pathLength="109.0909" stroke-dasharray="0 44 1 5 1 400"/><circle r="271.4" pathLength="109.0909" stroke-dasharray="0 51 1 5 1 400"/><circle r="272.4" pathLength="109.0909" stroke-dasharray="0 52 1 4 1 400"/><circle r="273.4" pathLength="109.0909" stroke-dasharray="0 22 1 18 1 400"/><circle r="274.4" pathLength="109.0909" stroke-dasharray="1 2 1 2 2 1 3 7 1 5 1 3 1 14 1 3 1 6 1 16 1 400"/><circle r="275.4" pathLength="109.0909" stroke-dasharray="0 5 1 13 2 3 1 2 2 59 1 400"/><circle r="276.4" pathLength="109.0909" stroke-dasharray="0 34 2 2 2 2 3 4 1 400"/><circle r="277.4" pathLength="109.0909" stroke-dasharray="1 24 1 2 1 1 2 2 1 4 1 7 1 400"/><circle r="279.3" pathLength="109.0909" stroke-dasharray="0 58 1 4 1 18 1 400"/><circle r="280.3" pathLength="109.0909" stroke-dasharray="0 8 1 9 1 3 1 8 1 2 1 4 1 4 1 5 1 400"/><circle r="281.3" pathLength="109.0909" stroke-dasharray="0 18 5 3 3 2 3 3 1 2 3 8 1 400"/><circle r="282.3" pathLength="109.0909" stroke-dasharray="0 1 1 2 1 4 1 5 1 2 7 6 2 1 1 9 1 400"/><circle r="283.3" pathLength="109.0909" stroke-dasharray="0 28 1 11 1 6 1 400"/><circle r="284.3" pathLength="109.0909" stroke-dasharray="1 8 1 7 6 2 2 5 1 2 1 2 1 1 1 2 1 400"/><circle r="285.3" pathLength="109.0909" stroke-dasharray="0 1 1 2 1 5 1 4 1 6 2 3 1 3 1 1 2 3 1 1 1 3 1 5 1 400"/><circle r="286.2" pathLength="109.0909" stroke-dasharray="0 6 1 4 1 6 1 2 4 4 1 2 1 1 1 2 1 2 1 3 1 4 1 12 1 400"/><circle r="287.2" pathLength="109.0909" stroke-dasharray="0 33 3 7 1 2 2 1 1 400"/><circle r="289.2" pathLength="109.0909" stroke-dasharray="0 4 3 2 1 3 1 1 3 3 2 3 1 1 2 2 4 2 1 400"/><circle r="290.2" pathLength="109.0909" stroke-dasharray="0 34 1 3 1 3 2 1 1 400"/><circle r="291.2" pathLength="109.0909" stroke-dasharray="0 44 1 2 2 1 1 400"/><circle r="292.2" pathLength="109.0909" stroke-dasharray="1 7 1 6 1 1 3 1 1 2 3 1 1 2 1 400"/><circle r="293.2" pathLength="109.0909" stroke-dasharray="1 2 1 3 2 1 1 2 2 4 6 1 1 4 3 7 1 400"/><circle r="294.1" pathLength="109.0909" stroke-dasharray="0 51 1 34 1 400"/><circle r="295.1" pathLength="109.0909" stroke-dasharray="0 17 2 4 1 1 1 2 1 2 1 5 1 11 1 400"/><circle r="296.1" pathLength="109.0909" stroke-dasharray="0 4 1 10 1 1 2 1 4 3 1 16 2 400"/><circle r="297.1" pathLength="109.0909" stroke-dasharray="0 39 1 2 1 1 1 1 1 1 1 400"/><circle r="298.1" pathLength="109.0909" stroke-dasharray="0 2 1 3 1 1 5 1 1 14 1 400"/><circle r="299.1" pathLength="109.0909" stroke-dasharray="5 1 1 3 1 5 1 1 1 2 1 7 2 13 2 2 1 4 1 400"/><circle r="300.1" pathLength="109.0909" stroke-dasharray="0 15 1 23 2 1 1 2 1 1 1 1 2 400"/><circle r="301.1" pathLength="109.0909" stroke-dasharray="2 4 1 2 1 1 2 7 2 11 1 4 1 59 1 400"/><circle r="302" pathLength="109.0909" stroke-dasharray="0 17 1 1 2 2 2 1 1 3 1 1 2 1 1 4 1 5 1 1 1 400"/><circle r="303" pathLength="109.0909" stroke-dasharray="0 30 1 9 1 1 1 1 3 2 1 400"/><circle r="304" pathLength="109.0909" stroke-dasharray="1 2 1 3 2 4 1 10 1 8 1 2 1 400"/><circle r="305" pathLength="109.0909" stroke-dasharray="0 3 1 12 3 1 2 3 2 1 1 4 1 1 1 1 1 400"/><circle r="306" pathLength="109.0909" stroke-dasharray="0 32 2 4 1 5 2 400"/><circle r="307" pathLength="109.0909" stroke-dasharray="0 27 1 5 2 3 1 2 1 1 2 400"/><circle r="308" pathLength="109.0909" stroke-dasharray="0 17 1 1 2 1 1 4 1 4 3 7 2 1 2 2 1 17 1 400"/><circle r="309" pathLength="109.0909" stroke-dasharray="0 20 1 6 3 2 1 11 1 5 1 400"/><circle r="310" pathLength="109.0909" stroke-dasharray="0 99 1 400"/><circle r="310.9" pathLength="109.0909" stroke-dasharray="0 19 4 8 1 1 1 5 1 8 1 25 1 400"/><circle r="311.9" pathLength="109.0909" stroke-dasharray="0 38 1 6 1 1 1 2 1 400"/><circle r="312.9" pathLength="109.0909" stroke-dasharray="0 42 1 2 1 2 1 400"/><circle r="313.9" pathLength="109.0909" stroke-dasharray="0 28 1 1 1 7 1 1 1 3 1 3 1 27 1 400"/></g>
<g stroke="#9BB6DA"><circle r="265.5" pathLength="109.0909" stroke-dasharray="0 28 2 14 2 400"/><circle r="266.5" pathLength="109.0909" stroke-dasharray="0 36 1 400"/><circle r="268.5" pathLength="109.0909" stroke-dasharray="0 27 1 6 1 3 1 3 1 400"/><circle r="269.4" pathLength="109.0909" stroke-dasharray="0 5 1 1 1 2 1 1 3 12 1 7 1 14 1 400"/><circle r="270.4" pathLength="109.0909" stroke-dasharray="0 27 1 2 1 8 2 4 1 400"/><circle r="273.4" pathLength="109.0909" stroke-dasharray="0 7 1 10 1 1 1 3 2 4 1 1 1 2 1 400"/><circle r="274.4" pathLength="109.0909" stroke-dasharray="0 2 1 2 1 2 1 3 1 1 1 1 1 17 2 1 1 5 1 400"/><circle r="275.4" pathLength="109.0909" stroke-dasharray="0 4 1 4 1 2 1 2 4 2 2 2 2 3 2 1 1 1 1 12 1 400"/><circle r="276.4" pathLength="109.0909" stroke-dasharray="0 29 2 1 1 4 1 2 1 9 1 400"/><circle r="277.4" pathLength="109.0909" stroke-dasharray="0 4 2 11 1 2 2 1 2 1 1 5 2 4 1 400"/><circle r="280.3" pathLength="109.0909" stroke-dasharray="1 2 1 2 1 5 1 2 3 2 2 1 4 2 1 10 1 5 1 400"/><circle r="281.3" pathLength="109.0909" stroke-dasharray="1 2 1 1 1 1 2 6 3 5 3 3 2 400"/><circle r="282.3" pathLength="109.0909" stroke-dasharray="1 1 1 2 1 1 2 5 1 1 2 7 1 7 1 1 1 14 1 400"/><circle r="283.3" pathLength="109.0909" stroke-dasharray="0 31 1 7 1 2 4 400"/><circle r="284.3" pathLength="109.0909" stroke-dasharray="0 1 1 1 1 4 1 2 3 1 2 13 1 3 1 1 1 8 1 400"/><circle r="285.3" pathLength="109.0909" stroke-dasharray="1 1 1 3 1 1 1 3 3 1 1 1 1 2 1 2 3 400"/><circle r="286.2" pathLength="109.0909" stroke-dasharray="0 4 2 1 1 1 1 4 3 2 1 5 4 4 1 400"/><circle r="287.2" pathLength="109.0909" stroke-dasharray="0 15 1 1 3 12 1 4 1 2 2 2 1 5 1 400"/><circle r="288.2" pathLength="109.0909" stroke-dasharray="0 53 1 400"/><circle r="289.2" pathLength="109.0909" stroke-dasharray="2 1 1 3 2 1 1 3 1 9 1 400"/><circle r="290.2" pathLength="109.0909" stroke-dasharray="0 15 1 4 1 6 2 1 1 6 1 3 1 400"/><circle r="291.2" pathLength="109.0909" stroke-dasharray="0 30 1 2 1 6 2 3 1 400"/><circle r="292.2" pathLength="109.0909" stroke-dasharray="0 1 4 1 1 2 3 1 1 2 1 3 1 1 2 3 1 4 1 7 1 1 1 400"/><circle r="293.2" pathLength="109.0909" stroke-dasharray="0 1 2 1 2 5 2 14 1 6 1 400"/><circle r="294.1" pathLength="109.0909" stroke-dasharray="0 70 1 400"/><circle r="295.1" pathLength="109.0909" stroke-dasharray="1 4 2 1 2 5 2 2 2 1 1 1 1 1 2 1 1 3 2 1 1 11 1 400"/><circle r="296.1" pathLength="109.0909" stroke-dasharray="1 1 1 3 2 1 1 2 1 6 1 4 1 1 1 1 1 2 2 4 1 400"/><circle r="297.1" pathLength="109.0909" stroke-dasharray="0 32 1 2 1 2 1 1 2 3 1 1 1 2 1 400"/><circle r="298.1" pathLength="109.0909" stroke-dasharray="0 5 1 29 2 400"/><circle r="299.1" pathLength="109.0909" stroke-dasharray="0 7 2 3 2 17 1 14 1 400"/><circle r="300.1" pathLength="109.0909" stroke-dasharray="0 4 1 13 1 2 1 1 1 3 2 2 1 3 1 1 1 10 1 400"/><circle r="301.1" pathLength="109.0909" stroke-dasharray="0 2 1 2 1 1 1 2 1 2 2 20 2 400"/><circle r="302" pathLength="109.0909" stroke-dasharray="0 5 1 2 1 1 1 7 1 3 1 4 1 1 1 7 1 4 1 400"/><circle r="303" pathLength="109.0909" stroke-dasharray="0 5 1 12 2 3 1 4 2 2 1 1 1 2 1 3 1 1 1 400"/><circle r="304" pathLength="109.0909" stroke-dasharray="0 28 2 7 1 400"/><circle r="305" pathLength="109.0909" stroke-dasharray="2 2 1 1 1 1 3 2 1 1 1 7 2 4 1 2 1 3 1 11 1 400"/><circle r="306" pathLength="109.0909" stroke-dasharray="0 15 1 4 1 8 2 400"/><circle r="307" pathLength="109.0909" stroke-dasharray="0 20 2 7 2 1 1 2 1 12 1 400"/><circle r="308" pathLength="109.0909" stroke-dasharray="2 11 4 4 1 1 2 3 1 400"/><circle r="309" pathLength="109.0909" stroke-dasharray="2 7 2 3 3 1 2 1 1 1 4 4 1 3 3 5 1 2 1 400"/><circle r="310" pathLength="109.0909" stroke-dasharray="0 51 1 400"/><circle r="310.9" pathLength="109.0909" stroke-dasharray="0 5 1 2 1 6 1 1 2 5 2 1 3 5 1 400"/><circle r="311.9" pathLength="109.0909" stroke-dasharray="0 17 1 4 1 10 2 2 1 2 1 400"/><circle r="312.9" pathLength="109.0909" stroke-dasharray="0 19 1 1 2 4 1 5 1 10 1 2 1 400"/><circle r="313.9" pathLength="109.0909" stroke-dasharray="0 47 1 400"/></g>
<g stroke="#80A4D1"><circle r="265.5" pathLength="109.0909" stroke-dasharray="0 32 1 1 1 5 1 400"/><circle r="268.5" pathLength="109.0909" stroke-dasharray="0 28 3 2 1 3 1 7 1 400"/><circle r="269.4" pathLength="109.0909" stroke-dasharray="0 31 1 400"/><circle r="270.4" pathLength="109.0909" stroke-dasharray="0 34 1 7 2 4 1 400"/><circle r="271.4" pathLength="109.0909" stroke-dasharray="0 36 1 400"/><circle r="273.4" pathLength="109.0909" stroke-dasharray="2 1 2 1 1 1 1 6 1 1 1 1 1 1 1 4 2 3 1 1 1 2 1 11 1 1 1 400"/><circle r="274.4" pathLength="109.0909" stroke-dasharray="0 31 1 400"/><circle r="275.4" pathLength="109.0909" stroke-dasharray="0 1 1 4 3 1 2 1 1 15 1 6 1 400"/><circle r="276.4" pathLength="109.0909" stroke-dasharray="1 14 6 1 1 8 1 1 1 400"/><circle r="277.4" pathLength="109.0909" stroke-dasharray="0 1 1 1 1 2 4 3 3 3 1 2 1 4 1 1 1 6 1 400"/><circle r="278.3" pathLength="109.0909" stroke-dasharray="0 52 1 400"/><circle r="280.3" pathLength="109.0909" stroke-dasharray="0 2 1 2 1 1 1 1 1 1 1 7 1 12 1 2 1 400"/><circle r="281.3" pathLength="109.0909" stroke-dasharray="0 1 2 1 1 1 1 2 6 400"/><circle r="282.3" pathLength="109.0909" stroke-dasharray="0 11 3 22 2 400"/><circle r="283.3" pathLength="109.0909" stroke-dasharray="0 17 1 1 1 2 1 2 2 5 2 7 1 400"/><circle r="284.3" pathLength="109.0909" stroke-dasharray="0 2 1 1 4 2 1 3 1 9 1 2 1 400"/><circle r="285.3" pathLength="109.0909" stroke-dasharray="0 3 1 1 1 1 1 3 1 17 2 1 1 2 1 1 1 400"/><circle r="286.2" pathLength="109.0909" stroke-dasharray="2 6 1 3 2 21 2 400"/><circle r="287.2" pathLength="109.0909" stroke-dasharray="1 2 3 1 3 1 1 2 1 1 1 3 3 1 3 1 1 13 1 5 1 400"/><circle r="288.2" pathLength="109.0909" stroke-dasharray="0 51 1 400"/><circle r="289.2" pathLength="109.0909" stroke-dasharray="0 11 2 400"/><circle r="290.2" pathLength="109.0909" stroke-dasharray="0 1 1 2 1 9 1 2 2 4 2 6 1 3 2 400"/><circle r="291.2" pathLength="109.0909" stroke-dasharray="0 19 1 7 1 1 1 1 1 2 1 3 1 400"/><circle r="292.2" pathLength="109.0909" stroke-dasharray="0 7 1 4 1 1 1 14 2 400"/><circle r="293.2" pathLength="109.0909" stroke-dasharray="0 36 1 400"/><circle r="295.1" pathLength="109.0909" stroke-dasharray="0 1 1 1 2 5 3 1 1 6 1 400"/><circle r="296.1" pathLength="109.0909" stroke-dasharray="0 1 1 1 1 4 1 1 2 1 1 2 1 8 1 9 2 1 1 11 1 400"/><circle r="297.1" pathLength="109.0909" stroke-dasharray="0 23 1 4 1 400"/><circle r="299.1" pathLength="109.0909" stroke-dasharray="0 36 1 13 1 400"/><circle r="300.1" pathLength="109.0909" stroke-dasharray="3 3 1 4 1 2 1 2 1 1 2 3 3 2 2 1 1 1 1 400"/><circle r="301.1" pathLength="109.0909" stroke-dasharray="0 29 1 400"/><circle r="302" pathLength="109.0909" stroke-dasharray="1 2 2 1 2 1 1 2 3 1 1 14 1 2 1 15 1 400"/><circle r="303" pathLength="109.0909" stroke-dasharray="0 2 1 1 1 4 1 2 2 1 1 4 3 2 1 1 1 3 1 3 2 1 1 11 1 400"/><circle r="305" pathLength="109.0909" stroke-dasharray="0 2 1 2 1 1 1 3 2 1 1 400"/><circle r="306" pathLength="109.0909" stroke-dasharray="1 13 1 1 4 2 4 2 1 2 1 2 2 13 1 400"/><circle r="307" pathLength="109.0909" stroke-dasharray="1 4 1 2 1 3 1 1 2 1 2 3 1 1 1 1 1 4 1 4 1 9 1 400"/><circle r="308" pathLength="109.0909" stroke-dasharray="0 3 3 1 4 1 1 12 1 3 3 3 1 1 1 400"/><circle r="309" pathLength="109.0909" stroke-dasharray="0 3 1 1 4 3 1 4 1 4 1 7 1 3 1 400"/><circle r="310.9" pathLength="109.0909" stroke-dasharray="1 2 2 1 2 1 2 15 1 9 1 400"/><circle r="311.9" pathLength="109.0909" stroke-dasharray="0 3 1 11 1 2 4 2 1 1 1 2 1 2 1 3 1 7 1 3 1 400"/><circle r="312.9" pathLength="109.0909" stroke-dasharray="0 4 1 3 1 5 1 5 1 3 2 2 2 2 1 1 2 2 1 400"/><circle r="313.9" pathLength="109.0909" stroke-dasharray="0 8 1 6 1 3 1 1 1 2 1 2 1 3 1 5 1 5 1 400"/></g>
<g stroke="#6493C8"><circle r="265.5" pathLength="109.0909" stroke-dasharray="0 15 1 2 4 2 3 4 1 1 1 1 1 5 1 400"/><circle r="268.5" pathLength="109.0909" stroke-dasharray="0 17 1 13 1 9 1 5 1 400"/><circle r="270.4" pathLength="109.0909" stroke-dasharray="0 28 1 3 2 4 1 7 2 400"/><circle r="273.4" pathLength="109.0909" stroke-dasharray="0 5 1 3 3 2 1 1 1 12 1 7 1 400"/><circle r="276.4" pathLength="109.0909" stroke-dasharray="0 3 1 4 1 1 1 3 1 6 1 2 1 2 2 12 1 400"/><circle r="277.4" pathLength="109.0909" stroke-dasharray="0 10 1 1 1 400"/><circle r="280.3" pathLength="109.0909" stroke-dasharray="0 1 1 11 2 12 1 8 1 11 1 400"/><circle r="281.3" pathLength="109.0909" stroke-dasharray="0 35 2 400"/><circle r="282.3" pathLength="109.0909" stroke-dasharray="0 6 1 400"/><circle r="283.3" pathLength="109.0909" stroke-dasharray="0 1 1 3 1 2 1 6 1 4 2 1 2 4 2 3 2 1 1 400"/><circle r="285.3" pathLength="109.0909" stroke-dasharray="0 36 1 400"/><circle r="286.2" pathLength="109.0909" stroke-dasharray="0 3 1 400"/><circle r="287.2" pathLength="109.0909" stroke-dasharray="0 1 1 4 1 3 1 1 2 400"/><circle r="290.2" pathLength="109.0909" stroke-dasharray="1 1 2 1 1 1 2 2 3 2 1 2 1 1 1 3 2 22 1 400"/><circle r="291.2" pathLength="109.0909" stroke-dasharray="3 3 1 3 2 4 1 4 3 1 2 10 1 400"/><circle r="292.2" pathLength="109.0909" stroke-dasharray="0 36 1 400"/><circle r="294.1" pathLength="109.0909" stroke-dasharray="0 52 1 400"/><circle r="295.1" pathLength="109.0909" stroke-dasharray="0 2 1 27 1 400"/><circle r="296.1" pathLength="109.0909" stroke-dasharray="0 5 1 400"/><circle r="297.1" pathLength="109.0909" stroke-dasharray="0 17 1 1 2 3 4 2 1 2 2 2 1 5 1 400"/><circle r="300.1" pathLength="109.0909" stroke-dasharray="0 3 1 1 1 1 4 1 2 2 1 16 1 2 1 400"/><circle r="302" pathLength="109.0909" stroke-dasharray="0 1 1 34 1 400"/><circle r="303" pathLength="109.0909" stroke-dasharray="1 5 1 1 1 2 1 2 1 1 2 6 1 1 1 6 1 400"/><circle r="305" pathLength="109.0909" stroke-dasharray="0 27 1 400"/><circle r="306" pathLength="109.0909" stroke-dasharray="0 1 1 1 1 2 1 1 1 1 3 13 2 20 1 400"/><circle r="307" pathLength="109.0909" stroke-dasharray="0 1 4 1 2 1 2 2 1 2 1 2 1 17 1 400"/><circle r="308" pathLength="109.0909" stroke-dasharray="0 2 1 3 1 4 1 24 1 400"/><circle r="309" pathLength="109.0909" stroke-dasharray="0 33 1 400"/><circle r="310.9" pathLength="109.0909" stroke-dasharray="0 2 1 8 3 23 1 400"/><circle r="311.9" pathLength="109.0909" stroke-dasharray="0 1 1 4 2 1 1 1 4 10 1 400"/><circle r="312.9" pathLength="109.0909" stroke-dasharray="0 1 1 1 1 1 2 2 2 5 3 12 1 5 1 8 1 400"/><circle r="313.9" pathLength="109.0909" stroke-dasharray="0 1 1 2 1 5 1 3 1 1 3 1 1 1 2 2 1 6 2 1 1 4 1 4 1 2 1 400"/></g>
<g stroke="#4282BE"><circle r="265.5" pathLength="109.0909" stroke-dasharray="3 1 2 2 1 2 1 1 1 2 1 5 2 3 1 400"/><circle r="268.5" pathLength="109.0909" stroke-dasharray="1 15 1 1 1 3 1 1 1 7 1 2 1 8 1 4 1 400"/><circle r="270.4" pathLength="109.0909" stroke-dasharray="0 18 2 2 1 1 1 1 1 4 1 3 1 1 1 400"/><circle r="273.4" pathLength="109.0909" stroke-dasharray="0 12 1 400"/><circle r="276.4" pathLength="109.0909" stroke-dasharray="0 2 1 1 1 1 2 1 1 1 2 23 1 400"/><circle r="283.3" pathLength="109.0909" stroke-dasharray="0 3 1 3 1 1 6 1 1 10 1 8 1 400"/><circle r="284.3" pathLength="109.0909" stroke-dasharray="0 29 1 400"/><circle r="287.2" pathLength="109.0909" stroke-dasharray="0 2 1 24 1 1 1 6 1 400"/><circle r="290.2" pathLength="109.0909" stroke-dasharray="0 6 1 2 2 18 1 400"/><circle r="291.2" pathLength="109.0909" stroke-dasharray="0 3 3 2 2 2 3 2 2 1 1 3 1 400"/><circle r="294.1" pathLength="109.0909" stroke-dasharray="0 53 1 400"/><circle r="295.1" pathLength="109.0909" stroke-dasharray="0 7 1 400"/><circle r="296.1" pathLength="109.0909" stroke-dasharray="0 29 1 400"/><circle r="297.1" pathLength="109.0909" stroke-dasharray="1 2 2 4 1 1 2 1 3 1 1 3 1 6 1 400"/><circle r="303" pathLength="109.0909" stroke-dasharray="0 3 1 3 1 2 1 400"/><circle r="306" pathLength="109.0909" stroke-dasharray="0 2 1 1 1 8 1 22 1 400"/><circle r="309" pathLength="109.0909" stroke-dasharray="0 2 1 8 1 400"/><circle r="310.9" pathLength="109.0909" stroke-dasharray="0 1 1 400"/><circle r="311.9" pathLength="109.0909" stroke-dasharray="0 2 1 1 2 2 1 1 1 12 1 3 1 400"/><circle r="312.9" pathLength="109.0909" stroke-dasharray="1 1 1 4 1 4 2 12 1 9 1 400"/><circle r="313.9" pathLength="109.0909" stroke-dasharray="1 1 2 1 3 3 3 11 1 3 1 5 1 400"/></g>
<g stroke="#0072B5"><circle r="265.5" pathLength="109.0909" stroke-dasharray="0 3 1 2 2 1 2 1 1 1 1 15 1 5 1 400"/><circle r="268.5" pathLength="109.0909" stroke-dasharray="0 1 15 4 2 1 1 1 2 9 1 11 1 400"/><circle r="270.4" pathLength="109.0909" stroke-dasharray="9 1 8 2 2 1 1 1 1 10 1 400"/><circle r="283.3" pathLength="109.0909" stroke-dasharray="0 2 1 1 1 45 1 400"/><circle r="291.2" pathLength="109.0909" stroke-dasharray="0 7 1 27 1 400"/><circle r="297.1" pathLength="109.0909" stroke-dasharray="0 1 2 3 3 1 1 2 1 17 1 4 1 400"/><circle r="313.9" pathLength="109.0909" stroke-dasharray="0 50 1 400"/></g>
</g>
<g font-family="Liberation Serif, Times New Roman, serif" font-size="22.6" style="font-family:Liberation Serif, Times New Roman, serif"><text x="1787.9" y="512.9" dy="7.7" transform="rotate(1.6 1787.9 512.9)">LMOD1</text><text x="1786.7" y="535" dy="7.7" transform="rotate(4.9 1786.7 535)">MYH11</text><text x="1784.1" y="557" dy="7.7" transform="rotate(8.2 1784.1 557)">SYNPO2</text><text x="1780.3" y="578.8" dy="7.7" transform="rotate(11.5 1780.3 578.8)">HSPB7</text><text x="1775.2" y="600.4" dy="7.7" transform="rotate(14.8 1775.2 600.4)">CNN1</text><text x="1769" y="621.7" dy="7.7" transform="rotate(18.1 1769 621.7)">ACTG2</text><text x="1761.4" y="642.5" dy="7.7" transform="rotate(21.4 1761.4 642.5)">DES</text><text x="1752.8" y="662.9" dy="7.7" transform="rotate(24.8 1752.8 662.9)">PGM5</text><text x="1742.9" y="682.7" dy="7.7" transform="rotate(28 1742.9 682.7)">SYNM</text><text x="1731.9" y="702" dy="7.7" transform="rotate(31.3 1731.9 702)">TACR2</text><text x="1719.9" y="720.6" dy="7.7" transform="rotate(34.6 1719.9 720.6)">ECRG4</text><text x="1706.7" y="738.4" dy="7.7" transform="rotate(37.9 1706.7 738.4)">CASQ2</text><text x="1692.6" y="755.5" dy="7.7" transform="rotate(41.2 1692.6 755.5)">FHL1</text><text x="1677.5" y="771.7" dy="7.7" transform="rotate(44.5 1677.5 771.7)">PLN</text><text x="1661.5" y="787.1" dy="7.7" transform="rotate(47.8 1661.5 787.1)">HSPB6</text><text x="1644.7" y="801.5" dy="7.7" transform="rotate(51.1 1644.7 801.5)">RGMA</text><text x="1627" y="814.9" dy="7.7" transform="rotate(54.4 1627 814.9)">HSPB8</text><text x="1608.6" y="827.2" dy="7.7" transform="rotate(57.8 1608.6 827.2)">OGN</text><text x="1589.6" y="838.5" dy="7.7" transform="rotate(61 1589.6 838.5)">SFRP1</text><text x="1569.9" y="848.7" dy="7.7" transform="rotate(64.3 1569.9 848.7)">C7</text><text x="1549.6" y="857.7" dy="7.7" transform="rotate(67.6 1549.6 857.7)">THBS4</text><text x="1528.9" y="865.5" dy="7.7" transform="rotate(71 1528.9 865.5)">MGP</text><text x="1507.8" y="872.2" dy="7.7" transform="rotate(74.2 1507.8 872.2)">PRELP</text><text x="1486.3" y="877.6" dy="7.7" transform="rotate(77.5 1486.3 877.6)">ACKR1</text><text x="1464.5" y="881.7" dy="7.7" transform="rotate(80.8 1464.5 881.7)">CHRDL2</text><text x="1442.5" y="884.6" dy="7.7" transform="rotate(84.1 1442.5 884.6)">ADH1B</text><text x="1420.4" y="886.2" dy="7.7" transform="rotate(87.4 1420.4 886.2)">CHRDL1</text><text x="1398.3" y="886.6" dy="7.7" text-anchor="end" transform="rotate(270.8 1398.3 886.6)">ABI3BP</text><text x="1376.1" y="885.6" dy="7.7" text-anchor="end" transform="rotate(274.1 1376.1 885.6)">CCL19</text><text x="1354.1" y="883.4" dy="7.7" text-anchor="end" transform="rotate(277.4 1354.1 883.4)">GFRA1</text><text x="1332.2" y="880" dy="7.7" text-anchor="end" transform="rotate(280.6 1332.2 880)">GREM2</text><text x="1310.5" y="875.3" dy="7.7" text-anchor="end" transform="rotate(283.9 1310.5 875.3)">MFAP4</text><text x="1289.2" y="869.3" dy="7.7" text-anchor="end" transform="rotate(287.2 1289.2 869.3)">APOD</text><text x="1268.2" y="862.1" dy="7.7" text-anchor="end" transform="rotate(290.6 1268.2 862.1)">CLU</text><text x="1247.7" y="853.7" dy="7.7" text-anchor="end" transform="rotate(293.9 1247.7 853.7)">VPREB3</text><text x="1227.7" y="844.2" dy="7.7" text-anchor="end" transform="rotate(297.1 1227.7 844.2)">MS4A1</text><text x="1208.3" y="833.5" dy="7.7" text-anchor="end" transform="rotate(300.4 1208.3 833.5)">FDCSP</text><text x="1189.5" y="821.7" dy="7.7" text-anchor="end" transform="rotate(303.8 1189.5 821.7)">MAL</text><text x="1171.5" y="808.9" dy="7.7" text-anchor="end" transform="rotate(307.1 1171.5 808.9)">LTF</text><text x="1154.2" y="795.1" dy="7.7" text-anchor="end" transform="rotate(310.4 1154.2 795.1)">CD79A</text><text x="1137.7" y="780.2" dy="7.7" text-anchor="end" transform="rotate(313.6 1137.7 780.2)">JCHAIN</text><text x="1122.1" y="764.5" dy="7.7" text-anchor="end" transform="rotate(316.9 1122.1 764.5)">TPSB2</text><text x="1107.4" y="747.9" dy="7.7" text-anchor="end" transform="rotate(320.2 1107.4 747.9)">CCL21</text><text x="1093.8" y="730.4" dy="7.7" text-anchor="end" transform="rotate(323.5 1093.8 730.4)">CTSE</text><text x="1081.1" y="712.2" dy="7.7" text-anchor="end" transform="rotate(326.9 1081.1 712.2)">CLDN18</text><text x="1069.6" y="693.3" dy="7.7" text-anchor="end" transform="rotate(330.1 1069.6 693.3)">ADH1C</text><text x="1059.1" y="673.8" dy="7.7" text-anchor="end" transform="rotate(333.4 1059.1 673.8)">CXCL17</text><text x="1049.7" y="653.7" dy="7.7" text-anchor="end" transform="rotate(336.8 1049.7 653.7)">MSMB</text><text x="1041.6" y="633.1" dy="7.7" text-anchor="end" transform="rotate(340 1041.6 633.1)">ADRA2A</text><text x="1034.6" y="612.1" dy="7.7" text-anchor="end" transform="rotate(343.4 1034.6 612.1)">GABRP</text><text x="1028.9" y="590.6" dy="7.7" text-anchor="end" transform="rotate(346.6 1028.9 590.6)">PRAME</text><text x="1024.4" y="569" dy="7.7" text-anchor="end" transform="rotate(349.9 1024.4 569)">MAGEA12</text><text x="1021.2" y="547" dy="7.7" text-anchor="end" transform="rotate(353.2 1021.2 547)">MAGEA6</text><text x="1019.2" y="525" dy="7.7" text-anchor="end" transform="rotate(356.5 1019.2 525)">MAGEA3</text><text x="1018.5" y="502.8" dy="7.7" text-anchor="end" transform="rotate(359.9 1018.5 502.8)">CLDN3</text><text x="1019.1" y="480.7" dy="7.7" text-anchor="end" transform="rotate(363.1 1019.1 480.7)">TRIB3</text><text x="1020.9" y="458.6" dy="7.7" text-anchor="end" transform="rotate(366.4 1020.9 458.6)">NOTUM</text><text x="1024.1" y="436.6" dy="7.7" text-anchor="end" transform="rotate(369.8 1024.1 436.6)">BAMBI</text><text x="1028.4" y="414.9" dy="7.7" text-anchor="end" transform="rotate(373 1028.4 414.9)">GGH</text><text x="1034.1" y="393.5" dy="7.7" text-anchor="end" transform="rotate(376.4 1034.1 393.5)">NXPH4</text><text x="1040.9" y="372.4" dy="7.7" text-anchor="end" transform="rotate(379.6 1040.9 372.4)">PCSK9</text><text x="1049" y="351.8" dy="7.7" text-anchor="end" transform="rotate(382.9 1049 351.8)">SCD</text><text x="1058.2" y="331.6" dy="7.7" text-anchor="end" transform="rotate(386.2 1058.2 331.6)">PODXL2</text><text x="1068.6" y="312" dy="7.7" text-anchor="end" transform="rotate(389.5 1068.6 312)">CCNE1</text><text x="1080" y="293.1" dy="7.7" text-anchor="end" transform="rotate(392.9 1080 293.1)">CDC6</text><text x="1092.6" y="274.8" dy="7.7" text-anchor="end" transform="rotate(396.1 1092.6 274.8)">TOP2A</text><text x="1106.2" y="257.3" dy="7.7" text-anchor="end" transform="rotate(399.4 1106.2 257.3)">RECQL4</text><text x="1120.7" y="240.6" dy="7.7" text-anchor="end" transform="rotate(402.8 1120.7 240.6)">TRIP13</text><text x="1136.2" y="224.8" dy="7.7" text-anchor="end" transform="rotate(406 1136.2 224.8)">AURKA</text><text x="1152.6" y="209.9" dy="7.7" text-anchor="end" transform="rotate(409.4 1152.6 209.9)">UBE2C</text><text x="1169.8" y="195.9" dy="7.7" text-anchor="end" transform="rotate(412.6 1169.8 195.9)">MYBL2</text><text x="1187.8" y="183" dy="7.7" text-anchor="end" transform="rotate(415.9 1187.8 183)">PBK</text><text x="1206.6" y="171.1" dy="7.7" text-anchor="end" transform="rotate(419.2 1206.6 171.1)">ANLN</text><text x="1225.9" y="160.3" dy="7.7" text-anchor="end" transform="rotate(422.5 1225.9 160.3)">MKI67</text><text x="1245.9" y="150.7" dy="7.7" text-anchor="end" transform="rotate(425.9 1245.9 150.7)">CENPF</text><text x="1266.3" y="142.2" dy="7.7" text-anchor="end" transform="rotate(429.1 1266.3 142.2)">DEPDC1</text><text x="1287.3" y="134.9" dy="7.7" text-anchor="end" transform="rotate(432.4 1287.3 134.9)">TTK</text><text x="1308.6" y="128.8" dy="7.7" text-anchor="end" transform="rotate(435.8 1308.6 128.8)">SKA3</text><text x="1330.2" y="124" dy="7.7" text-anchor="end" transform="rotate(439.1 1330.2 124)">MELK</text><text x="1352.1" y="120.4" dy="7.7" text-anchor="end" transform="rotate(442.3 1352.1 120.4)">NCAPG</text><text x="1374.1" y="118.1" dy="7.7" text-anchor="end" transform="rotate(445.6 1374.1 118.1)">CCNA2</text><text x="1396.2" y="117.1" dy="7.7" text-anchor="end" transform="rotate(448.9 1396.2 117.1)">MAD2L1</text><text x="1418.4" y="117.3" dy="7.7" transform="rotate(272.2 1418.4 117.3)">FOXM1</text><text x="1440.5" y="118.8" dy="7.7" transform="rotate(275.6 1440.5 118.8)">CDC45</text><text x="1462.5" y="121.6" dy="7.7" transform="rotate(278.8 1462.5 121.6)">CDC20</text><text x="1484.3" y="125.6" dy="7.7" transform="rotate(282.1 1484.3 125.6)">BIRC5</text><text x="1505.8" y="130.9" dy="7.7" transform="rotate(285.4 1505.8 130.9)">CDCA5</text><text x="1527" y="137.4" dy="7.7" transform="rotate(288.8 1527 137.4)">MCM10</text><text x="1547.8" y="145.1" dy="7.7" transform="rotate(292.1 1547.8 145.1)">KIF23</text><text x="1568.1" y="154.1" dy="7.7" transform="rotate(295.3 1568.1 154.1)">BUB1B</text><text x="1587.8" y="164.1" dy="7.7" transform="rotate(298.6 1587.8 164.1)">KIF18B</text><text x="1606.9" y="175.3" dy="7.7" transform="rotate(301.9 1606.9 175.3)">SPAG5</text><text x="1625.4" y="187.6" dy="7.7" transform="rotate(305.2 1625.4 187.6)">GTSE1</text><text x="1643.1" y="200.9" dy="7.7" transform="rotate(308.6 1643.1 200.9)">KIF4A</text><text x="1660" y="215.2" dy="7.7" transform="rotate(311.8 1660 215.2)">KIF20A</text><text x="1676.1" y="230.4" dy="7.7" transform="rotate(315.1 1676.1 230.4)">NEK2</text><text x="1691.3" y="246.6" dy="7.7" transform="rotate(318.4 1691.3 246.6)">HJURP</text><text x="1705.5" y="263.6" dy="7.7" transform="rotate(321.8 1705.5 263.6)">TPX2</text><text x="1718.7" y="281.4" dy="7.7" transform="rotate(325 1718.7 281.4)">KIF2C</text><text x="1730.9" y="299.9" dy="7.7" transform="rotate(328.3 1730.9 299.9)">BUB1</text></g>
<path d="M1659.4 509.2L1649.9 508.9A246.7 246.7 0 0 1 1649.1 523.1L1658.5 523.9M1656.8 538.6L1646.5 537.1A245.8 245.8 0 0 1 1644.1 551L1654.3 553.1M1649.6 516L1646.4 515.8A243.5 243.5 0 0 1 1643.1 543.7L1645.4 544.1M1650.9 567.5L1640.3 564.6A245.2 245.2 0 0 1 1636.3 578.2L1646.8 581.6M1645.2 529.8L1643.7 529.6A242 242 0 0 1 1635.3 570.5L1638.4 571.4M1641.8 595.5L1630.5 591A244.1 244.1 0 0 1 1624.9 604L1636 609.1M1640.4 550.2L1638.9 549.9A240.5 240.5 0 0 1 1624.5 596.1L1627.8 597.6M1629.4 622.3L1618.1 616.2A243.3 243.3 0 0 1 1611.1 628.4L1622.1 635.1M1632.9 573.4L1631.4 573A239 239 0 0 1 1610.9 620.2L1614.7 622.4M1614.1 647.5L1602.2 639.2A241.7 241.7 0 0 1 1593.9 650.5L1605.3 659.4M1622.4 597.1L1621.1 596.5A237.5 237.5 0 0 1 1594.7 642.4L1598.1 644.9M1595.9 670.7L1584.1 660.3A240.4 240.4 0 0 1 1574.6 670.5L1585.9 681.5M1609.1 620.2L1607.8 619.4A236 236 0 0 1 1576.2 662.4L1579.4 665.5M1575.2 691.7L1564.4 679.8A240.1 240.1 0 0 1 1553.9 688.8L1564 701.3M1593.2 641.8L1592 640.9A234.5 234.5 0 0 1 1555.6 680.1L1559.2 684.3M1552.3 710.2L1542 695.8A238.5 238.5 0 0 1 1530.6 703.5L1540 718.5M1574.9 661.6L1573.8 660.5A233 233 0 0 1 1533.2 695.2L1536.3 699.7M1527.3 726L1518.4 709.8A237.7 237.7 0 0 1 1506.2 716.1L1514.2 732.8M1554.5 679L1553.5 677.9A231.5 231.5 0 0 1 1509.5 707.5L1512.3 713M1500.7 738.8L1493.4 721A237 237 0 0 1 1480.6 725.8L1486.9 744M1532.4 694L1531.5 692.7A230 230 0 0 1 1484.6 716.9L1487.1 723.5M1508.8 706.2L1508.1 704.8A228.5 228.5 0 0 1 1465.3 721.7L1472.8 748.4M1487.1 714.3L1486.6 712.9A227 227 0 0 1 1452.2 723.4L1458.5 752M1469.6 718.9L1469.2 717.4A225.5 225.5 0 0 1 1439.2 724.4L1444 754.7M1454.3 721.4L1453.9 720A224 224 0 0 1 1426.1 724.6L1429.4 756.7M1440.1 722.7L1439.9 721.2A222.5 222.5 0 0 1 1413.2 724L1414.7 757.7M1399.9 758L1400.2 735.9A234.1 234.1 0 0 1 1386.8 735.3L1385.2 757.4M1393.5 735.7L1393.8 728.7A227.1 227.1 0 0 1 1374.2 727L1370.5 755.9M1327.3 746.5L1334.1 724.7A233.4 233.4 0 0 1 1321.4 720.3L1313.4 741.7M1341.5 750.4L1347.4 726.8A231.9 231.9 0 0 1 1328.2 721.2L1327.7 722.6M1356 753.6L1363.1 715.8A217.7 217.7 0 0 1 1341.7 710.6L1337.7 724.2M1384 728.1L1385 716.7A215.7 215.7 0 0 1 1352.8 711.5L1352.3 713.5M1426.6 723L1425.7 714.4A213.8 213.8 0 0 1 1369.1 712.9L1368.8 714.7M1286.4 729.8L1297.4 708.3A232.1 232.1 0 0 1 1285.7 701.9L1273.5 722.7M1299.7 736.1L1310.1 712.7A230.6 230.6 0 0 1 1292.2 703.9L1291.5 705.2M1397.3 715.5L1397.5 710.4A208.6 208.6 0 0 1 1310.8 688.8L1301 708.5M1261 714.8L1272.7 697.2A235 235 0 0 1 1261.7 689.4L1248.9 706.3M1237.4 697.1L1253 678.7A232.2 232.2 0 0 1 1243 669.8L1226.5 687.2M1267.2 693.4L1276.7 679.9A218.5 218.5 0 0 1 1257.1 664.2L1247.9 674.3M1206.3 665.6L1222.5 652.1A235.1 235.1 0 0 1 1214.2 641.5L1197.2 654M1216.1 676.7L1234.7 659.3A230.7 230.7 0 0 1 1221.7 644.2L1218.3 646.9M1188.8 641.9L1210 628.1A230.9 230.9 0 0 1 1203 616.7L1181.1 629.3M1228 651.9L1238.6 642.8A216.8 216.8 0 0 1 1218.4 615.1L1206.4 622.4M1266.7 672.4L1272.5 665.1A209.2 209.2 0 0 1 1234.1 624.9L1227.9 629.4M1353 704.3L1353.3 702.8A207.1 207.1 0 0 1 1253.5 644.8L1252 646.3M1167.9 602.9L1186 595.2A236.5 236.5 0 0 1 1181 582.5L1162.5 589.2M1174.1 616.3L1193.1 606.8A235 235 0 0 1 1184.8 588.3L1183.4 588.9M1157.8 575.2L1176 569.8A237.2 237.2 0 0 1 1172.5 556.6L1154 561M1188.7 597.7L1206.2 589.9A215.9 215.9 0 0 1 1194.7 557.7L1174.1 563.2M1151 546.5L1171 543A235.9 235.9 0 0 1 1169.1 529.5L1148.9 531.9M1170 536.3L1187.7 533.6A217.9 217.9 0 0 1 1185.8 514.9L1147.6 517.2M1199.8 574L1205.7 571.9A209.7 209.7 0 0 1 1194.8 523.4L1186.5 524.3M1299.3 680.9L1300 679.6A205.6 205.6 0 0 1 1202.7 547.1L1198.8 548M1147.5 487.7L1169.6 488.9A234 234 0 0 1 1170.8 475.5L1148.7 473M1147.1 502.5L1172.3 502.4A231 231 0 0 1 1173.2 482.5L1170.1 482.2M1150.8 458.4L1190 465.1A216.5 216.5 0 0 1 1192.4 452.9L1153.7 443.9M1172.5 492.4L1188.6 493.1A214.9 214.9 0 0 1 1192.7 459.3L1191.1 459M1157.5 429.7L1178.3 435.8A234.4 234.4 0 0 1 1182.5 423L1162 415.6M1167.4 401.9L1187.5 410.4A234.3 234.3 0 0 1 1193.2 398.2L1173.5 388.5M1180.3 429.4L1183.2 430.3A231.5 231.5 0 0 1 1192.8 405.4L1190.3 404.3M1190 476.1L1191.5 476.3A213.4 213.4 0 0 1 1204.5 424.3L1187.6 417.7M1196.4 350.7L1216.5 365.3A231.4 231.4 0 0 1 1224.6 354.8L1205.5 339M1225.5 317.3L1240.7 333.2A234.2 234.2 0 0 1 1250.7 324.1L1236.4 307.4M1215.2 327.9L1232.4 343.8A232.7 232.7 0 0 1 1246.7 329.7L1245.7 328.6M1247.9 298.1L1260.9 315.2A234.7 234.7 0 0 1 1271.9 307.3L1259.8 289.5M1239.4 336.6L1240.4 337.7A231.2 231.2 0 0 1 1268.4 314L1266.3 311.2M1220.5 360L1221.8 361A229.7 229.7 0 0 1 1254.9 326.4L1253.9 325.3M1188.1 362.8L1211.6 378A228.2 228.2 0 0 1 1238.5 343.9L1237.4 342.8M1298.5 268L1306.9 286.8A235.6 235.6 0 0 1 1319.4 281.6L1312.1 262.4M1285.2 274.4L1295.4 294A234.1 234.1 0 0 1 1313.7 285.5L1313.1 284.1M1304.4 289.6L1305.1 290.9A232.6 232.6 0 0 1 1333.2 280L1326 257.5M1354.6 250.3L1358.8 271.6A234.5 234.5 0 0 1 1372.1 269.4L1369.2 247.9M1340.2 253.5L1345.9 276A233 233 0 0 1 1365.6 271.9L1365.4 270.4M1318.9 285L1319.5 286.4A231.1 231.1 0 0 1 1356.1 275.5L1355.8 273.7M1272.3 281.6L1285.9 304.5A229.6 229.6 0 0 1 1338 281.7L1337.6 280.2M1398.6 245.6L1399 264.6A237.3 237.3 0 0 1 1412.6 264.7L1413.4 245.8M1405.8 264.6L1405.8 266.1A235.7 235.7 0 0 1 1426.1 267.2L1428.1 246.8M1442.7 248.7L1439.9 266.7A237.9 237.9 0 0 1 1453.4 269.2L1457.2 251.3M1471.6 254.9L1466.8 272A238.4 238.4 0 0 1 1479.9 276L1485.7 259.2M1473.4 273.9L1472.9 275.5A236.8 236.8 0 0 1 1492.2 282.4L1499.5 264.3M1446.7 267.8L1446.2 270.5A235.3 235.3 0 0 1 1482.1 280.1L1482.6 278.7M1415.9 266.4L1415.8 268.4A233.8 233.8 0 0 1 1464 276L1464.3 274.6M1383.9 246.3L1385.7 270.2A232.3 232.3 0 0 1 1439.9 272.4L1440.1 270.9M1538.9 284.4L1530.1 298.5A239.6 239.6 0 0 1 1541.6 306.2L1551.2 292.6M1526.1 277L1517.4 292.9A238.1 238.1 0 0 1 1535.1 303.5L1535.9 302.3M1513 270.3L1504.6 288A236.6 236.6 0 0 1 1525.6 299.3L1526.4 298M1613.3 355L1601 363.6A241.2 241.2 0 0 1 1608.6 375.2L1621.4 367.4M1604.5 343.2L1591 353.8A239 239 0 0 1 1603.1 370.6L1604.9 369.4M1595 331.9L1581.1 344.2A237.5 237.5 0 0 1 1596 362.9L1597.2 362.1M1584.9 321.1L1570.6 335.3A236 236 0 0 1 1587.6 354.3L1588.8 353.4M1574.2 311L1559.8 327.1A234.5 234.5 0 0 1 1578.3 345.6L1579.4 344.6M1563 301.4L1548.5 319.5A233 233 0 0 1 1568.2 337.1L1569.3 336.1M1515.2 293.4L1512.8 297.8A231.5 231.5 0 0 1 1557.6 329.2L1558.6 328.1M1412.8 269.7L1412.7 272A230 230 0 0 1 1535.3 313.4L1536.2 312.2M1311.2 291.4L1311.8 292.8A228.1 228.1 0 0 1 1476.4 285.7L1477 283.9M1224.2 360.3L1225.5 361.3A226.6 226.6 0 0 1 1393.5 275.4L1393.5 273.9M1180.4 375.4L1220.9 398.4A209.7 209.7 0 0 1 1307.9 315.1L1300.1 300M1196.3 449.9L1201.4 451.2A208.2 208.2 0 0 1 1259.3 351.5L1258.3 350.4M1237.6 623.5L1238.8 622.6A204.1 204.1 0 0 1 1226.8 399.2L1223.3 397.2" fill="none" stroke="#000" stroke-width="1.5" stroke-linejoin="miter"/>
<linearGradient id="gExp" x1="0" x2="1" y1="0" y2="0"><stop offset="3%" stop-color="#BC3C29"/><stop offset="8.9%" stop-color="#C95741"/><stop offset="14.8%" stop-color="#D46F5A"/><stop offset="20.6%" stop-color="#DF8774"/><stop offset="26.5%" stop-color="#E89F8E"/><stop offset="32.4%" stop-color="#F0B7A9"/><stop offset="38.2%" stop-color="#F7CFC5"/><stop offset="44.1%" stop-color="#FCE7E2"/><stop offset="50%" stop-color="#FFFFFF"/><stop offset="55.9%" stop-color="#E6ECF6"/><stop offset="61.7%" stop-color="#CDDAED"/><stop offset="67.6%" stop-color="#B4C7E3"/><stop offset="73.5%" stop-color="#9BB6DA"/><stop offset="79.4%" stop-color="#80A4D1"/><stop offset="85.2%" stop-color="#6493C8"/><stop offset="91.1%" stop-color="#4282BE"/><stop offset="97%" stop-color="#0072B5"/></linearGradient>
<rect x="1586" y="429" width="135.6" height="23.3" fill="url(#gExp)"/>
<text x="1590.5" y="486.3" font-size="19" text-anchor="middle" font-family="Liberation Serif, Times New Roman, serif" style="font-family:Liberation Serif, Times New Roman, serif">−2</text>
<text x="1622.2" y="486.3" font-size="19" text-anchor="middle" font-family="Liberation Serif, Times New Roman, serif" style="font-family:Liberation Serif, Times New Roman, serif">−1</text>
<text x="1653.8" y="486.3" font-size="19" text-anchor="middle" font-family="Liberation Serif, Times New Roman, serif" style="font-family:Liberation Serif, Times New Roman, serif">0</text>
<text x="1685.5" y="486.3" font-size="19" text-anchor="middle" font-family="Liberation Serif, Times New Roman, serif" style="font-family:Liberation Serif, Times New Roman, serif">1</text>
<text x="1717.1" y="486.3" font-size="19" text-anchor="middle" font-family="Liberation Serif, Times New Roman, serif" style="font-family:Liberation Serif, Times New Roman, serif">2</text>
<path d="M1590.5 452.3V471M1622.2 452.3L1623 462L1624.2 471M1653.8 452.3V471M1685.5 452.3V471M1717.1 452.3V471" stroke="#000" stroke-width="1.4" fill="none"/>
<path d="M1590.5 429V433.5M1590.5 447.8V452.3M1622.2 429V433.5M1622.2 447.8V452.3M1653.8 429V433.5M1653.8 447.8V452.3M1685.5 429V433.5M1685.5 447.8V452.3M1717.1 429V433.5M1717.1 447.8V452.3" stroke="#fff" stroke-width="1.4" fill="none"/>
<text x="1587.5" y="418.5" font-size="18.5" font-weight="bold" font-family="Liberation Serif, Times New Roman, serif" style="font-family:Liberation Serif, Times New Roman, serif">Exp</text>
</g>
<g id="panelC">
<text x="25" y="1160.8" font-size="49.6" font-weight="bold">C</text>
<text x="447" y="1149" font-size="20.75">The Most Enriched GO Terms (Up)</text>
<path d="M508 1163.3V1767.6M591.6 1163.3V1767.6M675.2 1163.3V1767.6M758.8 1163.3V1767.6M842.4 1163.3V1767.6" stroke="#EBEBEB" stroke-width=".7" fill="none"/>
<path d="M466.2 1163.3V1767.6M549.8 1163.3V1767.6M633.4 1163.3V1767.6M717 1163.3V1767.6M800.6 1163.3V1767.6M884.2 1163.3V1767.6M446.5 1170.7H895.3M446.5 1184.1H895.3M446.5 1197.5H895.3M446.5 1210.9H895.3M446.5 1224.3H895.3M446.5 1237.7H895.3M446.5 1251.1H895.3M446.5 1264.5H895.3M446.5 1277.9H895.3M446.5 1291.3H895.3M446.5 1304.8H895.3M446.5 1318.2H895.3M446.5 1331.6H895.3M446.5 1345H895.3M446.5 1358.4H895.3M446.5 1371.8H895.3M446.5 1385.2H895.3M446.5 1398.6H895.3M446.5 1412H895.3M446.5 1425.4H895.3M446.5 1438.8H895.3M446.5 1452.2H895.3M446.5 1465.6H895.3M446.5 1479H895.3M446.5 1492.4H895.3M446.5 1505.8H895.3M446.5 1519.2H895.3M446.5 1532.6H895.3M446.5 1546H895.3M446.5 1559.4H895.3M446.5 1572.8H895.3M446.5 1586.3H895.3M446.5 1599.7H895.3M446.5 1613.1H895.3M446.5 1626.5H895.3M446.5 1639.9H895.3M446.5 1653.3H895.3M446.5 1666.7H895.3M446.5 1680.1H895.3M446.5 1693.5H895.3M446.5 1706.9H895.3M446.5 1720.3H895.3M446.5 1733.7H895.3M446.5 1747.1H895.3M446.5 1760.5H895.3" stroke="#EBEBEB" stroke-width="1.3" fill="none"/>
<path d="M466.2 1165.4h376.2v10.6h-376.2zM466.2 1178.8h376.2v10.6h-376.2zM466.2 1192.2h401.3v10.6h-401.3zM466.2 1205.6h409.6v10.6h-409.6zM466.2 1219h292.6v10.6h-292.6zM466.2 1232.4h301v10.6h-301zM466.2 1245.8h317.7v10.6h-317.7zM466.2 1259.2h209v10.6h-209zM466.2 1272.6h200.6v10.6h-200.6zM466.2 1286h284.2v10.6h-284.2zM466.2 1299.5h209v10.6h-209zM466.2 1312.9h200.6v10.6h-200.6zM466.2 1326.3h284.2v10.6h-284.2zM466.2 1339.7h200.6v10.6h-200.6zM466.2 1353.1h142.1v10.6h-142.1z" fill="#BB3825" fill-opacity=".71"/>
<path d="M466.2 1366.5h175.6v10.6h-175.6zM466.2 1379.9h175.6v10.6h-175.6zM466.2 1393.3h92v10.6h-92zM466.2 1406.7h92v10.6h-92zM466.2 1420.1h50.2v10.6h-50.2zM466.2 1433.5h133.8v10.6h-133.8zM466.2 1446.9h33.4v10.6h-33.4zM466.2 1460.3h33.4v10.6h-33.4zM466.2 1473.7h41.8v10.6h-41.8zM466.2 1487.1h66.9v10.6h-66.9zM466.2 1500.5h33.4v10.6h-33.4zM466.2 1513.9h50.2v10.6h-50.2zM466.2 1527.3h66.9v10.6h-66.9zM466.2 1540.7h41.8v10.6h-41.8zM466.2 1554.1h92v10.6h-92z" fill="#0072B5" fill-opacity=".71"/>
<path d="M466.2 1567.5h326v10.6h-326zM466.2 1581h234.1v10.6h-234.1zM466.2 1594.4h275.9v10.6h-275.9zM466.2 1607.8h192.3v10.6h-192.3zM466.2 1621.2h192.3v10.6h-192.3zM466.2 1634.6h217.4v10.6h-217.4zM466.2 1648h167.2v10.6h-167.2zM466.2 1661.4h167.2v10.6h-167.2zM466.2 1674.8h167.2v10.6h-167.2zM466.2 1688.2h158.8v10.6h-158.8zM466.2 1701.6h217.4v10.6h-217.4zM466.2 1715h66.9v10.6h-66.9zM466.2 1728.4h100.3v10.6h-100.3zM466.2 1741.8h83.6v10.6h-83.6zM466.2 1755.2h75.2v10.6h-75.2z" fill="#E18727" fill-opacity=".71"/>
<rect x="446.5" y="1163.3" width="448.8" height="604.3" fill="none" stroke="#5A5A5A" stroke-width="1.1"/>
<path d="M441.5 1170.7H446.5M441.5 1184.1H446.5M441.5 1197.5H446.5M441.5 1210.9H446.5M441.5 1224.3H446.5M441.5 1237.7H446.5M441.5 1251.1H446.5M441.5 1264.5H446.5M441.5 1277.9H446.5M441.5 1291.3H446.5M441.5 1304.8H446.5M441.5 1318.2H446.5M441.5 1331.6H446.5M441.5 1345H446.5M441.5 1358.4H446.5M441.5 1371.8H446.5M441.5 1385.2H446.5M441.5 1398.6H446.5M441.5 1412H446.5M441.5 1425.4H446.5M441.5 1438.8H446.5M441.5 1452.2H446.5M441.5 1465.6H446.5M441.5 1479H446.5M441.5 1492.4H446.5M441.5 1505.8H446.5M441.5 1519.2H446.5M441.5 1532.6H446.5M441.5 1546H446.5M441.5 1559.4H446.5M441.5 1572.8H446.5M441.5 1586.3H446.5M441.5 1599.7H446.5M441.5 1613.1H446.5M441.5 1626.5H446.5M441.5 1639.9H446.5M441.5 1653.3H446.5M441.5 1666.7H446.5M441.5 1680.1H446.5M441.5 1693.5H446.5M441.5 1706.9H446.5M441.5 1720.3H446.5M441.5 1733.7H446.5M441.5 1747.1H446.5M441.5 1760.5H446.5M466.2 1767.6V1772.6M549.8 1767.6V1772.6M633.4 1767.6V1772.6M717 1767.6V1772.6M800.6 1767.6V1772.6M884.2 1767.6V1772.6" stroke="#333" stroke-width="1.3" fill="none"/>
<g font-size="14.4" fill="#4D4D4D" text-anchor="end"><text x="437.7" y="1175.7">mitotic nuclear division</text><text x="437.7" y="1189.1">chromosome segregation</text><text x="437.7" y="1202.5">nuclear division</text><text x="437.7" y="1215.9">organelle fission</text><text x="437.7" y="1229.3">mitotic sister chromatid segregation</text><text x="437.7" y="1242.7">sister chromatid segregation</text><text x="437.7" y="1256.1">nuclear chromosome segregation</text><text x="437.7" y="1269.5">regulation of chromosome segregation</text><text x="437.7" y="1282.9">microtubule cytoskeleton organization involved in</text><text x="437.7" y="1296.3">regulation of mitotic cell cycle</text><text x="437.7" y="1309.8">spindle organization</text><text x="437.7" y="1323.2">regulation of mitotic nuclear division</text><text x="437.7" y="1336.6">regulation of cell cycle phase</text><text x="437.7" y="1350">regulation of nuclear division</text><text x="437.7" y="1363.4">regulation of mitotic sister chromatid</text><text x="437.7" y="1376.8">microtubule binding</text><text x="437.7" y="1390.2">tubulin binding</text><text x="437.7" y="1403.6">microtubule motor activity</text><text x="437.7" y="1417">motor activity</text><text x="437.7" y="1430.4">DNA replication origin binding</text><text x="437.7" y="1443.8">ATPase activity</text><text x="437.7" y="1457.2">ATP−dependent microtubule motor activity, plus−end−directed</text><text x="437.7" y="1470.6">histone kinase activity</text><text x="437.7" y="1484">cyclin−dependent protein serine/threonine kinase regulator</text><text x="437.7" y="1497.4">protein kinase regulator activity</text><text x="437.7" y="1510.8">ATP−dependent microtubule motor activity</text><text x="437.7" y="1524.2">DNA−dependent ATPase activity</text><text x="437.7" y="1537.6">kinase regulator activity</text><text x="437.7" y="1551">DNA helicase activity</text><text x="437.7" y="1564.4">protein serine/threonine kinase activity</text><text x="437.7" y="1577.8">spindle</text><text x="437.7" y="1591.3">chromosome, centromeric region</text><text x="437.7" y="1604.7">chromosomal region</text><text x="437.7" y="1618.1">condensed chromosome, centromeric region</text><text x="437.7" y="1631.5">kinetochore</text><text x="437.7" y="1644.9">condensed chromosome</text><text x="437.7" y="1658.3">condensed chromosome kinetochore</text><text x="437.7" y="1671.7">mitotic spindle</text><text x="437.7" y="1685.1">midbody</text><text x="437.7" y="1698.5">spindle pole</text><text x="437.7" y="1711.9">microtubule</text><text x="437.7" y="1725.3">condensed chromosome outer kinetochore</text><text x="437.7" y="1738.7">spindle microtubule</text><text x="437.7" y="1752.1">spindle midzone</text><text x="437.7" y="1765.5">condensed nuclear chromosome, centromeric region</text></g>
<text x="466.2" y="1786" font-size="14.2" text-anchor="middle" fill="#4D4D4D">0</text>
<text x="549.8" y="1786" font-size="14.2" text-anchor="middle" fill="#4D4D4D">10</text>
<text x="633.4" y="1786" font-size="14.2" text-anchor="middle" fill="#4D4D4D">20</text>
<text x="717" y="1786" font-size="14.2" text-anchor="middle" fill="#4D4D4D">30</text>
<text x="800.6" y="1786" font-size="14.2" text-anchor="middle" fill="#4D4D4D">40</text>
<text x="884.2" y="1786" font-size="14.2" text-anchor="middle" fill="#4D4D4D">50</text>
<text x="670" y="1807" font-size="17.8" text-anchor="middle">Gene_Number</text>
<text x="33" y="1464" font-size="17.8" text-anchor="middle" transform="rotate(-90 33 1464)">GO term</text>
<text x="922" y="1426" font-size="17.8">type</text>
<rect x="922.5" y="1438.5" width="25.8" height="25.8" fill="#D07367"/>
<text x="958.8" y="1456.5" font-size="14.4">Biological process</text>
<rect x="922.5" y="1465.9" width="25.8" height="25.8" fill="#4C9CCB"/>
<text x="958.8" y="1483.9" font-size="14.4">Molecular function</text>
<rect x="922.5" y="1493.3" width="25.8" height="25.8" fill="#EAAB68"/>
<text x="958.8" y="1511.3" font-size="14.4">Cellular component</text>
</g>
<g id="panelE">
<text x="29" y="1853.7" font-size="49.6" font-weight="bold">E</text>
<text x="377" y="1843" font-size="20.75">The Most Enriched GO Terms (Down)</text>
<path d="M473.9 1857.3V2462M621.3 1857.3V2462M768.7 1857.3V2462" stroke="#EBEBEB" stroke-width=".7" fill="none"/>
<path d="M400.2 1857.3V2462M547.6 1857.3V2462M695 1857.3V2462M842.4 1857.3V2462M376.8 1865.6H895.3M376.8 1879.3H895.3M376.8 1893H895.3M376.8 1906.7H895.3M376.8 1920.4H895.3M376.8 1934.1H895.3M376.8 1947.8H895.3M376.8 1961.5H895.3M376.8 1975.2H895.3M376.8 1988.9H895.3M376.8 2002.6H895.3M376.8 2016.3H895.3M376.8 2030H895.3M376.8 2043.7H895.3M376.8 2057.4H895.3M376.8 2071.1H895.3M376.8 2084.8H895.3M376.8 2098.5H895.3M376.8 2112.2H895.3M376.8 2125.9H895.3M376.8 2139.6H895.3M376.8 2153.3H895.3M376.8 2167H895.3M376.8 2180.7H895.3M376.8 2194.4H895.3M376.8 2208H895.3M376.8 2221.7H895.3M376.8 2235.4H895.3M376.8 2249.1H895.3M376.8 2262.8H895.3M376.8 2276.5H895.3M376.8 2290.2H895.3M376.8 2303.9H895.3M376.8 2317.6H895.3M376.8 2331.3H895.3M376.8 2345H895.3M376.8 2358.7H895.3M376.8 2372.4H895.3M376.8 2386.1H895.3M376.8 2399.8H895.3M376.8 2413.5H895.3M376.8 2427.2H895.3M376.8 2440.9H895.3M376.8 2454.6H895.3" stroke="#EBEBEB" stroke-width="1.3" fill="none"/>
<path d="M400.2 1860.3h442.2v10.6h-442.2zM400.2 1874h471.7v10.6h-471.7zM400.2 1887.7h206.4v10.6h-206.4zM400.2 1901.4h235.8v10.6h-235.8zM400.2 1915.1h265.3v10.6h-265.3zM400.2 1928.8h147.4v10.6h-147.4zM400.2 1942.5h235.8v10.6h-235.8zM400.2 1956.2h176.9v10.6h-176.9zM400.2 1969.9h117.9v10.6h-117.9zM400.2 1983.6h176.9v10.6h-176.9zM400.2 1997.3h176.9v10.6h-176.9zM400.2 2011h176.9v10.6h-176.9zM400.2 2024.7h147.4v10.6h-147.4zM400.2 2038.4h147.4v10.6h-147.4z" fill="#BB3825" fill-opacity=".71"/>
<path d="M400.2 2052.1h235.8v10.6h-235.8zM400.2 2065.8h206.4v10.6h-206.4zM400.2 2079.5h206.4v10.6h-206.4zM400.2 2093.2h88.4v10.6h-88.4zM400.2 2106.9h147.4v10.6h-147.4zM400.2 2120.6h59v10.6h-59zM400.2 2134.3h206.4v10.6h-206.4zM400.2 2148h59v10.6h-59zM400.2 2161.7h59v10.6h-59zM400.2 2175.4h59v10.6h-59zM400.2 2189.1h59v10.6h-59zM400.2 2202.7h59v10.6h-59zM400.2 2216.4h88.4v10.6h-88.4zM400.2 2230.1h88.4v10.6h-88.4zM400.2 2243.8h59v10.6h-59z" fill="#0072B5" fill-opacity=".71"/>
<path d="M400.2 2257.5h412.7v10.6h-412.7zM400.2 2271.2h265.3v10.6h-265.3zM400.2 2284.9h235.8v10.6h-235.8zM400.2 2298.6h176.9v10.6h-176.9zM400.2 2312.3h206.4v10.6h-206.4zM400.2 2326h176.9v10.6h-176.9zM400.2 2339.7h88.4v10.6h-88.4zM400.2 2353.4h147.4v10.6h-147.4zM400.2 2367.1h117.9v10.6h-117.9zM400.2 2380.8h117.9v10.6h-117.9zM400.2 2394.5h88.4v10.6h-88.4zM400.2 2408.2h59v10.6h-59zM400.2 2421.9h59v10.6h-59zM400.2 2435.6h88.4v10.6h-88.4zM400.2 2449.3h88.4v10.6h-88.4z" fill="#E18727" fill-opacity=".71"/>
<rect x="376.8" y="1857.3" width="518.5" height="604.7" fill="none" stroke="#5A5A5A" stroke-width="1.1"/>
<path d="M371.8 1865.6H376.8M371.8 1879.3H376.8M371.8 1893H376.8M371.8 1906.7H376.8M371.8 1920.4H376.8M371.8 1934.1H376.8M371.8 1947.8H376.8M371.8 1961.5H376.8M371.8 1975.2H376.8M371.8 1988.9H376.8M371.8 2002.6H376.8M371.8 2016.3H376.8M371.8 2030H376.8M371.8 2043.7H376.8M371.8 2057.4H376.8M371.8 2071.1H376.8M371.8 2084.8H376.8M371.8 2098.5H376.8M371.8 2112.2H376.8M371.8 2125.9H376.8M371.8 2139.6H376.8M371.8 2153.3H376.8M371.8 2167H376.8M371.8 2180.7H376.8M371.8 2194.4H376.8M371.8 2208H376.8M371.8 2221.7H376.8M371.8 2235.4H376.8M371.8 2249.1H376.8M371.8 2262.8H376.8M371.8 2276.5H376.8M371.8 2290.2H376.8M371.8 2303.9H376.8M371.8 2317.6H376.8M371.8 2331.3H376.8M371.8 2345H376.8M371.8 2358.7H376.8M371.8 2372.4H376.8M371.8 2386.1H376.8M371.8 2399.8H376.8M371.8 2413.5H376.8M371.8 2427.2H376.8M371.8 2440.9H376.8M371.8 2454.6H376.8M400.2 2462V2467M547.6 2462V2467M695 2462V2467M842.4 2462V2467" stroke="#333" stroke-width="1.3" fill="none"/>
<g font-size="14.4" fill="#4D4D4D" text-anchor="end"><text x="367.7" y="1870.6">muscle contraction</text><text x="367.7" y="1884.3">muscle system process</text><text x="367.7" y="1898">smooth muscle contraction</text><text x="367.7" y="1911.7">regulation of muscle contraction</text><text x="367.7" y="1925.4">regulation of muscle system process</text><text x="367.7" y="1939.1">regulation of smooth muscle contraction</text><text x="367.7" y="1952.8">negative regulation of calcium ion</text><text x="367.7" y="1966.5">calcium ion transport into cytosol</text><text x="367.7" y="1980.2">regulation of granulocyte chemotaxis</text><text x="367.7" y="1993.9">striated muscle cell development</text><text x="367.7" y="2007.6">cytosolic calcium ion transport</text><text x="367.7" y="2021.3">muscle cell development</text><text x="367.7" y="2035">release of sequestered calcium ion</text><text x="367.7" y="2048.7">negative regulation of sequestering of</text><text x="367.7" y="2062.4">glycosaminoglycan binding</text><text x="367.7" y="2076.1">heparin binding</text><text x="367.7" y="2089.8">sulfur compound binding</text><text x="367.7" y="2103.5">immunoglobulin binding</text><text x="367.7" y="2117.2">extracellular matrix structural constituent</text><text x="367.7" y="2130.9">alcohol dehydrogenase [NAD(P)+] activity</text><text x="367.7" y="2144.6">actin binding</text><text x="367.7" y="2158.3">retinol dehydrogenase activity</text><text x="367.7" y="2172">extracellular matrix structural constituent conferring</text><text x="367.7" y="2185.7">structural constituent of eye lens</text><text x="367.7" y="2199.4">metallocarboxypeptidase activity</text><text x="367.7" y="2213">Wnt−protein binding</text><text x="367.7" y="2226.7">chaperone binding</text><text x="367.7" y="2240.4">unfolded protein binding</text><text x="367.7" y="2254.1">carboxypeptidase activity</text><text x="367.7" y="2267.8">collagen−containing extracellular matrix</text><text x="367.7" y="2281.5">contractile fiber</text><text x="367.7" y="2295.2">myofibril</text><text x="367.7" y="2308.9">Z disc</text><text x="367.7" y="2322.6">sarcomere</text><text x="367.7" y="2336.3">I band</text><text x="367.7" y="2350">costamere</text><text x="367.7" y="2363.7">sarcolemma</text><text x="367.7" y="2377.4">actin filament bundle</text><text x="367.7" y="2391.1">sarcoplasm</text><text x="367.7" y="2404.8">intercalated disc</text><text x="367.7" y="2418.5">interstitial matrix</text><text x="367.7" y="2432.2">cation−transporting ATPase complex</text><text x="367.7" y="2445.9">stress fiber</text><text x="367.7" y="2459.6">contractile actin filament bundle</text></g>
<text x="400.2" y="2481" font-size="14.2" text-anchor="middle" fill="#4D4D4D">0</text>
<text x="547.6" y="2481" font-size="14.2" text-anchor="middle" fill="#4D4D4D">5</text>
<text x="695" y="2481" font-size="14.2" text-anchor="middle" fill="#4D4D4D">10</text>
<text x="842.4" y="2481" font-size="14.2" text-anchor="middle" fill="#4D4D4D">15</text>
<text x="636" y="2501.5" font-size="17.8" text-anchor="middle">Gene_Number</text>
<text x="33" y="2160" font-size="17.8" text-anchor="middle" transform="rotate(-90 33 2160)">GO term</text>
<text x="922" y="2120" font-size="17.8">type</text>
<rect x="922.5" y="2132.5" width="25.8" height="25.8" fill="#D07367"/>
<text x="958.8" y="2150.5" font-size="14.4">Biological process</text>
<rect x="922.5" y="2159.9" width="25.8" height="25.8" fill="#4C9CCB"/>
<text x="958.8" y="2177.9" font-size="14.4">Molecular function</text>
<rect x="922.5" y="2187.3" width="25.8" height="25.8" fill="#EAAB68"/>
<text x="958.8" y="2205.3" font-size="14.4">Cellular component</text>
</g>
<g id="panelD">
<text x="1103.4" y="1159.8" font-size="49.6" font-weight="bold">D</text>
<text x="1434" y="1150" font-size="20.8">KEGG Pathway Enrichment (Up)</text>
<path d="M1450.9 1163.5V1767.6M1507.9 1163.5V1767.6M1564.9 1163.5V1767.6M1621.9 1163.5V1767.6M1678.9 1163.5V1767.6" stroke="#EBEBEB" stroke-width=".7" fill="none"/>
<path d="M1479.4 1163.5V1767.6M1536.4 1163.5V1767.6M1593.4 1163.5V1767.6M1650.4 1163.5V1767.6M1434 1180.6H1696.4M1434 1210.6H1696.4M1434 1240.6H1696.4M1434 1270.6H1696.4M1434 1300.6H1696.4M1434 1330.6H1696.4M1434 1360.6H1696.4M1434 1390.6H1696.4M1434 1420.6H1696.4M1434 1450.6H1696.4M1434 1480.6H1696.4M1434 1510.6H1696.4M1434 1540.6H1696.4M1434 1570.6H1696.4M1434 1600.6H1696.4M1434 1630.6H1696.4M1434 1660.6H1696.4M1434 1690.6H1696.4M1434 1720.6H1696.4M1434 1750.6H1696.4" stroke="#EBEBEB" stroke-width="1.3" fill="none"/>
<circle cx="1684.6" cy="1180.6" r="11.5" fill="#419BD2"/>
<circle cx="1559.2" cy="1210.6" r="8.8" fill="#BD7F83"/>
<circle cx="1536.4" cy="1240.6" r="8.2" fill="#C67A78"/>
<circle cx="1536.4" cy="1270.6" r="8.2" fill="#C67A78"/>
<circle cx="1547.8" cy="1300.6" r="8.5" fill="#C97974"/>
<circle cx="1502.2" cy="1330.6" r="7" fill="#CB7771"/>
<circle cx="1456.6" cy="1360.6" r="4.7" fill="#D0746B"/>
<circle cx="1479.4" cy="1390.6" r="6.1" fill="#D27368"/>
<circle cx="1502.2" cy="1420.6" r="7" fill="#D27368"/>
<circle cx="1445.2" cy="1450.6" r="2.8" fill="#D37266"/>
<circle cx="1445.2" cy="1480.6" r="2.8" fill="#D37266"/>
<circle cx="1468" cy="1510.6" r="5.5" fill="#D37266"/>
<circle cx="1456.6" cy="1540.6" r="4.7" fill="#D37266"/>
<circle cx="1479.4" cy="1570.6" r="6.1" fill="#D37266"/>
<circle cx="1456.6" cy="1600.6" r="4.7" fill="#D37266"/>
<circle cx="1479.4" cy="1630.6" r="6.1" fill="#D37266"/>
<circle cx="1479.4" cy="1660.6" r="6.1" fill="#D37266"/>
<circle cx="1468" cy="1690.6" r="5.5" fill="#D37266"/>
<circle cx="1468" cy="1720.6" r="5.5" fill="#D37266"/>
<circle cx="1445.2" cy="1750.6" r="2.8" fill="#D37266"/>
<rect x="1434" y="1163.5" width="262.4" height="604.1" fill="none" stroke="#5A5A5A" stroke-width="1.1"/>
<path d="M1429 1180.6H1434M1429 1210.6H1434M1429 1240.6H1434M1429 1270.6H1434M1429 1300.6H1434M1429 1330.6H1434M1429 1360.6H1434M1429 1390.6H1434M1429 1420.6H1434M1429 1450.6H1434M1429 1480.6H1434M1429 1510.6H1434M1429 1540.6H1434M1429 1570.6H1434M1429 1600.6H1434M1429 1630.6H1434M1429 1660.6H1434M1429 1690.6H1434M1429 1720.6H1434M1429 1750.6H1434M1479.4 1767.6V1772.6M1536.4 1767.6V1772.6M1593.4 1767.6V1772.6M1650.4 1767.6V1772.6" stroke="#333" stroke-width="1.3" fill="none"/>
<g font-size="14.4" fill="#4D4D4D" text-anchor="end"><text x="1424.8" y="1185.6">Cell cycle</text><text x="1424.8" y="1215.6">Oocyte meiosis</text><text x="1424.8" y="1245.6">Progesterone−mediated oocyte maturation</text><text x="1424.8" y="1275.6">Cellular senescence</text><text x="1424.8" y="1305.6">Human T−cell leukemia virus 1</text><text x="1424.8" y="1335.6">p53 signaling pathway</text><text x="1424.8" y="1365.6">DNA replication</text><text x="1424.8" y="1395.6">Wnt signaling pathway</text><text x="1424.8" y="1425.6">MicroRNAs in cancer</text><text x="1424.8" y="1455.6">Steroid biosynthesis</text><text x="1424.8" y="1485.6">Mismatch repair</text><text x="1424.8" y="1515.6">FoxO signaling pathway</text><text x="1424.8" y="1545.6">Platinum drug resistance</text><text x="1424.8" y="1575.6">Viral carcinogenesis</text><text x="1424.8" y="1605.6">Pancreatic cancer</text><text x="1424.8" y="1635.6">Human immunodeficiency virus 1 infection</text><text x="1424.8" y="1665.6">Chemical carcinogenesis − receptor activation</text><text x="1424.8" y="1695.6">Cushing syndrome</text><text x="1424.8" y="1725.6">Hepatitis B</text><text x="1424.8" y="1755.6">Bladder cancer</text></g>
<text x="1479.4" y="1786" font-size="14.2" text-anchor="middle" fill="#4D4D4D">5</text>
<text x="1536.4" y="1786" font-size="14.2" text-anchor="middle" fill="#4D4D4D">10</text>
<text x="1593.4" y="1786" font-size="14.2" text-anchor="middle" fill="#4D4D4D">15</text>
<text x="1650.4" y="1786" font-size="14.2" text-anchor="middle" fill="#4D4D4D">20</text>
<text x="1565" y="1807" font-size="17.6" text-anchor="middle">Gene Number</text>
<text x="1122.4" y="1464" font-size="17.6" text-anchor="middle" transform="rotate(-90 1122.4 1464)">Pathways</text>
<text x="1723.6" y="1309" font-size="17.8">Count</text>
<circle cx="1737" cy="1333" r="6.1" fill="#000"/>
<text x="1760" y="1338" font-size="14.2">5</text>
<circle cx="1737" cy="1361" r="8.2" fill="#000"/>
<text x="1760" y="1366" font-size="14.2">10</text>
<circle cx="1737" cy="1389" r="9.6" fill="#000"/>
<text x="1760" y="1394" font-size="14.2">15</text>
<circle cx="1737" cy="1417" r="10.9" fill="#000"/>
<text x="1760" y="1422" font-size="14.2">20</text>
<text x="1723.6" y="1483" font-size="18.2"><tspan font-size="13">−</tspan><tspan dx="2.6">log10(pvalue)</tspan></text>
<linearGradient id="cbpanelD" x1="0" x2="0" y1="0" y2="1"><stop offset="0.0" stop-color="#419BD2"/><stop offset="0.125" stop-color="#6897C4"/><stop offset="0.25" stop-color="#8292B6"/><stop offset="0.375" stop-color="#958DA8"/><stop offset="0.5" stop-color="#A6889A"/><stop offset="0.625" stop-color="#B4838D"/><stop offset="0.75" stop-color="#C07D7F"/><stop offset="0.875" stop-color="#CB7772"/><stop offset="1.0" stop-color="#D57164"/></linearGradient>
<rect x="1723.6" y="1498.5" width="27.4" height="137.5" fill="url(#cbpanelD)"/>
<text x="1760" y="1510" font-size="14.2">25</text>
<text x="1760" y="1538" font-size="14.2">20</text>
<text x="1760" y="1566" font-size="14.2">15</text>
<text x="1760" y="1593.8" font-size="14.2">10</text>
<text x="1760" y="1621.5" font-size="14.2">5</text>
<path d="M1723.6 1505h5.5M1751 1505h-5.5M1723.6 1533h5.5M1751 1533h-5.5M1723.6 1561h5.5M1751 1561h-5.5M1723.6 1588.8h5.5M1751 1588.8h-5.5M1723.6 1616.5h5.5M1751 1616.5h-5.5" stroke="#fff" stroke-width="1" fill="none"/>
</g>
<g id="panelF">
<text x="1102" y="1853.5" font-size="49.6" font-weight="bold">F</text>
<text x="1402.5" y="1844" font-size="20.8">KEGG Pathway Enrichment (Down)</text>
<path d="M1460.5 1857.5V2462M1549.8 1857.5V2462M1639 1857.5V2462" stroke="#EBEBEB" stroke-width=".7" fill="none"/>
<path d="M1415.8 1857.5V2462M1505.1 1857.5V2462M1594.4 1857.5V2462M1683.7 1857.5V2462M1403 1886.7H1696.4M1403 1936.4H1696.4M1403 1986.1H1696.4M1403 2035.8H1696.4M1403 2085.5H1696.4M1403 2135.2H1696.4M1403 2184.9H1696.4M1403 2234.6H1696.4M1403 2284.3H1696.4M1403 2334H1696.4M1403 2383.7H1696.4M1403 2433.4H1696.4" stroke="#EBEBEB" stroke-width="1.3" fill="none"/>
<circle cx="1505.1" cy="1886.7" r="7.8" fill="#4B9ACF"/>
<circle cx="1683.7" cy="1936.4" r="11.5" fill="#7D93B9"/>
<circle cx="1594.4" cy="1986.1" r="9.9" fill="#9C8BA3"/>
<circle cx="1415.8" cy="2035.8" r="2.8" fill="#D37267"/>
<circle cx="1415.8" cy="2085.5" r="2.8" fill="#D37267"/>
<circle cx="1415.8" cy="2135.2" r="2.8" fill="#D37267"/>
<circle cx="1594.4" cy="2184.9" r="9.9" fill="#CB7772"/>
<circle cx="1415.8" cy="2234.6" r="2.8" fill="#D37267"/>
<circle cx="1415.8" cy="2284.3" r="2.8" fill="#D37267"/>
<circle cx="1415.8" cy="2334" r="2.8" fill="#D37267"/>
<circle cx="1415.8" cy="2383.7" r="2.8" fill="#D37267"/>
<circle cx="1415.8" cy="2433.4" r="2.8" fill="#D37267"/>
<rect x="1403" y="1857.5" width="293.4" height="604.5" fill="none" stroke="#5A5A5A" stroke-width="1.1"/>
<path d="M1398 1886.7H1403M1398 1936.4H1403M1398 1986.1H1403M1398 2035.8H1403M1398 2085.5H1403M1398 2135.2H1403M1398 2184.9H1403M1398 2234.6H1403M1398 2284.3H1403M1398 2334H1403M1398 2383.7H1403M1398 2433.4H1403M1415.8 2462V2467M1505.1 2462V2467M1594.4 2462V2467M1683.7 2462V2467" stroke="#333" stroke-width="1.3" fill="none"/>
<g font-size="14.4" fill="#4D4D4D" text-anchor="end"><text x="1394" y="1891.7">Tyrosine metabolism</text><text x="1394" y="1941.4">cGMP−PKG signaling pathway</text><text x="1394" y="1991.1">Vascular smooth muscle contraction</text><text x="1394" y="2040.8">Fatty acid degradation</text><text x="1394" y="2090.5">Pyruvate metabolism</text><text x="1394" y="2140.2">Malaria</text><text x="1394" y="2189.9">Calcium signaling pathway</text><text x="1394" y="2239.6">Glycolysis / Gluconeogenesis</text><text x="1394" y="2289.3">Retinol metabolism</text><text x="1394" y="2339">Drug metabolism − cytochrome P450</text><text x="1394" y="2388.7">Gastric acid secretion</text><text x="1394" y="2438.4">Metabolism of xenobiotics by cytochrome</text></g>
<text x="1415.8" y="2481" font-size="14.2" text-anchor="middle" fill="#4D4D4D">2</text>
<text x="1505.1" y="2481" font-size="14.2" text-anchor="middle" fill="#4D4D4D">3</text>
<text x="1594.4" y="2481" font-size="14.2" text-anchor="middle" fill="#4D4D4D">4</text>
<text x="1683.7" y="2481" font-size="14.2" text-anchor="middle" fill="#4D4D4D">5</text>
<text x="1549.7" y="2501.5" font-size="17.6" text-anchor="middle">Gene Number</text>
<text x="1122.4" y="2158" font-size="17.6" text-anchor="middle" transform="rotate(-90 1122.4 2158)">Pathways</text>
<text x="1723.6" y="2003" font-size="17.8">Count</text>
<circle cx="1737" cy="2028" r="2.8" fill="#000"/>
<text x="1760" y="2033" font-size="14.2">2</text>
<circle cx="1737" cy="2055.8" r="7.8" fill="#000"/>
<text x="1760" y="2060.8" font-size="14.2">3</text>
<circle cx="1737" cy="2083.6" r="9.9" fill="#000"/>
<text x="1760" y="2088.6" font-size="14.2">4</text>
<circle cx="1737" cy="2111.5" r="11.5" fill="#000"/>
<text x="1760" y="2116.5" font-size="14.2">5</text>
<text x="1723.6" y="2176" font-size="18.2"><tspan font-size="13">−</tspan><tspan dx="2.6">log10(pvalue)</tspan></text>
<linearGradient id="cbpanelF" x1="0" x2="0" y1="0" y2="1"><stop offset="0.0" stop-color="#419BD2"/><stop offset="0.125" stop-color="#6897C4"/><stop offset="0.25" stop-color="#8292B6"/><stop offset="0.375" stop-color="#958DA8"/><stop offset="0.5" stop-color="#A6889A"/><stop offset="0.625" stop-color="#B4838D"/><stop offset="0.75" stop-color="#C07D7F"/><stop offset="0.875" stop-color="#CB7772"/><stop offset="1.0" stop-color="#D57164"/></linearGradient>
<rect x="1723.6" y="2192.4" width="27.4" height="138.2" fill="url(#cbpanelF)"/>
<text x="1760" y="2214.4" font-size="14.2">3.0</text>
<text x="1760" y="2251.4" font-size="14.2">2.5</text>
<text x="1760" y="2286.5" font-size="14.2">2.0</text>
<text x="1760" y="2322.3" font-size="14.2">1.5</text>
<path d="M1723.6 2209.4h5.5M1751 2209.4h-5.5M1723.6 2246.4h5.5M1751 2246.4h-5.5M1723.6 2281.5h5.5M1751 2281.5h-5.5M1723.6 2317.3h5.5M1751 2317.3h-5.5" stroke="#fff" stroke-width="1" fill="none"/>
</g>
</svg></body></html>
